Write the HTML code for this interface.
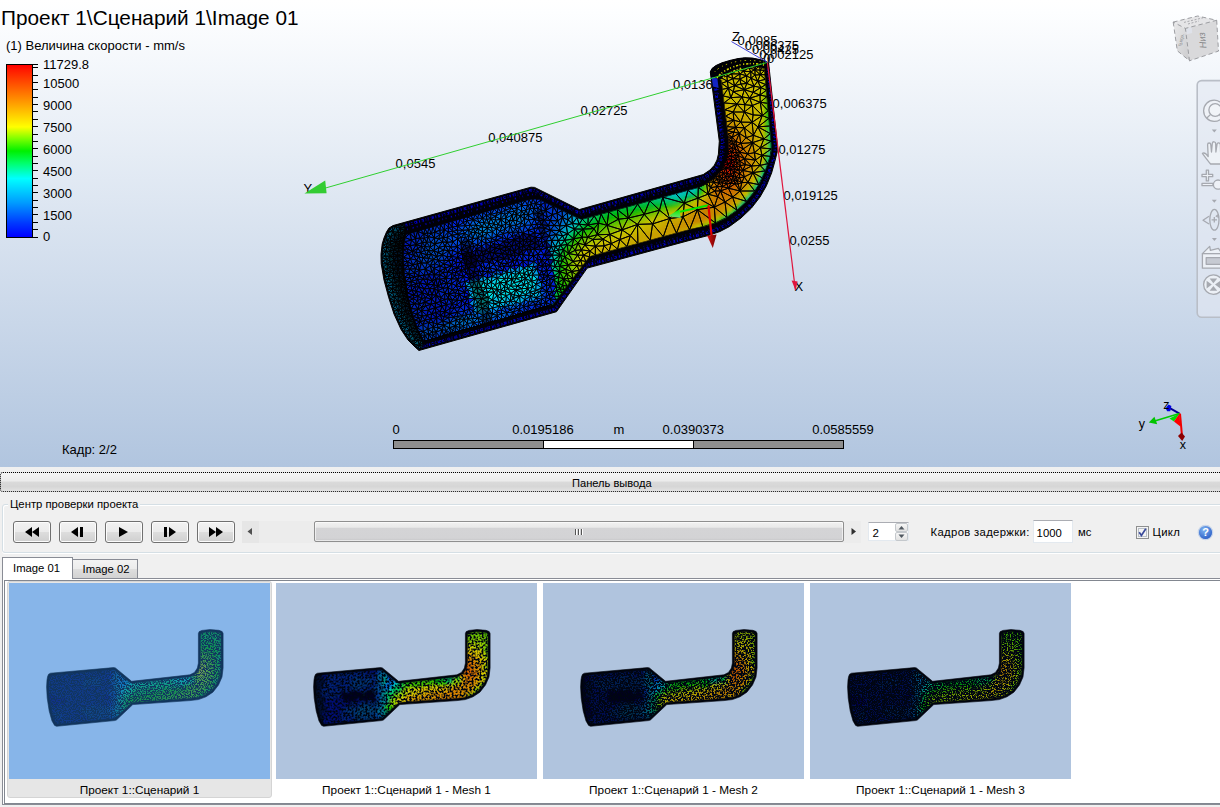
<!DOCTYPE html>
<html><head><meta charset="utf-8">
<style>
*{box-sizing:border-box;margin:0;padding:0}
html,body{width:1220px;height:807px;overflow:hidden;background:#f0f0f0;font-family:"Liberation Sans",sans-serif;}
#vp{position:absolute;left:0;top:0;width:1220px;height:467px;background:linear-gradient(#ffffff 0px,#fdfeff 12px,#b1c5df 467px);overflow:hidden}
.t{position:absolute;white-space:nowrap;color:#000;line-height:1}
#title{left:1px;top:8px;font-size:20.8px;}
#sub{left:6px;top:39px;font-size:13px;}
.lg{font-size:13px;left:43px}
.ax{font-size:13px}
#panel{position:absolute;left:0;top:467px;width:1220px;height:340px;background:#f0f0f0}
.ui{font-size:11px;position:absolute;white-space:nowrap;color:#000;line-height:1}
.btn{position:absolute;top:521px;width:38px;height:22px;border:1px solid #707070;border-radius:3px;background:linear-gradient(#f2f2f2 0%,#ebebeb 48%,#dddddd 52%,#cfcfcf 100%);box-shadow:inset 0 0 0 1px #fcfcfc}
.thumb{position:absolute;top:583px;width:261px;height:196px;background:#b0c4de;overflow:hidden}
.cap{position:absolute;top:784.9px;width:261px;text-align:center;font-size:11.8px;color:#000;line-height:1;white-space:nowrap}
</style></head><body>
<div id="vp">
<div class="t ax" style="left:673.0px;top:77.9px;">0,013625</div>
<div class="t ax" style="left:580.6px;top:104.2px;">0,02725</div>
<div class="t ax" style="left:488.2px;top:130.7px;">0,040875</div>
<div class="t ax" style="left:395.6px;top:156.8px;">0,0545</div>
<div class="t ax" style="left:303.4px;top:182.4px;">Y</div>
<div class="t ax" style="left:772.6px;top:97.2px;">0,006375</div>
<div class="t ax" style="left:778.4px;top:142.8px;">0,01275</div>
<div class="t ax" style="left:783.6px;top:188.5px;">0,019125</div>
<div class="t ax" style="left:789.6px;top:234.4px;">0,0255</div>
<div class="t ax" style="left:794.6px;top:279.8px;">X</div>
<div class="t ax" style="left:732.0px;top:30.2px;">Z</div>
<div class="t ax" style="left:737.6px;top:33.8px;">0,0085</div>
<div class="t ax" style="left:744.8px;top:38.6px;">0,006375</div>
<div class="t ax" style="left:752.0px;top:43.4px;">0,00425</div>
<div class="t ax" style="left:759.2px;top:48.0px;">0,002125</div>
<div class="t ax" style="left:767.0px;top:51.8px;">0</div>
<div class="t ax" style="left:763.2px;top:51.8px;">0</div>
<svg style="position:absolute;left:0;top:0" width="1220" height="467" viewBox="0 0 1220 467">
<defs><clipPath id="cI"><polygon points="406.0,234.5 530.0,199.2 538.0,199.0 581.0,219.6 700.0,187.0 707.0,183.4 715.2,177.4 722.6,169.0 726.8,158.6 728.8,150.0 728.6,141.0 721.3,80.9 722.0,75.0 725.5,70.0 733.0,66.4 744.0,63.8 756.0,64.2 764.2,67.3 771.4,145.0 771.2,152.0 768.8,161.2 765.0,171.6 760.0,182.4 753.8,192.6 746.0,202.0 736.2,211.0 725.6,218.2 716.8,222.4 706.0,226.0 693.6,228.6 589.5,256.6 553.0,304.5 424.0,341.5 418.0,330.0 412.0,312.0 407.5,294.0 404.5,276.0 403.5,258.0 404.0,244.0"/></clipPath><clipPath id="cS"><polygon points="386.5,232.0 389.0,228.0 393.0,225.6 531.0,187.2 534.5,187.4 579.3,209.6 703.2,174.6 710.0,170.0 714.3,165.3 717.0,160.0 718.4,154.2 719.3,141.2 710.4,72.7 710.2,72.0 712.0,68.5 716.0,65.5 722.0,62.8 730.0,60.4 738.0,58.6 744.5,57.8 752.0,58.0 760.0,59.6 765.0,61.0 768.6,62.8 777.3,145.0 777.2,152.0 774.8,161.6 771.6,173.0 766.4,185.8 760.0,197.0 751.5,208.0 741.0,218.0 729.2,226.7 720.0,231.5 708.0,235.6 695.8,238.7 587.2,268.1 556.5,311.7 418.9,350.5 414.0,346.0 408.0,340.0 401.0,329.4 394.0,314.0 388.6,297.2 384.0,280.0 381.2,263.7 381.0,254.3 382.2,244.0 384.0,238.0"/></clipPath><filter id="pb" x="-5%" y="-5%" width="110%" height="110%"><feGaussianBlur stdDeviation="1.6"/></filter></defs>
<polygon points="386.5,232.0 389.0,228.0 393.0,225.6 531.0,187.2 534.5,187.4 579.3,209.6 703.2,174.6 710.0,170.0 714.3,165.3 717.0,160.0 718.4,154.2 719.3,141.2 710.4,72.7 710.2,72.0 712.0,68.5 716.0,65.5 722.0,62.8 730.0,60.4 738.0,58.6 744.5,57.8 752.0,58.0 760.0,59.6 765.0,61.0 768.6,62.8 777.3,145.0 777.2,152.0 774.8,161.6 771.6,173.0 766.4,185.8 760.0,197.0 751.5,208.0 741.0,218.0 729.2,226.7 720.0,231.5 708.0,235.6 695.8,238.7 587.2,268.1 556.5,311.7 418.9,350.5 414.0,346.0 408.0,340.0 401.0,329.4 394.0,314.0 388.6,297.2 384.0,280.0 381.2,263.7 381.0,254.3 382.2,244.0 384.0,238.0" fill="#000008" stroke="#000" stroke-width="1"/>
<g clip-path="url(#cS)"><polygon points="389.2,233.4 386.8,239.0 385.1,244.6 384.0,254.4 384.2,263.4 386.9,279.4 391.5,296.4 396.8,312.9 403.6,327.9 410.3,338.1 416.1,343.8 419.7,347.2 554.7,309.1 584.7,266.4 584.9,266.1 585.1,265.9 585.4,265.7 585.6,265.6 585.9,265.4 586.1,265.3 586.4,265.2 695.0,235.8 695.1,235.8 707.1,232.7 718.8,228.7 727.6,224.1 739.1,215.7 749.3,206.0 757.5,195.3 763.7,184.5 768.8,172.0 771.9,160.8 774.2,151.6 774.3,145.1 765.8,64.7 763.9,63.8 759.3,62.5 751.7,61.0 744.6,60.8 738.5,61.6 730.8,63.3 723.1,65.6 717.5,68.1 714.4,70.5 713.4,72.4 722.3,140.8 722.3,141.1 722.3,141.4 721.4,154.4 721.4,154.7 721.3,154.9 719.9,160.7 719.8,161.0 719.7,161.4 717.0,166.7 716.8,166.9 716.7,167.1 716.5,167.3 712.2,172.0 712.0,172.3 711.7,172.5 704.9,177.1 704.6,177.2 704.3,177.4 704.0,177.5 580.1,212.5 579.8,212.6 579.5,212.6 579.2,212.6 578.9,212.6 578.6,212.5 578.3,212.4 578.0,212.3 533.7,190.4 531.3,190.2 394.2,228.4 391.2,230.2 389.2,233.4" fill="none" stroke="#0000c0" stroke-width="2.7" stroke-dasharray="2.4 1.6 1.1 1.5 3.2 1.8 1.6 1.3 0.8 1.7"/><polygon points="389.2,233.4 386.8,239.0 385.1,244.6 384.0,254.4 384.2,263.4 386.9,279.4 391.5,296.4 396.8,312.9 403.6,327.9 410.3,338.1 416.1,343.8 419.7,347.2 554.7,309.1 584.7,266.4 584.9,266.1 585.1,265.9 585.4,265.7 585.6,265.6 585.9,265.4 586.1,265.3 586.4,265.2 695.0,235.8 695.1,235.8 707.1,232.7 718.8,228.7 727.6,224.1 739.1,215.7 749.3,206.0 757.5,195.3 763.7,184.5 768.8,172.0 771.9,160.8 774.2,151.6 774.3,145.1 765.8,64.7 763.9,63.8 759.3,62.5 751.7,61.0 744.6,60.8 738.5,61.6 730.8,63.3 723.1,65.6 717.5,68.1 714.4,70.5 713.4,72.4 722.3,140.8 722.3,141.1 722.3,141.4 721.4,154.4 721.4,154.7 721.3,154.9 719.9,160.7 719.8,161.0 719.7,161.4 717.0,166.7 716.8,166.9 716.7,167.1 716.5,167.3 712.2,172.0 712.0,172.3 711.7,172.5 704.9,177.1 704.6,177.2 704.3,177.4 704.0,177.5 580.1,212.5 579.8,212.6 579.5,212.6 579.2,212.6 578.9,212.6 578.6,212.5 578.3,212.4 578.0,212.3 533.7,190.4 531.3,190.2 394.2,228.4 391.2,230.2 389.2,233.4" fill="none" stroke="#000008" stroke-width="1.2" stroke-dasharray="1.6 1.5 1 2.2 2.4 1.3"/><polygon points="390.2,233.9 387.9,239.4 386.2,244.8 385.1,254.5 385.3,263.3 388.0,279.1 392.5,296.0 397.8,312.5 404.6,327.4 411.2,337.4 416.8,343.0 420.0,345.9 554.0,308.1 583.8,265.7 584.1,265.4 584.4,265.1 584.7,264.9 585.0,264.6 585.4,264.4 585.7,264.3 586.1,264.1 694.7,234.7 694.8,234.7 706.8,231.7 718.4,227.7 727.0,223.2 738.4,214.9 748.4,205.2 756.6,194.7 762.7,184.0 767.7,171.7 770.8,160.5 773.1,151.5 773.2,145.2 764.8,65.5 763.5,64.8 759.0,63.6 751.5,62.1 744.7,61.9 738.7,62.6 731.0,64.4 723.4,66.6 718.1,69.1 715.2,71.2 714.5,72.6 723.4,140.7 723.4,141.1 723.4,141.5 722.5,154.5 722.5,154.8 722.4,155.2 721.0,161.0 720.8,161.4 720.7,161.9 718.0,167.2 717.8,167.5 717.6,167.8 717.3,168.1 713.0,172.8 712.7,173.1 712.3,173.4 705.5,178.0 705.1,178.2 704.7,178.4 704.3,178.5 580.4,213.5 580.0,213.6 579.6,213.7 579.1,213.7 578.7,213.7 578.3,213.6 577.9,213.4 577.5,213.3 533.4,191.4 531.4,191.3 394.6,229.4 392.0,231.0 390.2,233.9" fill="none" stroke="#000008" stroke-width="0.9" stroke-dasharray="0.9 3.3 1.6 2.2"/></g>
<g clip-path="url(#cS)"><polygon points="401.5,233.6 399.5,243.1 399.4,243.4 399.4,243.8 398.9,257.8 398.9,258.3 399.9,276.3 400.0,276.8 403.0,294.8 403.0,295.1 407.5,313.1 407.6,313.5 413.6,331.5 413.8,331.8 413.9,332.1 419.9,343.6 420.1,344.0 420.4,344.4 420.7,344.7 421.0,345.0 421.4,345.3 421.8,345.5 422.2,345.7 422.6,345.9 423.0,346.0 423.5,346.1 423.9,346.1 424.4,346.1 424.8,346.0 425.3,345.9 554.3,308.9 554.7,308.8 555.1,308.6 555.4,308.4 555.8,308.2 556.1,307.9 556.4,307.6 556.7,307.3 592.2,260.6 694.7,233.1 706.9,230.5 707.5,230.4 718.3,226.8 718.8,226.6 727.6,222.4 727.9,222.2 728.2,222.0 738.8,214.8 739.3,214.4 749.1,205.4 749.5,204.9 757.3,195.5 757.7,195.0 763.9,184.8 764.2,184.3 769.2,173.5 769.3,173.2 773.1,162.8 773.3,162.4 775.7,153.2 775.8,152.7 775.8,152.1 776.0,145.1 776.0,144.6 768.8,66.9 768.7,66.4 768.6,66.0 768.4,65.5 768.2,65.1 768.0,64.7 767.7,64.3 767.4,64.0 767.0,63.7 766.7,63.4 766.3,63.2 765.8,63.0 757.6,59.9 757.1,59.7 756.7,59.6 756.2,59.6 744.2,59.2 743.7,59.2 743.3,59.2 742.9,59.3 731.9,61.9 731.5,62.1 731.0,62.3 723.5,65.9 723.1,66.1 722.7,66.3 722.3,66.7 722.0,67.0 721.7,67.4 718.2,72.4 718.0,72.7 717.8,73.2 717.6,73.6 717.5,74.0 717.4,74.5 716.7,80.4 716.7,80.9 716.7,81.5 724.0,141.3 724.2,149.5 722.4,157.2 718.6,166.5 712.1,174.0 704.6,179.5 698.3,182.7 581.4,214.7 540.0,194.9 539.6,194.7 539.2,194.6 538.7,194.5 538.3,194.4 537.9,194.4 529.9,194.6 529.5,194.6 529.1,194.7 528.7,194.8 404.7,230.1 404.3,230.2 403.9,230.4 403.5,230.6 403.1,230.9 402.8,231.2 402.5,231.5 402.2,231.9 402.0,232.3 401.8,232.7 401.6,233.1 401.5,233.6" fill="none" stroke="#0000b8" stroke-width="1.6" stroke-dasharray="0.9 3.1 1.6 4.4 0.7 2.6"/><polygon points="401.5,233.6 399.5,243.1 399.4,243.4 399.4,243.8 398.9,257.8 398.9,258.3 399.9,276.3 400.0,276.8 403.0,294.8 403.0,295.1 407.5,313.1 407.6,313.5 413.6,331.5 413.8,331.8 413.9,332.1 419.9,343.6 420.1,344.0 420.4,344.4 420.7,344.7 421.0,345.0 421.4,345.3 421.8,345.5 422.2,345.7 422.6,345.9 423.0,346.0 423.5,346.1 423.9,346.1 424.4,346.1 424.8,346.0 425.3,345.9 554.3,308.9 554.7,308.8 555.1,308.6 555.4,308.4 555.8,308.2 556.1,307.9 556.4,307.6 556.7,307.3 592.2,260.6 694.7,233.1 706.9,230.5 707.5,230.4 718.3,226.8 718.8,226.6 727.6,222.4 727.9,222.2 728.2,222.0 738.8,214.8 739.3,214.4 749.1,205.4 749.5,204.9 757.3,195.5 757.7,195.0 763.9,184.8 764.2,184.3 769.2,173.5 769.3,173.2 773.1,162.8 773.3,162.4 775.7,153.2 775.8,152.7 775.8,152.1 776.0,145.1 776.0,144.6 768.8,66.9 768.7,66.4 768.6,66.0 768.4,65.5 768.2,65.1 768.0,64.7 767.7,64.3 767.4,64.0 767.0,63.7 766.7,63.4 766.3,63.2 765.8,63.0 757.6,59.9 757.1,59.7 756.7,59.6 756.2,59.6 744.2,59.2 743.7,59.2 743.3,59.2 742.9,59.3 731.9,61.9 731.5,62.1 731.0,62.3 723.5,65.9 723.1,66.1 722.7,66.3 722.3,66.7 722.0,67.0 721.7,67.4 718.2,72.4 718.0,72.7 717.8,73.2 717.6,73.6 717.5,74.0 717.4,74.5 716.7,80.4 716.7,80.9 716.7,81.5 724.0,141.3 724.2,149.5 722.4,157.2 718.6,166.5 712.1,174.0 704.6,179.5 698.3,182.7 581.4,214.7 540.0,194.9 539.6,194.7 539.2,194.6 538.7,194.5 538.3,194.4 537.9,194.4 529.9,194.6 529.5,194.6 529.1,194.7 528.7,194.8 404.7,230.1 404.3,230.2 403.9,230.4 403.5,230.6 403.1,230.9 402.8,231.2 402.5,231.5 402.2,231.9 402.0,232.3 401.8,232.7 401.6,233.1 401.5,233.6" fill="none" stroke="#000008" stroke-width="1.0" stroke-dasharray="1.2 1.9 0.8 2.6 1.9 1.5"/></g>
<polygon points="403.7,234.0 401.7,243.5 401.6,243.7 401.6,243.9 401.1,257.9 401.1,258.1 402.1,276.1 402.1,276.4 405.1,294.4 405.2,294.6 409.7,312.6 409.7,312.8 415.7,330.8 415.8,330.9 415.9,331.1 421.9,342.6 422.0,342.8 422.1,343.0 422.3,343.2 422.5,343.3 422.6,343.5 422.8,343.6 423.1,343.7 423.3,343.8 423.5,343.8 423.7,343.9 424.0,343.9 424.2,343.9 424.4,343.9 424.7,343.8 553.7,306.8 553.9,306.7 554.1,306.6 554.3,306.5 554.4,306.4 554.6,306.3 554.8,306.1 554.9,306.0 590.9,258.7 694.2,230.9 706.5,228.3 706.8,228.3 717.6,224.7 717.8,224.6 726.6,220.4 726.8,220.3 726.9,220.2 737.5,213.0 737.8,212.8 747.6,203.8 747.8,203.5 755.6,194.1 755.9,193.8 762.1,183.6 762.2,183.4 767.2,172.6 767.3,172.4 771.1,162.0 771.1,161.8 773.5,152.6 773.6,152.3 773.6,152.1 773.8,145.1 773.8,144.8 766.6,67.1 766.6,66.8 766.5,66.6 766.4,66.4 766.3,66.2 766.2,65.9 766.0,65.8 765.9,65.6 765.7,65.4 765.5,65.3 765.3,65.2 765.0,65.1 756.8,62.0 756.6,61.9 756.3,61.8 756.1,61.8 744.1,61.4 743.9,61.4 743.7,61.4 743.4,61.5 732.4,64.1 732.2,64.1 732.0,64.2 724.5,67.8 724.2,68.0 724.0,68.1 723.9,68.3 723.7,68.4 723.5,68.6 720.0,73.6 719.9,73.8 719.8,74.0 719.7,74.3 719.7,74.5 719.6,74.7 718.9,80.6 718.9,80.9 718.9,81.2 726.2,141.2 726.4,149.8 724.5,157.9 720.5,167.7 713.6,175.6 705.7,181.4 699.1,184.8 581.2,217.0 539.0,196.8 538.8,196.7 538.6,196.7 538.4,196.6 538.2,196.6 537.9,196.6 529.9,196.8 529.7,196.8 529.5,196.8 529.3,196.9 405.3,232.2 405.1,232.3 404.9,232.4 404.7,232.5 404.5,232.6 404.3,232.8 404.2,233.0 404.0,233.1 403.9,233.3 403.8,233.6 403.7,233.8 403.7,234.0" fill="#000008"/>
<g stroke="#000" stroke-width="1.0" stroke-linejoin="round"><path fill="#003c54" d="M422.8 343.2L419 345.2L421.6 340.3ZM419 345.2L418.2 340.3L421.6 340.3ZM392.5 288.7L397.2 286.3L395.4 290.1ZM392.8 231.6L398 232.1L394.5 234.4ZM390.3 237.1L392.8 231.6L394.5 234.4ZM387 263.8L389.8 261.8L391.8 264.9ZM389.7 267.3L387 263.8L391.8 264.9ZM398 301.3L394.2 296.9L398.4 296.4ZM394.2 296.9L397.4 293.3L398.4 296.4ZM397.4 293.3L392.5 292.2L395.4 290.1ZM395.3 282.5L392.9 284.8L391.6 281.8ZM392.9 284.8L397.2 286.3L392.5 288.7ZM390 256.2L389.8 261.8L387 259.4ZM401.9 319.5L404 314.7L406.8 317.6ZM394.2 239.4L390.6 241.2L390.3 237.1ZM391.5 247.4L386.6 247.2L390.4 244.4ZM390.2 251.1L390 256.2L386.4 251.1ZM390.2 251.1L386.6 247.2L391.5 247.4ZM398.7 310.5L399.1 304.2L401.9 307.5ZM410.5 324.8L409.3 330.2L406.1 327.1ZM406.2 323.6L410.5 324.8L406.1 327.1ZM406.2 323.6L405 320.8L408.4 320.8ZM405 320.8L401.9 319.5L406.8 317.6ZM401.3 316.3L401.7 312.2L404 314.7ZM401.7 312.2L398.7 310.5L401.9 307.5ZM393.4 273.1L389.1 276.2L390.2 271.8ZM389.1 276.2L393.4 273.1L393.7 277.6ZM409.3 330.2L411.9 328.6L412 331.9Z"/><path fill="#006084" d="M419 345.2L416 346.3L413.7 344ZM416 346.3L419 345.2L418.4 348.4ZM382.3 260.8L382.3 257.6L387 259.4ZM382.6 251.1L386.4 251.1L382.2 254.3ZM382.9 247.9L386.4 251.1L382.6 251.1ZM394.2 296.9L394.3 300.8L390.3 298.6ZM386.9 286.2L386.1 283.1L391.6 281.8ZM392.5 292.2L394.2 296.9L389.4 295.5ZM411.4 341.7L414.5 340.5L413.7 344ZM414.5 340.5L411.4 341.7L409.1 339.5ZM407.3 336.8L409.4 334.4L409.1 339.5ZM386.4 251.1L385 256.1L382.2 254.3ZM387 263.8L382.5 264L382.3 260.8ZM387 243.9L383.3 244.7L384.2 241.6ZM383.3 244.7L386.6 247.2L382.9 247.9ZM387.1 272.8L383.6 270.4L387.1 269ZM395.5 305.3L398.7 310.5L393.3 307.9ZM395.5 305.3L392.3 304.8L394.3 300.8ZM396.7 316.9L401.3 316.3L398 319.9ZM392.8 231.6L388.1 231.8L389.8 229ZM387.6 232.6L388.1 231.8L392.8 231.6ZM386.3 235.5L387.6 232.6L390.3 237.1ZM399.3 322.8L405 320.8L400.7 325.8ZM398.8 314.2L395.3 314L398.7 310.5ZM385.1 238.5L387.4 240.5L384.2 241.6ZM385.1 238.5L386.3 235.5L387.4 240.5ZM384.7 276.8L389.1 276.2L388.3 279.4ZM389.1 276.2L384.7 276.8L387.1 272.8ZM402 328.7L400.7 325.8L406.1 327.1ZM403.8 331.4L402 328.7L406.1 327.1ZM405.5 334.1L403.8 331.4L409.3 330.2ZM405.5 334.1L409.4 334.4L407.3 336.8Z"/><path fill="#003c60" d="M419 345.2L422.8 343.2L422.8 346.4ZM418.2 340.3L414.5 340.5L415.8 337.3ZM401.7 224.6L398.6 225.4L395.5 226.2ZM399.8 228.4L398 232.1L395.5 226.2ZM413.4 335.3L409.4 334.4L412 331.9ZM414.5 340.5L413.4 335.3L415.8 337.3ZM387 243.9L390.6 241.2L390.4 244.4Z"/><path fill="#00486c" d="M421.3 348.5L419 345.2L422.8 346.4ZM394.2 296.9L398 301.3L394.3 300.8ZM390.6 241.2L387 243.9L387.4 240.5ZM387.1 272.8L387.1 269L390.2 271.8ZM395.5 305.3L399.1 304.2L398.7 310.5ZM405 320.8L406.2 323.6L400.7 325.8ZM398.8 314.2L401.7 312.2L401.3 316.3ZM401.7 312.2L398.8 314.2L398.7 310.5ZM389.1 276.2L387.1 272.8L390.2 271.8Z"/><path fill="#005478" d="M419 345.2L421.3 348.5L418.4 348.4ZM392.8 231.6L392.5 227.3L395.5 226.2ZM387.4 240.5L387 243.9L384.2 241.6ZM387 263.8L382.3 260.8L387 259.4ZM392.9 284.8L386.9 286.2L391.6 281.8ZM386.9 286.2L392.9 284.8L392.5 288.7ZM386.6 247.2L386.4 251.1L382.9 247.9ZM386.6 247.2L383.3 244.7L387 243.9ZM401.3 316.3L401.9 319.5L398 319.9ZM386.3 235.5L390.3 237.1L387.4 240.5ZM409.3 330.2L403.8 331.4L406.1 327.1ZM405 320.8L399.3 322.8L401.9 319.5ZM405.5 334.1L409.3 330.2L409.4 334.4Z"/><path fill="#001830" d="M398 260.6L396.3 265.8L394.1 260ZM396.3 265.8L391.8 264.9L394.1 260ZM400.9 287.3L404.8 284.9L405.3 288ZM397.6 255.5L398 260.6L394.1 260ZM411.1 313.2L410.3 310.1L412.2 316.3ZM407.9 300.7L408.7 303.8L405.2 303ZM399.1 277.5L403.7 278.5L400.5 281.4ZM393.6 269.2L396.3 265.8L397.8 269ZM400.9 287.3L401.7 284.2L404.8 284.9ZM401.7 284.2L397.2 286.3L400.5 281.4ZM397.2 286.3L401.7 284.2L400.9 287.3ZM396.7 273.2L393.6 269.2L397.8 269ZM409.5 306.9L413.2 319.3L412.2 316.3ZM413.2 319.3L409.5 306.9L408.7 303.8ZM410.3 310.1L409.5 306.9L412.2 316.3ZM403.7 278.5L403.3 275.3L403.1 272.1ZM403.3 275.3L403.7 278.5L399.1 277.5ZM402.5 262.4L402.4 259.2L402.4 255.9ZM402.4 259.2L402.5 262.4L398 260.6ZM402.4 259.2L397.6 255.5L402.4 255.9ZM397.6 255.5L402.4 259.2L398 260.6ZM402.5 252.7L402.5 262.4L402.4 255.9ZM402.6 249.5L402.5 252.7L397.7 251.5ZM397.6 255.5L402.5 252.7L402.4 255.9ZM402.5 252.7L397.6 255.5L397.7 251.5ZM399.7 264.5L402.5 262.4L402.7 265.6ZM396.3 265.8L399.7 264.5L397.8 269ZM399.7 264.5L396.3 265.8L398 260.6ZM402.5 262.4L399.7 264.5L398 260.6ZM399.7 264.5L402.9 268.8L397.8 269ZM402.9 268.8L399.7 264.5L402.7 265.6ZM401.7 284.2L404.2 281.7L404.8 284.9ZM404.2 281.7L403.7 278.5L403.1 272.1ZM403.7 278.5L404.2 281.7L400.5 281.4ZM404.2 281.7L401.7 284.2L400.5 281.4ZM402.9 268.8L404.2 281.7L403.1 272.1ZM404.2 281.7L402.9 268.8L404.8 284.9ZM400 273.1L396.7 273.2L397.8 269ZM402.9 268.8L400 273.1L397.8 269ZM400 273.1L402.9 268.8L403.1 272.1ZM403.3 275.3L400 273.1L403.1 272.1ZM396.7 273.2L400 273.1L399.1 277.5ZM400 273.1L403.3 275.3L399.1 277.5ZM393.7 277.6L396.7 273.2L399.1 277.5ZM418.8 334.4L415.2 325.5L420.2 337.4ZM418.8 334.4L417.4 331.5L416.2 328.5ZM411.1 313.2L407.1 314.1L410.3 310.1ZM407.1 314.1L411.1 313.2L412.2 316.3ZM406.8 317.6L407.1 314.1L412.2 316.3ZM408.7 303.8L405.2 306.3L405.2 303ZM409.5 306.9L405.2 306.3L408.7 303.8ZM407.9 300.7L407.2 297.5L405.3 288ZM407.2 297.5L405.8 291.2L405.3 288ZM405.8 291.2L401.7 292.4L405.3 288ZM401.7 292.4L400.9 287.3L405.3 288ZM401.7 292.4L399.6 290.1L400.9 287.3ZM397.4 280.2L399.1 277.5L400.5 281.4ZM407.2 297.5L403 299L403.4 295.7ZM403 299L407.9 300.7L405.2 303ZM403 299L407.2 297.5L407.9 300.7ZM393.3 256.8L397.6 255.5L394.1 260ZM408.4 320.8L413.2 319.3L414.2 322.4ZM413.2 319.3L408.4 320.8L412.2 316.3ZM407.1 314.1L405.4 311.4L410.3 310.1ZM405.4 311.4L409.5 306.9L410.3 310.1ZM405.4 311.4L405.2 306.3L409.5 306.9ZM407.2 297.5L406.4 294.4L405.8 291.2ZM406.4 294.4L407.2 297.5L403.4 295.7ZM406.4 294.4L401.7 292.4L405.8 291.2ZM401.7 292.4L406.4 294.4L403.4 295.7ZM393 253.7L393.9 249.6L397.7 251.5ZM397.6 255.5L393 253.7L397.7 251.5ZM393.3 256.8L393 253.7L397.6 255.5ZM415.2 325.5L410.5 324.8L414.2 322.4ZM394.2 239.4L398.1 239L395.6 242.2ZM411.9 328.6L415.2 325.5L416.2 328.5ZM398.7 235.3L401 232.9L401.1 237.8Z"/><path fill="#00243c" d="M391.8 264.9L389.8 261.8L394.1 260ZM404.8 227.1L399.8 228.4L401.7 224.6ZM418.8 334.4L420.2 337.4L415.8 337.3ZM418.8 334.4L413.4 335.3L417.4 331.5ZM397.4 293.3L401.7 292.4L398.4 296.4ZM390.6 241.2L394.2 239.4L395.6 242.2ZM393.7 277.6L397.4 280.2L395.3 282.5ZM393.7 277.6L393.4 273.1L396.7 273.2ZM395.2 245.9L391.5 247.4L390.4 244.4ZM390 256.2L393.3 256.8L394.1 260ZM390.2 251.1L391.5 247.4L393.9 249.6ZM405.4 311.4L407.1 314.1L404 314.7ZM405.2 306.3L405.4 311.4L401.9 307.5ZM401.6 302L405.2 306.3L401.9 307.5ZM393 253.7L393.3 256.8L390 256.2ZM393 253.7L390.2 251.1L393.9 249.6ZM401 232.9L399.8 228.4L404.8 230.3ZM398.1 239L394.2 239.4L394.5 234.4ZM412 331.9L411.9 328.6L416.2 328.5ZM401 232.9L398.7 235.3L398 232.1Z"/><path fill="#001824" d="M399.6 247.7L402.6 249.5L397.7 251.5ZM393.9 249.6L399.6 247.7L397.7 251.5ZM403.5 239.9L402.7 246.3L403 243ZM402.7 246.3L403.5 239.9L402.6 249.5ZM399.6 247.7L402.7 246.3L402.6 249.5ZM403.5 239.9L404.1 236.7L402.6 249.5ZM402.7 246.3L398.3 244.5L403 243ZM398.3 244.5L402.7 246.3L399.6 247.7ZM415.2 325.5L418.8 334.4L416.2 328.5ZM400.4 241.3L403.5 239.9L403 243ZM398.3 244.5L400.4 241.3L403 243ZM400.4 241.3L398.3 244.5L395.6 242.2ZM393.9 249.6L395.2 245.9L399.6 247.7ZM395.2 245.9L398.3 244.5L399.6 247.7ZM398.3 244.5L395.2 245.9L395.6 242.2ZM401.1 237.8L404.1 236.7L403.5 239.9ZM400.4 241.3L401.1 237.8L403.5 239.9ZM404.1 236.7L401 232.9L404.7 233.5ZM401.1 237.8L401 232.9L404.1 236.7ZM401 232.9L404.8 230.3L404.7 233.5ZM398.1 239L401.1 237.8L400.4 241.3ZM398.1 239L400.4 241.3L395.6 242.2ZM398.1 239L398.7 235.3L401.1 237.8Z"/><path fill="#003048" d="M418.2 340.3L420.2 337.4L421.6 340.3ZM420.2 337.4L418.2 340.3L415.8 337.3ZM394.2 239.4L390.3 237.1L394.5 234.4ZM389.7 267.3L393.6 269.2L390.2 271.8ZM393.6 269.2L389.7 267.3L391.8 264.9ZM393.7 277.6L395.3 282.5L391.6 281.8ZM399.6 290.1L397.4 293.3L395.4 290.1ZM392.9 284.8L395.3 282.5L397.2 286.3ZM417.4 331.5L413.4 335.3L412 331.9ZM413.4 335.3L418.8 334.4L415.8 337.3ZM390.6 241.2L395.6 242.2L390.4 244.4ZM403 299L398 301.3L398.4 296.4ZM393.6 269.2L393.4 273.1L390.2 271.8ZM399.1 304.2L401.6 302L401.9 307.5ZM410.5 324.8L406.2 323.6L408.4 320.8ZM408.4 320.8L405 320.8L406.8 317.6ZM401.7 312.2L405.4 311.4L404 314.7ZM405.4 311.4L401.7 312.2L401.9 307.5ZM401 232.9L398 232.1L399.8 228.4ZM410.5 324.8L411.9 328.6L409.3 330.2Z"/><path fill="#00546c" d="M418.2 340.3L419 345.2L413.7 344ZM414.5 340.5L418.2 340.3L413.7 344ZM409.4 334.4L413.4 335.3L409.1 339.5ZM413.4 335.3L414.5 340.5L409.1 339.5ZM390.3 237.1L387.6 232.6L392.8 231.6ZM398 301.3L395.5 305.3L394.3 300.8ZM400.7 325.8L406.2 323.6L406.1 327.1Z"/><path fill="#002430" d="M404.8 227.1L401.7 224.6L404.8 223.8ZM399.8 228.4L404.8 227.1L404.8 230.3ZM396.3 265.8L393.6 269.2L391.8 264.9ZM399.6 290.1L397.2 286.3L400.9 287.3ZM417.4 331.5L412 331.9L416.2 328.5ZM397.2 286.3L395.3 282.5L400.5 281.4ZM401.7 292.4L397.4 293.3L399.6 290.1ZM401.7 292.4L403.4 295.7L398.4 296.4ZM395.3 282.5L397.4 280.2L400.5 281.4ZM397.4 280.2L393.7 277.6L399.1 277.5ZM403.4 295.7L403 299L398.4 296.4ZM396.7 273.2L393.4 273.1L393.6 269.2ZM391.5 247.4L395.2 245.9L393.9 249.6ZM395.6 242.2L395.2 245.9L390.4 244.4ZM408.4 320.8L406.8 317.6L412.2 316.3ZM401.6 302L403 299L405.2 303ZM405.2 306.3L401.6 302L405.2 303ZM410.5 324.8L408.4 320.8L414.2 322.4ZM411.9 328.6L410.5 324.8L415.2 325.5ZM398.7 235.3L398.1 239L394.5 234.4Z"/><path fill="#005484" d="M392.5 227.3L392.8 231.6L389.8 229Z"/><path fill="#00303c" d="M397.2 286.3L399.6 290.1L395.4 290.1ZM389.8 261.8L390 256.2L394.1 260ZM404 314.7L407.1 314.1L406.8 317.6ZM403 299L401.6 302L398 301.3ZM390.2 251.1L393 253.7L390 256.2ZM398 232.1L398.7 235.3L394.5 234.4Z"/><path fill="#006c90" d="M389.4 295.5L394.2 296.9L390.3 298.6ZM385 256.1L382.3 257.6L382.2 254.3ZM385.2 279.9L388.3 279.4L386.1 283.1ZM387.7 289.3L386.9 286.2L392.5 288.7ZM398.7 310.5L394.3 310.9L393.3 307.9ZM387.1 269L383.6 270.4L383 267.2ZM383.6 270.4L387.1 272.8L384.1 273.6ZM394.3 300.8L391.3 301.7L390.3 298.6ZM392.3 304.8L391.3 301.7L394.3 300.8ZM392.3 304.8L395.5 305.3L393.3 307.9ZM388.6 292.4L392.5 292.2L389.4 295.5ZM388.6 292.4L387.7 289.3L392.5 288.7ZM398.7 310.5L395.3 314L394.3 310.9ZM388.1 231.8L387.6 232.6L389.8 229ZM387.1 272.8L384.7 276.8L384.1 273.6ZM384.7 276.8L388.3 279.4L385.2 279.9ZM395.3 314L398.8 314.2L396.7 316.9ZM403.8 331.4L405.5 334.1L407.3 336.8Z"/><path fill="#004860" d="M392.5 292.2L392.5 288.7L395.4 290.1ZM398.6 225.4L399.8 228.4L395.5 226.2ZM398 232.1L392.8 231.6L395.5 226.2ZM389.8 261.8L387 263.8L387 259.4ZM387.1 269L389.7 267.3L390.2 271.8ZM387 263.8L389.7 267.3L387.1 269ZM388.3 279.4L393.7 277.6L391.6 281.8ZM392.5 292.2L397.4 293.3L394.2 296.9ZM385 256.1L390 256.2L387 259.4ZM390 256.2L385 256.1L386.4 251.1ZM390.3 237.1L390.6 241.2L387.4 240.5ZM386.6 247.2L387 243.9L390.4 244.4ZM386.6 247.2L390.2 251.1L386.4 251.1ZM409.4 334.4L409.3 330.2L412 331.9ZM401.9 319.5L401.3 316.3L404 314.7ZM399.1 304.2L395.5 305.3L398 301.3ZM389.1 276.2L393.7 277.6L388.3 279.4Z"/><path fill="#003054" d="M399.8 228.4L398.6 225.4L401.7 224.6Z"/><path fill="#006078" d="M382.3 257.6L385 256.1L387 259.4ZM387 263.8L387.1 269L383 267.2ZM386.1 283.1L388.3 279.4L391.6 281.8ZM392.5 292.2L388.6 292.4L392.5 288.7ZM398.8 314.2L401.3 316.3L396.7 316.9Z"/><path fill="#006090" d="M382.5 264L387 263.8L383 267.2ZM401.9 319.5L399.3 322.8L398 319.9Z"/><path fill="#003c48" d="M401.6 302L399.1 304.2L398 301.3Z"/><path fill="#00789c" d="M383.6 270.4L384.7 276.8L383 267.2ZM384.7 276.8L382.5 264L383 267.2ZM384.7 276.8L383.6 270.4L384.1 273.6Z"/></g>
<g clip-path="url(#cI)"><g filter="url(#pb)"><path fill="#c8b800" d="M740 56h4v4h-4zM744 56h4v4h-4zM748 56h4v4h-4zM752 56h4v4h-4zM756 56h4v4h-4zM724 60h4v4h-4zM728 60h4v4h-4zM732 60h4v4h-4zM736 60h4v4h-4zM740 60h4v4h-4zM744 60h4v4h-4zM748 60h4v4h-4zM752 60h4v4h-4zM756 60h4v4h-4zM720 64h4v4h-4zM724 64h4v4h-4zM728 64h4v4h-4zM732 64h4v4h-4zM736 64h4v4h-4zM740 64h4v4h-4zM744 64h4v4h-4zM748 64h4v4h-4zM752 64h4v4h-4zM756 64h4v4h-4zM716 68h4v4h-4zM720 68h4v4h-4zM724 68h4v4h-4zM728 68h4v4h-4zM732 68h4v4h-4zM736 68h4v4h-4zM740 68h4v4h-4zM744 68h4v4h-4zM748 68h4v4h-4zM752 68h4v4h-4zM756 68h4v4h-4zM716 72h4v4h-4zM720 72h4v4h-4zM724 72h4v4h-4zM728 72h4v4h-4zM732 72h4v4h-4zM736 72h4v4h-4zM740 72h4v4h-4zM744 72h4v4h-4zM748 72h4v4h-4zM752 72h4v4h-4zM756 72h4v4h-4zM716 76h4v4h-4zM720 76h4v4h-4zM724 76h4v4h-4zM728 76h4v4h-4zM732 76h4v4h-4zM736 76h4v4h-4zM740 76h4v4h-4zM744 76h4v4h-4zM748 76h4v4h-4zM752 76h4v4h-4zM756 76h4v4h-4zM716 80h4v4h-4zM720 80h4v4h-4zM724 80h4v4h-4zM728 80h4v4h-4zM732 80h4v4h-4zM736 80h4v4h-4zM740 80h4v4h-4zM744 80h4v4h-4zM748 80h4v4h-4zM752 80h4v4h-4zM756 80h4v4h-4zM716 84h4v4h-4zM720 84h4v4h-4zM724 84h4v4h-4zM728 84h4v4h-4zM732 84h4v4h-4zM736 84h4v4h-4zM740 84h4v4h-4zM744 84h4v4h-4zM748 84h4v4h-4zM752 84h4v4h-4zM716 88h4v4h-4zM720 88h4v4h-4zM724 88h4v4h-4zM728 88h4v4h-4zM732 88h4v4h-4zM736 88h4v4h-4zM740 88h4v4h-4zM744 88h4v4h-4zM748 88h4v4h-4zM752 88h4v4h-4zM716 92h4v4h-4zM720 92h4v4h-4zM724 92h4v4h-4zM728 92h4v4h-4zM732 92h4v4h-4zM736 92h4v4h-4zM740 92h4v4h-4zM744 92h4v4h-4zM748 92h4v4h-4zM752 92h4v4h-4zM716 96h4v4h-4zM720 96h4v4h-4zM724 96h4v4h-4zM728 96h4v4h-4zM732 96h4v4h-4zM736 96h4v4h-4zM740 96h4v4h-4zM744 96h4v4h-4zM748 96h4v4h-4zM752 96h4v4h-4zM716 100h4v4h-4zM720 100h4v4h-4zM724 100h4v4h-4zM728 100h4v4h-4zM732 100h4v4h-4zM736 100h4v4h-4zM740 100h4v4h-4zM744 100h4v4h-4zM748 100h4v4h-4zM752 100h4v4h-4zM744 104h4v4h-4zM748 104h4v4h-4zM752 104h4v4h-4zM756 104h4v4h-4zM752 108h4v4h-4zM756 108h4v4h-4zM752 112h4v4h-4zM756 112h4v4h-4zM756 116h4v4h-4zM756 120h4v4h-4zM756 124h4v4h-4zM760 128h4v4h-4zM760 132h4v4h-4zM760 136h4v4h-4zM760 140h4v4h-4zM760 144h4v4h-4zM760 152h4v4h-4zM760 156h4v4h-4zM760 160h4v4h-4zM704 180h4v4h-4zM688 204h4v4h-4zM684 208h4v4h-4zM676 212h4v4h-4zM664 216h4v4h-4zM656 220h4v4h-4zM644 224h4v4h-4zM648 224h4v4h-4zM636 228h4v4h-4zM640 228h4v4h-4zM628 232h4v4h-4zM692 232h4v4h-4zM616 236h4v4h-4zM620 236h4v4h-4zM608 240h4v4h-4zM612 240h4v4h-4zM596 244h4v4h-4zM600 244h4v4h-4zM588 248h4v4h-4zM584 252h4v4h-4zM588 252h4v4h-4zM592 252h4v4h-4zM596 252h4v4h-4zM600 252h4v4h-4zM584 256h4v4h-4zM588 256h4v4h-4zM592 256h4v4h-4zM596 256h4v4h-4zM600 256h4v4h-4zM592 260h4v4h-4z"/><path fill="#c8c000" d="M760 60h4v4h-4zM764 60h4v4h-4zM760 64h4v4h-4zM764 64h4v4h-4zM768 64h4v4h-4zM760 68h4v4h-4zM764 68h4v4h-4zM768 68h4v4h-4zM760 72h4v4h-4zM760 76h4v4h-4zM756 84h4v4h-4zM756 88h4v4h-4zM756 92h4v4h-4zM756 96h4v4h-4zM756 100h4v4h-4zM760 108h4v4h-4zM760 112h4v4h-4zM760 116h4v4h-4zM760 120h4v4h-4zM760 124h4v4h-4zM752 180h4v4h-4zM744 192h4v4h-4zM680 208h4v4h-4zM672 212h4v4h-4zM660 216h4v4h-4zM652 220h4v4h-4zM640 224h4v4h-4zM696 224h4v4h-4zM628 228h4v4h-4zM632 228h4v4h-4zM692 228h4v4h-4zM620 232h4v4h-4zM624 232h4v4h-4zM696 232h4v4h-4zM612 236h4v4h-4zM600 240h4v4h-4zM604 240h4v4h-4zM592 244h4v4h-4zM584 248h4v4h-4zM580 252h4v4h-4zM580 256h4v4h-4zM584 260h4v4h-4zM588 260h4v4h-4zM584 264h4v4h-4zM588 264h4v4h-4z"/><path fill="#c0c800" d="M764 72h4v4h-4zM768 72h4v4h-4zM760 80h4v4h-4zM760 104h4v4h-4zM704 192h4v4h-4zM668 212h4v4h-4zM636 224h4v4h-4zM616 232h4v4h-4zM608 236h4v4h-4zM588 244h4v4h-4z"/><path fill="#b0c000" d="M764 76h4v4h-4zM768 76h4v4h-4zM664 212h4v4h-4zM652 216h4v4h-4zM716 216h4v4h-4zM708 220h4v4h-4zM632 224h4v4h-4zM620 228h4v4h-4zM696 228h4v4h-4zM612 232h4v4h-4zM592 240h4v4h-4zM580 248h4v4h-4zM576 256h4v4h-4zM576 264h4v4h-4zM580 268h4v4h-4z"/><path fill="#a0c000" d="M764 80h4v4h-4zM748 188h4v4h-4zM660 212h4v4h-4zM648 216h4v4h-4zM700 224h4v4h-4zM616 228h4v4h-4zM588 240h4v4h-4zM576 252h4v4h-4zM580 272h4v4h-4z"/><path fill="#a8c000" d="M768 80h4v4h-4zM676 208h4v4h-4zM640 220h4v4h-4zM628 224h4v4h-4zM608 232h4v4h-4zM600 236h4v4h-4zM576 268h4v4h-4z"/><path fill="#c0c000" d="M760 84h4v4h-4zM756 172h4v4h-4zM700 196h4v4h-4zM692 200h4v4h-4zM656 216h4v4h-4zM580 264h4v4h-4z"/><path fill="#90c000" d="M764 84h4v4h-4zM764 148h4v4h-4zM680 204h4v4h-4zM656 212h4v4h-4zM644 216h4v4h-4zM632 220h4v4h-4zM612 228h4v4h-4zM700 228h4v4h-4zM584 240h4v4h-4zM576 248h4v4h-4z"/><path fill="#98c000" d="M768 84h4v4h-4zM764 144h4v4h-4zM672 208h4v4h-4zM636 220h4v4h-4zM624 224h4v4h-4zM604 232h4v4h-4zM596 236h4v4h-4zM580 244h4v4h-4zM572 260h4v4h-4zM572 264h4v4h-4zM576 272h4v4h-4z"/><path fill="#b8c000" d="M760 88h4v4h-4zM760 92h4v4h-4zM760 96h4v4h-4zM760 100h4v4h-4zM684 204h4v4h-4zM728 208h4v4h-4zM644 220h4v4h-4zM624 228h4v4h-4zM604 236h4v4h-4zM596 240h4v4h-4zM584 244h4v4h-4zM576 260h4v4h-4zM584 268h4v4h-4z"/><path fill="#88c000" d="M764 88h4v4h-4zM768 88h4v4h-4zM764 140h4v4h-4zM760 164h4v4h-4zM668 208h4v4h-4zM620 224h4v4h-4zM592 236h4v4h-4zM572 256h4v4h-4zM572 268h4v4h-4z"/><path fill="#80c000" d="M764 92h4v4h-4zM704 188h4v4h-4zM688 200h4v4h-4zM652 212h4v4h-4zM724 212h4v4h-4zM640 216h4v4h-4zM628 220h4v4h-4zM616 224h4v4h-4zM608 228h4v4h-4zM600 232h4v4h-4zM572 272h4v4h-4zM576 276h4v4h-4z"/><path fill="#78c000" d="M768 92h4v4h-4zM764 136h4v4h-4zM664 208h4v4h-4zM636 216h4v4h-4zM624 220h4v4h-4zM704 228h4v4h-4zM588 236h4v4h-4zM576 244h4v4h-4zM572 252h4v4h-4zM568 264h4v4h-4zM568 268h4v4h-4zM572 276h4v4h-4z"/><path fill="#70c000" d="M764 96h4v4h-4zM772 96h4v4h-4zM764 132h4v4h-4zM648 212h4v4h-4zM612 224h4v4h-4zM604 228h4v4h-4zM596 232h4v4h-4zM580 240h4v4h-4zM576 280h4v4h-4z"/><path fill="#68c000" d="M768 96h4v4h-4zM764 152h4v4h-4zM620 220h4v4h-4zM708 228h4v4h-4zM572 248h4v4h-4zM568 260h4v4h-4zM568 272h4v4h-4z"/><path fill="#60c000" d="M764 100h4v4h-4zM764 128h4v4h-4zM660 208h4v4h-4zM644 212h4v4h-4zM632 216h4v4h-4zM608 224h4v4h-4zM600 228h4v4h-4zM592 232h4v4h-4zM584 236h4v4h-4zM568 256h4v4h-4zM568 276h4v4h-4zM572 280h4v4h-4z"/><path fill="#48c000" d="M768 100h4v4h-4zM764 112h4v4h-4zM764 116h4v4h-4zM756 176h4v4h-4zM656 208h4v4h-4zM640 212h4v4h-4zM612 220h4v4h-4zM712 220h4v4h-4zM596 228h4v4h-4zM564 264h4v4h-4zM564 276h4v4h-4zM572 284h4v4h-4z"/><path fill="#58c000" d="M772 100h4v4h-4zM764 104h4v4h-4zM764 124h4v4h-4zM704 184h4v4h-4zM696 196h4v4h-4zM676 204h4v4h-4zM616 220h4v4h-4zM704 224h4v4h-4z"/><path fill="#c8b000" d="M716 104h4v4h-4zM720 104h4v4h-4zM724 104h4v4h-4zM728 104h4v4h-4zM732 104h4v4h-4zM736 104h4v4h-4zM740 104h4v4h-4zM716 108h4v4h-4zM720 108h4v4h-4zM736 108h4v4h-4zM740 108h4v4h-4zM744 108h4v4h-4zM748 108h4v4h-4zM740 112h4v4h-4zM744 112h4v4h-4zM748 112h4v4h-4zM748 116h4v4h-4zM752 116h4v4h-4zM748 120h4v4h-4zM752 120h4v4h-4zM752 124h4v4h-4zM756 128h4v4h-4zM756 132h4v4h-4zM756 136h4v4h-4zM760 148h4v4h-4zM756 164h4v4h-4zM756 168h4v4h-4zM752 176h4v4h-4zM740 196h4v4h-4zM696 200h4v4h-4zM736 200h4v4h-4zM692 204h4v4h-4zM732 204h4v4h-4zM680 212h4v4h-4zM668 216h4v4h-4zM660 220h4v4h-4zM652 224h4v4h-4zM656 224h4v4h-4zM644 228h4v4h-4zM648 228h4v4h-4zM688 228h4v4h-4zM632 232h4v4h-4zM636 232h4v4h-4zM624 236h4v4h-4zM628 236h4v4h-4zM616 240h4v4h-4zM620 240h4v4h-4zM604 244h4v4h-4zM608 244h4v4h-4zM612 244h4v4h-4zM616 244h4v4h-4zM620 244h4v4h-4zM624 244h4v4h-4zM592 248h4v4h-4zM596 248h4v4h-4zM600 248h4v4h-4zM604 248h4v4h-4zM608 248h4v4h-4zM612 248h4v4h-4zM616 248h4v4h-4zM620 248h4v4h-4zM624 248h4v4h-4zM604 252h4v4h-4zM608 252h4v4h-4zM612 252h4v4h-4zM616 252h4v4h-4zM620 252h4v4h-4zM624 252h4v4h-4zM604 256h4v4h-4zM608 256h4v4h-4z"/><path fill="#30b800" d="M768 104h4v4h-4zM764 156h4v4h-4zM760 168h4v4h-4zM740 200h4v4h-4zM620 216h4v4h-4zM720 216h4v4h-4zM608 220h4v4h-4zM564 256h4v4h-4zM564 284h4v4h-4z"/><path fill="#40c000" d="M772 104h4v4h-4zM700 192h4v4h-4zM684 200h4v4h-4zM624 216h4v4h-4zM708 224h4v4h-4zM580 236h4v4h-4zM568 248h4v4h-4zM568 284h4v4h-4z"/><path fill="#c8a800" d="M724 108h4v4h-4zM728 108h4v4h-4zM732 108h4v4h-4zM720 112h4v4h-4zM724 112h4v4h-4zM728 112h4v4h-4zM732 112h4v4h-4zM736 112h4v4h-4zM736 116h4v4h-4zM740 116h4v4h-4zM744 116h4v4h-4zM740 120h4v4h-4zM744 120h4v4h-4zM748 124h4v4h-4zM752 128h4v4h-4zM752 132h4v4h-4zM756 140h4v4h-4zM756 144h4v4h-4zM756 148h4v4h-4zM756 152h4v4h-4zM756 156h4v4h-4zM756 160h4v4h-4zM752 172h4v4h-4zM748 184h4v4h-4zM704 196h4v4h-4zM688 208h4v4h-4zM672 216h4v4h-4zM676 216h4v4h-4zM664 220h4v4h-4zM668 220h4v4h-4zM704 220h4v4h-4zM660 224h4v4h-4zM692 224h4v4h-4zM652 228h4v4h-4zM640 232h4v4h-4zM644 232h4v4h-4zM688 232h4v4h-4zM632 236h4v4h-4zM636 236h4v4h-4zM640 236h4v4h-4zM644 236h4v4h-4zM624 240h4v4h-4zM628 240h4v4h-4zM632 240h4v4h-4zM636 240h4v4h-4zM640 240h4v4h-4zM644 240h4v4h-4zM648 240h4v4h-4zM652 240h4v4h-4zM628 244h4v4h-4zM632 244h4v4h-4zM636 244h4v4h-4zM640 244h4v4h-4zM644 244h4v4h-4zM648 244h4v4h-4zM652 244h4v4h-4zM628 248h4v4h-4zM632 248h4v4h-4zM636 248h4v4h-4z"/><path fill="#50c000" d="M764 108h4v4h-4zM764 120h4v4h-4zM628 216h4v4h-4zM604 224h4v4h-4zM712 228h4v4h-4zM588 232h4v4h-4zM576 240h4v4h-4zM572 244h4v4h-4zM568 252h4v4h-4zM564 268h4v4h-4zM564 272h4v4h-4zM568 280h4v4h-4z"/><path fill="#18b800" d="M768 108h4v4h-4zM692 196h4v4h-4zM744 196h4v4h-4zM644 208h4v4h-4zM628 212h4v4h-4zM576 236h4v4h-4zM568 244h4v4h-4zM564 248h4v4h-4zM560 268h4v4h-4zM560 284h4v4h-4z"/><path fill="#28b800" d="M772 108h4v4h-4zM736 204h4v4h-4zM648 208h4v4h-4zM632 212h4v4h-4zM564 252h4v4h-4zM560 272h4v4h-4zM560 276h4v4h-4zM568 288h4v4h-4z"/><path fill="#00b808" d="M768 112h4v4h-4zM660 204h4v4h-4zM636 208h4v4h-4zM620 212h4v4h-4zM560 260h4v4h-4zM560 292h4v4h-4z"/><path fill="#08b800" d="M772 112h4v4h-4zM664 204h4v4h-4zM640 208h4v4h-4zM624 212h4v4h-4zM608 216h4v4h-4zM592 224h4v4h-4zM716 224h4v4h-4zM584 228h4v4h-4zM560 264h4v4h-4zM560 288h4v4h-4zM564 292h4v4h-4z"/><path fill="#c8a000" d="M720 116h4v4h-4zM724 116h4v4h-4zM728 116h4v4h-4zM732 116h4v4h-4zM736 120h4v4h-4zM740 124h4v4h-4zM744 124h4v4h-4zM744 128h4v4h-4zM748 128h4v4h-4zM748 132h4v4h-4zM752 136h4v4h-4zM752 140h4v4h-4zM752 168h4v4h-4zM748 180h4v4h-4zM744 188h4v4h-4zM708 192h4v4h-4zM740 192h4v4h-4zM700 200h4v4h-4zM696 204h4v4h-4zM684 212h4v4h-4zM720 212h4v4h-4zM680 216h4v4h-4zM712 216h4v4h-4zM672 220h4v4h-4zM676 220h4v4h-4zM664 224h4v4h-4zM668 224h4v4h-4zM656 228h4v4h-4zM660 228h4v4h-4zM680 228h4v4h-4zM684 228h4v4h-4zM648 232h4v4h-4zM652 232h4v4h-4zM656 232h4v4h-4zM660 232h4v4h-4zM664 232h4v4h-4zM668 232h4v4h-4zM672 232h4v4h-4zM676 232h4v4h-4zM680 232h4v4h-4zM684 232h4v4h-4zM648 236h4v4h-4zM652 236h4v4h-4zM656 236h4v4h-4zM660 236h4v4h-4zM664 236h4v4h-4zM668 236h4v4h-4zM672 236h4v4h-4zM676 236h4v4h-4zM680 236h4v4h-4zM656 240h4v4h-4zM660 240h4v4h-4zM664 240h4v4h-4zM668 240h4v4h-4z"/><path fill="#00b820" d="M768 116h4v4h-4zM772 120h4v4h-4zM688 196h4v4h-4zM648 204h4v4h-4zM652 204h4v4h-4zM628 208h4v4h-4zM608 212h4v4h-4zM600 216h4v4h-4zM716 220h4v4h-4zM568 240h4v4h-4zM564 244h4v4h-4zM560 252h4v4h-4zM556 272h4v4h-4zM556 284h4v4h-4z"/><path fill="#00b810" d="M772 116h4v4h-4zM616 212h4v4h-4zM604 216h4v4h-4zM596 220h4v4h-4zM588 224h4v4h-4zM572 236h4v4h-4zM560 256h4v4h-4zM556 276h4v4h-4zM564 296h4v4h-4z"/><path fill="#c89800" d="M720 120h4v4h-4zM724 120h4v4h-4zM728 120h4v4h-4zM732 120h4v4h-4zM720 124h4v4h-4zM736 124h4v4h-4zM740 128h4v4h-4zM744 132h4v4h-4zM748 136h4v4h-4zM752 144h4v4h-4zM752 148h4v4h-4zM752 152h4v4h-4zM752 156h4v4h-4zM752 160h4v4h-4zM752 164h4v4h-4zM704 176h4v4h-4zM748 176h4v4h-4zM708 180h4v4h-4zM744 184h4v4h-4zM736 196h4v4h-4zM732 200h4v4h-4zM700 204h4v4h-4zM728 204h4v4h-4zM692 208h4v4h-4zM724 208h4v4h-4zM688 212h4v4h-4zM684 216h4v4h-4zM680 220h4v4h-4zM672 224h4v4h-4zM688 224h4v4h-4zM664 228h4v4h-4zM668 228h4v4h-4zM672 228h4v4h-4zM676 228h4v4h-4z"/><path fill="#00b838" d="M768 120h4v4h-4zM556 296h4v4h-4z"/><path fill="#c89000" d="M724 124h4v4h-4zM728 124h4v4h-4zM732 124h4v4h-4zM736 128h4v4h-4zM740 132h4v4h-4zM744 136h4v4h-4zM748 140h4v4h-4zM748 144h4v4h-4zM748 168h4v4h-4zM748 172h4v4h-4zM708 176h4v4h-4zM744 180h4v4h-4zM708 184h4v4h-4zM708 188h4v4h-4zM740 188h4v4h-4zM704 200h4v4h-4zM724 204h4v4h-4zM696 208h4v4h-4zM720 208h4v4h-4zM692 212h4v4h-4zM716 212h4v4h-4zM688 216h4v4h-4zM684 220h4v4h-4zM700 220h4v4h-4zM676 224h4v4h-4zM680 224h4v4h-4zM684 224h4v4h-4z"/><path fill="#00c048" d="M768 124h4v4h-4zM632 196h4v4h-4zM628 200h4v4h-4zM672 200h4v4h-4zM624 204h4v4h-4zM632 204h4v4h-4zM596 208h4v4h-4zM744 208h4v4h-4zM600 212h4v4h-4zM724 216h4v4h-4zM728 216h4v4h-4zM560 300h4v4h-4z"/><path fill="#00b830" d="M772 124h4v4h-4zM676 200h4v4h-4zM608 204h4v4h-4zM612 204h4v4h-4zM640 204h4v4h-4zM604 208h4v4h-4zM608 208h4v4h-4zM620 208h4v4h-4zM604 212h4v4h-4zM736 216h4v4h-4zM556 264h4v4h-4zM556 292h4v4h-4z"/><path fill="#c88800" d="M720 128h4v4h-4zM724 128h4v4h-4zM728 128h4v4h-4zM732 128h4v4h-4zM736 132h4v4h-4zM740 136h4v4h-4zM744 140h4v4h-4zM744 144h4v4h-4zM748 148h4v4h-4zM748 152h4v4h-4zM748 156h4v4h-4zM748 160h4v4h-4zM748 164h4v4h-4zM744 176h4v4h-4zM740 184h4v4h-4zM736 192h4v4h-4zM708 196h4v4h-4zM732 196h4v4h-4zM708 200h4v4h-4zM728 200h4v4h-4zM704 204h4v4h-4zM708 204h4v4h-4zM720 204h4v4h-4zM700 208h4v4h-4zM712 208h4v4h-4zM716 208h4v4h-4zM696 212h4v4h-4zM708 212h4v4h-4zM712 212h4v4h-4zM692 216h4v4h-4zM696 216h4v4h-4zM708 216h4v4h-4zM688 220h4v4h-4zM692 220h4v4h-4zM696 220h4v4h-4z"/><path fill="#00c058" d="M768 128h4v4h-4zM768 132h4v4h-4zM776 140h4v4h-4zM696 180h4v4h-4zM644 196h4v4h-4zM684 196h4v4h-4zM756 196h4v4h-4zM640 200h4v4h-4zM648 200h4v4h-4zM652 200h4v4h-4zM656 200h4v4h-4zM668 200h4v4h-4zM752 200h4v4h-4zM748 204h4v4h-4zM736 212h4v4h-4zM584 220h4v4h-4zM576 228h4v4h-4zM564 240h4v4h-4zM556 300h4v4h-4z"/><path fill="#00c040" d="M772 128h4v4h-4zM760 172h4v4h-4zM624 200h4v4h-4zM620 204h4v4h-4zM600 208h4v4h-4zM740 212h4v4h-4zM732 216h4v4h-4zM588 220h4v4h-4zM580 224h4v4h-4zM572 232h4v4h-4zM556 260h4v4h-4z"/><path fill="#c87800" d="M720 132h4v4h-4zM724 132h4v4h-4zM728 132h4v4h-4zM732 132h4v4h-4zM736 136h4v4h-4zM740 144h4v4h-4zM744 156h4v4h-4zM744 160h4v4h-4zM744 164h4v4h-4zM744 168h4v4h-4zM740 180h4v4h-4zM712 184h4v4h-4zM712 188h4v4h-4zM712 192h4v4h-4zM732 192h4v4h-4zM716 196h4v4h-4zM720 196h4v4h-4zM724 196h4v4h-4z"/><path fill="#00c050" d="M772 132h4v4h-4zM768 136h4v4h-4zM768 140h4v4h-4zM768 144h4v4h-4zM768 148h4v4h-4zM752 188h4v4h-4zM636 196h4v4h-4zM640 196h4v4h-4zM632 200h4v4h-4zM636 200h4v4h-4zM628 204h4v4h-4zM592 208h4v4h-4zM596 212h4v4h-4zM592 216h4v4h-4zM568 236h4v4h-4zM556 256h4v4h-4z"/><path fill="#c87000" d="M720 136h4v4h-4zM732 136h4v4h-4zM736 140h4v4h-4zM740 148h4v4h-4zM740 172h4v4h-4zM740 176h4v4h-4zM716 184h4v4h-4zM736 184h4v4h-4zM716 188h4v4h-4zM732 188h4v4h-4zM716 192h4v4h-4zM720 192h4v4h-4zM724 192h4v4h-4zM728 192h4v4h-4z"/><path fill="#c86800" d="M724 136h4v4h-4zM728 136h4v4h-4zM740 152h4v4h-4zM740 156h4v4h-4zM740 160h4v4h-4zM740 164h4v4h-4zM740 168h4v4h-4zM716 180h4v4h-4zM736 180h4v4h-4zM720 188h4v4h-4zM724 188h4v4h-4zM728 188h4v4h-4z"/><path fill="#00c060" d="M772 136h4v4h-4zM776 144h4v4h-4zM776 148h4v4h-4zM764 184h4v4h-4zM644 200h4v4h-4zM660 200h4v4h-4zM664 200h4v4h-4zM588 208h4v4h-4zM740 208h4v4h-4zM592 212h4v4h-4zM732 212h4v4h-4zM556 252h4v4h-4z"/><path fill="#c85800" d="M720 140h4v4h-4zM724 140h4v4h-4zM728 140h4v4h-4zM712 172h4v4h-4zM716 176h4v4h-4zM720 180h4v4h-4zM724 184h4v4h-4zM728 184h4v4h-4z"/><path fill="#c86000" d="M732 140h4v4h-4zM736 144h4v4h-4zM736 176h4v4h-4zM720 184h4v4h-4zM732 184h4v4h-4z"/><path fill="#c88000" d="M740 140h4v4h-4zM744 148h4v4h-4zM744 152h4v4h-4zM708 172h4v4h-4zM744 172h4v4h-4zM712 176h4v4h-4zM712 180h4v4h-4zM736 188h4v4h-4zM712 196h4v4h-4zM728 196h4v4h-4zM712 200h4v4h-4zM716 200h4v4h-4zM720 200h4v4h-4zM724 200h4v4h-4zM712 204h4v4h-4zM716 204h4v4h-4zM704 208h4v4h-4zM708 208h4v4h-4zM700 212h4v4h-4zM704 212h4v4h-4zM700 216h4v4h-4zM704 216h4v4h-4z"/><path fill="#00c070" d="M772 140h4v4h-4zM772 160h4v4h-4zM768 172h4v4h-4zM748 200h4v4h-4zM584 212h4v4h-4zM580 220h4v4h-4zM560 244h4v4h-4zM552 288h4v4h-4zM552 292h4v4h-4zM552 296h4v4h-4zM552 300h4v4h-4z"/><path fill="#c84800" d="M720 144h4v4h-4zM724 144h4v4h-4zM728 144h4v4h-4zM736 156h4v4h-4zM736 160h4v4h-4zM736 164h4v4h-4zM712 168h4v4h-4zM736 168h4v4h-4zM716 172h4v4h-4zM720 176h4v4h-4zM732 176h4v4h-4zM724 180h4v4h-4zM728 180h4v4h-4z"/><path fill="#c85000" d="M732 144h4v4h-4zM736 148h4v4h-4zM736 152h4v4h-4zM736 172h4v4h-4zM732 180h4v4h-4z"/><path fill="#00c080" d="M772 144h4v4h-4zM772 148h4v4h-4zM772 152h4v4h-4zM768 168h4v4h-4zM760 184h4v4h-4zM740 204h4v4h-4zM580 212h4v4h-4zM584 216h4v4h-4zM568 232h4v4h-4zM552 308h4v4h-4z"/><path fill="#c82000" d="M720 148h4v4h-4zM728 152h4v4h-4zM732 156h4v4h-4z"/><path fill="#c82800" d="M724 148h4v4h-4zM728 148h4v4h-4zM732 168h4v4h-4zM724 172h4v4h-4zM728 172h4v4h-4z"/><path fill="#c83800" d="M732 148h4v4h-4zM716 168h4v4h-4zM720 172h4v4h-4zM732 172h4v4h-4zM724 176h4v4h-4zM728 176h4v4h-4z"/><path fill="#c81800" d="M720 152h4v4h-4zM724 152h4v4h-4zM732 160h4v4h-4zM732 164h4v4h-4z"/><path fill="#c83000" d="M732 152h4v4h-4zM720 168h4v4h-4z"/><path fill="#00c078" d="M768 152h4v4h-4zM772 156h4v4h-4zM764 180h4v4h-4zM696 184h4v4h-4zM652 192h4v4h-4zM692 192h4v4h-4zM756 192h4v4h-4zM652 196h4v4h-4zM752 196h4v4h-4zM736 208h4v4h-4zM572 228h4v4h-4zM552 276h4v4h-4zM552 304h4v4h-4zM556 304h4v4h-4z"/><path fill="#c80000" d="M720 156h4v4h-4zM716 160h4v4h-4zM720 160h4v4h-4zM724 160h4v4h-4zM728 160h4v4h-4zM724 164h4v4h-4zM728 164h4v4h-4z"/><path fill="#c81000" d="M724 156h4v4h-4zM728 156h4v4h-4zM716 164h4v4h-4zM724 168h4v4h-4zM728 168h4v4h-4z"/><path fill="#00c098" d="M768 156h4v4h-4zM764 172h4v4h-4zM760 180h4v4h-4zM660 192h4v4h-4zM664 196h4v4h-4zM668 196h4v4h-4zM672 196h4v4h-4zM552 268h4v4h-4zM548 292h4v4h-4z"/><path fill="#00b818" d="M764 160h4v4h-4zM748 192h4v4h-4zM656 204h4v4h-4zM632 208h4v4h-4zM612 212h4v4h-4zM724 220h4v4h-4zM728 220h4v4h-4zM576 232h4v4h-4zM556 280h4v4h-4z"/><path fill="#00c090" d="M768 160h4v4h-4zM688 192h4v4h-4zM752 192h4v4h-4zM660 196h4v4h-4zM748 196h4v4h-4zM576 224h4v4h-4zM564 236h4v4h-4zM556 248h4v4h-4zM548 296h4v4h-4z"/><path fill="#c80800" d="M720 164h4v4h-4z"/><path fill="#00c068" d="M764 164h4v4h-4zM772 164h4v4h-4zM696 188h4v4h-4zM760 188h4v4h-4zM648 192h4v4h-4zM648 196h4v4h-4zM744 204h4v4h-4zM588 212h4v4h-4zM588 216h4v4h-4zM552 280h4v4h-4zM552 284h4v4h-4z"/><path fill="#00c088" d="M768 164h4v4h-4zM764 176h4v4h-4zM756 188h4v4h-4zM656 192h4v4h-4zM656 196h4v4h-4zM680 196h4v4h-4zM744 200h4v4h-4zM580 216h4v4h-4zM552 272h4v4h-4zM548 300h4v4h-4zM548 304h4v4h-4zM548 308h4v4h-4z"/><path fill="#00c0a0" d="M764 168h4v4h-4zM756 184h4v4h-4zM684 192h4v4h-4zM676 196h4v4h-4z"/><path fill="#00c0a8" d="M760 176h4v4h-4zM692 180h4v4h-4zM664 188h4v4h-4zM664 192h4v4h-4zM560 240h4v4h-4zM552 264h4v4h-4zM548 288h4v4h-4zM544 292h4v4h-4z"/><path fill="#10b800" d="M700 180h4v4h-4zM732 208h4v4h-4zM612 216h4v4h-4zM580 232h4v4h-4z"/><path fill="#00b828" d="M756 180h4v4h-4zM700 184h4v4h-4zM604 204h4v4h-4zM644 204h4v4h-4zM624 208h4v4h-4zM728 212h4v4h-4zM592 220h4v4h-4zM720 220h4v4h-4zM584 224h4v4h-4zM580 228h4v4h-4zM556 268h4v4h-4zM556 288h4v4h-4zM560 296h4v4h-4z"/><path fill="#00c8c8" d="M676 184h4v4h-4zM680 184h4v4h-4z"/><path fill="#00c0c8" d="M684 184h4v4h-4zM688 184h4v4h-4zM692 184h4v4h-4zM672 188h4v4h-4zM676 188h4v4h-4zM680 188h4v4h-4zM684 188h4v4h-4zM688 188h4v4h-4zM672 192h4v4h-4zM676 192h4v4h-4zM564 232h4v4h-4zM552 252h4v4h-4zM548 280h4v4h-4zM544 284h4v4h-4z"/><path fill="#38c000" d="M752 184h4v4h-4zM672 204h4v4h-4zM652 208h4v4h-4zM636 212h4v4h-4zM592 228h4v4h-4zM584 232h4v4h-4zM564 260h4v4h-4zM564 280h4v4h-4z"/><path fill="#00c0b8" d="M668 188h4v4h-4zM692 188h4v4h-4zM668 192h4v4h-4zM680 192h4v4h-4zM572 224h4v4h-4zM568 228h4v4h-4zM552 260h4v4h-4z"/><path fill="#00b800" d="M700 188h4v4h-4zM680 200h4v4h-4zM600 220h4v4h-4zM720 224h4v4h-4z"/><path fill="#0028c8" d="M532 192h4v4h-4zM532 196h4v4h-4zM540 196h4v4h-4zM544 196h4v4h-4zM548 196h4v4h-4zM532 200h4v4h-4zM540 200h4v4h-4zM544 200h4v4h-4zM536 204h4v4h-4zM540 204h4v4h-4zM544 204h4v4h-4zM536 208h4v4h-4zM540 208h4v4h-4zM536 212h4v4h-4zM540 212h4v4h-4zM536 216h4v4h-4zM540 216h4v4h-4zM536 220h4v4h-4zM540 220h4v4h-4z"/><path fill="#0020c8" d="M536 192h4v4h-4zM540 192h4v4h-4zM536 196h4v4h-4zM536 200h4v4h-4z"/><path fill="#00c038" d="M696 192h4v4h-4zM620 200h4v4h-4zM616 204h4v4h-4zM636 204h4v4h-4zM612 208h4v4h-4zM616 208h4v4h-4zM596 216h4v4h-4zM560 248h4v4h-4z"/><path fill="#0030c8" d="M548 200h4v4h-4zM552 200h4v4h-4zM548 204h4v4h-4zM552 204h4v4h-4zM544 208h4v4h-4zM548 208h4v4h-4zM544 212h4v4h-4zM548 212h4v4h-4zM544 216h4v4h-4zM544 220h4v4h-4zM536 224h4v4h-4zM540 224h4v4h-4zM544 224h4v4h-4zM536 228h4v4h-4zM540 228h4v4h-4zM536 232h4v4h-4zM540 232h4v4h-4z"/><path fill="#0038c8" d="M556 200h4v4h-4zM556 204h4v4h-4zM560 204h4v4h-4zM552 208h4v4h-4zM556 208h4v4h-4zM552 212h4v4h-4zM548 216h4v4h-4zM548 220h4v4h-4zM544 228h4v4h-4zM544 232h4v4h-4zM540 236h4v4h-4z"/><path fill="#0048c8" d="M564 204h4v4h-4zM560 212h4v4h-4zM556 216h4v4h-4zM552 220h4v4h-4zM552 224h4v4h-4zM548 232h4v4h-4zM544 240h4v4h-4zM540 244h4v4h-4z"/><path fill="#20b800" d="M668 204h4v4h-4zM616 216h4v4h-4zM604 220h4v4h-4zM596 224h4v4h-4zM712 224h4v4h-4zM588 228h4v4h-4zM572 240h4v4h-4zM560 280h4v4h-4zM564 288h4v4h-4z"/><path fill="#0040c8" d="M560 208h4v4h-4zM556 212h4v4h-4zM552 216h4v4h-4zM548 224h4v4h-4zM548 228h4v4h-4zM544 236h4v4h-4zM540 240h4v4h-4z"/><path fill="#0058c8" d="M564 208h4v4h-4zM556 220h4v4h-4zM552 232h4v4h-4zM548 236h4v4h-4zM544 252h4v4h-4zM540 256h4v4h-4zM544 256h4v4h-4z"/><path fill="#0070c8" d="M568 208h4v4h-4zM564 216h4v4h-4zM552 236h4v4h-4zM548 244h4v4h-4z"/><path fill="#0080c8" d="M572 208h4v4h-4zM548 248h4v4h-4zM548 252h4v4h-4z"/><path fill="#0060c8" d="M564 212h4v4h-4zM560 220h4v4h-4zM556 224h4v4h-4zM540 260h4v4h-4z"/><path fill="#0078c8" d="M568 212h4v4h-4zM564 220h4v4h-4zM560 224h4v4h-4zM556 232h4v4h-4zM544 264h4v4h-4z"/><path fill="#0090c8" d="M572 212h4v4h-4zM564 224h4v4h-4zM548 260h4v4h-4z"/><path fill="#00a8c8" d="M576 212h4v4h-4zM564 228h4v4h-4zM548 272h4v4h-4zM544 276h4v4h-4z"/><path fill="#0050c8" d="M560 216h4v4h-4zM552 228h4v4h-4zM544 244h4v4h-4zM540 248h4v4h-4zM544 248h4v4h-4zM540 252h4v4h-4z"/><path fill="#0088c8" d="M568 216h4v4h-4zM560 228h4v4h-4zM552 240h4v4h-4zM548 256h4v4h-4zM544 268h4v4h-4z"/><path fill="#00a0c8" d="M572 216h4v4h-4zM560 232h4v4h-4zM552 244h4v4h-4zM548 268h4v4h-4z"/><path fill="#00b0c8" d="M576 216h4v4h-4zM572 220h4v4h-4zM568 224h4v4h-4zM556 240h4v4h-4zM552 248h4v4h-4zM548 276h4v4h-4zM544 280h4v4h-4z"/><path fill="#0098c8" d="M568 220h4v4h-4zM556 236h4v4h-4zM548 264h4v4h-4zM544 272h4v4h-4z"/><path fill="#00c8c0" d="M576 220h4v4h-4zM556 244h4v4h-4zM552 256h4v4h-4z"/><path fill="#c8c800" d="M648 220h4v4h-4zM580 260h4v4h-4z"/><path fill="#38b800" d="M600 224h4v4h-4z"/><path fill="#0068c8" d="M556 228h4v4h-4zM548 240h4v4h-4zM544 260h4v4h-4z"/><path fill="#00b8c8" d="M560 236h4v4h-4z"/><path fill="#00c0b0" d="M548 284h4v4h-4zM544 288h4v4h-4z"/></g>
<g stroke="#000" stroke-width="0.95" stroke-linejoin="round"><path fill="none" d="M760.9 87.5L766.3 90.3L760 95.1ZM755 69.8L752.5 64.1L756.2 64.3ZM750.9 78.2L755 75.1L757.6 81.2ZM766.3 90.3L766.9 96.5L760 95.1ZM755 75.1L760.2 74.7L757.6 81.2ZM760.2 74.7L765.3 79.4L757.6 81.2ZM755 69.8L760.2 74.7L755 75.1ZM760.1 70.1L760.2 74.7L755 69.8ZM764.5 70.4L760.1 70.1L763.3 67ZM764.5 70.4L760.2 74.7L760.1 70.1ZM760.9 87.5L754 86.2L757.6 81.2ZM754 86.2L750.9 78.2L757.6 81.2ZM760.9 87.5L765.8 84.6L766.3 90.3ZM765.3 79.4L765.8 84.6L757.6 81.2ZM765.8 84.6L760.9 87.5L757.6 81.2ZM755 69.8L748.8 67.8L752.5 64.1ZM726.9 76L723.3 73.2L726.2 69.7ZM723.3 73.2L726.9 76L721.7 77.8ZM733.8 120.2L726.3 121.8L725.6 116.1ZM759.7 65.6L755 69.8L756.2 64.3ZM759.7 65.6L760.1 70.1L755 69.8ZM760.1 70.1L759.7 65.6L763.3 67ZM760.2 74.7L764.9 74.7L765.3 79.4ZM764.5 70.4L764.9 74.7L760.2 74.7ZM746.8 83.5L754 86.2L744.4 89.7ZM754 86.2L746.8 83.5L750.9 78.2ZM740.9 84L746.8 83.5L744.4 89.7ZM753.1 92.4L760.9 87.5L760 95.1ZM753.1 92.4L754 86.2L760.9 87.5ZM749.7 98.2L753.1 92.4L760 95.1ZM754 86.2L753.1 92.4L744.4 89.7ZM753.1 92.4L749.7 98.2L744.4 89.7ZM748.8 64L748.8 67.8L745 63.8ZM748.8 67.8L748.8 64L752.5 64.1ZM750.8 71.7L755 69.8L755 75.1ZM750.8 71.7L748.8 67.8L755 69.8ZM750.9 78.2L750.8 71.7L755 75.1ZM749.7 98.2L742.1 96.9L744.4 89.7ZM742.1 96.9L749.7 98.2L744.8 104.7ZM742.1 96.9L733.3 91.7L744.4 89.7ZM749.7 98.2L752.4 105.5L744.8 104.7ZM731.7 73.9L726.9 76L726.2 69.7ZM652.6 223.9L663.3 236.7L650.2 240.3ZM659.5 210.2L649.7 200.8L662.8 197.2ZM724.8 109.8L733.2 112L725.6 116.1ZM733.2 112L733.8 120.2L725.6 116.1ZM734.6 85.7L740.9 84L744.4 89.7ZM733.3 91.7L734.6 85.7L744.4 89.7ZM733.2 112L740.8 122.1L733.8 120.2ZM708 194.2L698.3 187.5L706.6 183.6ZM726.9 126.6L726.3 121.8L733.8 120.2ZM770.1 156.4L762 155.4L771.3 148.9ZM739.9 79L746.8 83.5L740.9 84ZM734.6 85.7L739.9 79L740.9 84ZM741.3 64.4L737.6 65.3L733.8 66.2ZM746.6 75.8L750.8 71.7L750.9 78.2ZM746.6 75.8L739.9 79L740 73.9ZM746.8 83.5L746.6 75.8L750.9 78.2ZM739.9 79L746.6 75.8L746.8 83.5ZM742.1 96.9L730.8 97.7L733.3 91.7ZM723.1 95.9L730.8 97.7L724 102.9ZM760.2 102.3L767.5 103.3L768.2 110.8ZM760.2 102.3L766.9 96.5L767.5 103.3ZM766.9 96.5L760.2 102.3L760 95.1ZM760.2 102.3L749.7 98.2L760 95.1ZM760.2 102.3L752.4 105.5L749.7 98.2ZM730 67.8L731.7 73.9L726.2 69.7ZM731.7 73.9L730 67.8L733.8 66.2ZM659.5 210.2L669.7 218.5L652.6 223.9ZM663.3 236.7L669.7 218.5L676.5 233.2ZM669.7 218.5L663.3 236.7L652.6 223.9ZM669.7 218.5L659.5 210.2L662.8 197.2ZM557.2 213.2L557.7 208.4L562.2 210.6ZM557.7 208.4L557.2 213.2L553.3 206.3ZM731.7 73.9L732.9 78.6L726.9 76ZM732.9 78.6L739.9 79L734.6 85.7ZM732.9 78.6L731.7 73.9L740 73.9ZM739.9 79L732.9 78.6L740 73.9ZM728.3 88.1L734.6 85.7L733.3 91.7ZM722.3 89.3L728.3 88.1L723.1 95.9ZM728.3 88.1L722.3 89.3L721.6 83.3ZM728.3 88.1L730.8 97.7L723.1 95.9ZM730.8 97.7L728.3 88.1L733.3 91.7ZM770.3 133.6L771.1 141.2L763.8 139ZM758 126.9L768.9 118.4L769.6 126ZM758 126.9L753.4 135.3L752.1 122.3ZM753.4 135.3L758 126.9L763.8 139ZM770.3 133.6L758 126.9L769.6 126ZM758 126.9L770.3 133.6L763.8 139ZM740.8 122.1L735.5 127.3L733.8 120.2ZM735.5 127.3L726.9 126.6L733.8 120.2ZM735.5 127.3L733.9 132.1L727.3 130.7ZM726.9 126.6L735.5 127.3L727.3 130.7ZM698.3 187.5L709 182L706.6 183.6ZM714.3 207.2L708 194.2L717.7 196.7ZM725 202L714.3 207.2L717.7 196.7ZM714.3 207.2L726.8 217.4L715.4 222.9ZM714.3 207.2L725 202L726.8 217.4ZM698.3 187.5L698 198.1L687.9 190.3ZM708 194.2L698 198.1L698.3 187.5ZM714.3 207.2L698 198.1L708 194.2ZM708 194.2L715 191L717.7 196.7ZM725 202L737.1 210.2L726.8 217.4ZM737.6 65.3L737.4 69.9L733.8 66.2ZM737.4 69.9L731.7 73.9L733.8 66.2ZM731.7 73.9L737.4 69.9L740 73.9ZM741.3 64.4L737.4 69.9L737.6 65.3ZM750.8 71.7L743.5 71.2L748.8 67.8ZM746.6 75.8L743.5 71.2L750.8 71.7ZM743.5 71.2L746.6 75.8L740 73.9ZM748.8 67.8L743.5 71.2L745 63.8ZM743.5 71.2L741.3 64.4L745 63.8ZM737.4 69.9L743.5 71.2L740 73.9ZM743.5 71.2L737.4 69.9L741.3 64.4ZM737 104.1L742.1 96.9L744.8 104.7ZM737 104.1L730.8 97.7L742.1 96.9ZM730.8 97.7L737 104.1L724 102.9ZM737 104.1L724.8 109.8L724 102.9ZM737 104.1L733.2 112L724.8 109.8ZM768.9 118.4L762.3 115.5L768.2 110.8ZM762.3 115.5L760.2 102.3L768.2 110.8ZM758 126.9L762.3 115.5L768.9 118.4ZM760.2 102.3L762.3 115.5L752.4 105.5ZM762.3 115.5L753.1 114.9L752.4 105.5ZM753.1 114.9L762.3 115.5L752.1 122.3ZM762.3 115.5L758 126.9L752.1 122.3ZM752.4 105.5L744.4 112L744.8 104.7ZM753.1 114.9L744.4 112L752.4 105.5ZM744.4 112L740.8 122.1L733.2 112ZM740.8 122.1L744.4 112L752.1 122.3ZM744.4 112L753.1 114.9L752.1 122.3ZM744.4 112L737 104.1L744.8 104.7ZM737 104.1L744.4 112L733.2 112ZM617.3 209.6L618.5 219.2L608.8 212ZM644.2 214.3L637.7 204.1L649.7 200.8ZM659.5 210.2L644.2 214.3L649.7 200.8ZM644.2 214.3L659.5 210.2L652.6 223.9ZM581.4 249.8L584.9 245L590 251.1ZM582 237.2L573.8 238.9L578.1 233ZM583.2 229.1L582 237.2L578.1 233ZM587.9 225.1L594.1 228.6L583.2 229.1ZM587.9 225.1L598.5 223.1L594.1 228.6ZM584.9 245L595.4 246.2L590 251.1ZM579.2 224.2L587.9 225.1L583.2 229.1ZM581.4 249.8L577.6 255.2L575.2 250.4ZM617.5 249.1L619.9 239.6L627 246.5ZM637.5 224.4L644.2 214.3L652.6 223.9ZM637.5 224.4L652.6 223.9L650.2 240.3ZM637.9 243.6L637.5 224.4L650.2 240.3ZM545.6 210.5L549 204.3L553.3 206.3ZM545.6 210.5L540.8 204.8L544.9 202.3ZM549 204.3L545.6 210.5L544.9 202.3ZM557.2 213.2L552.2 214.6L553.3 206.3ZM552.2 214.6L545.6 210.5L553.3 206.3ZM562.4 217.5L557.2 213.2L562.2 210.6ZM727.3 81.3L732.9 78.6L734.6 85.7ZM728.3 88.1L727.3 81.3L734.6 85.7ZM732.9 78.6L727.3 81.3L726.9 76ZM727.3 81.3L728.3 88.1L721.6 83.3ZM727.3 81.3L721.6 83.3L721.7 77.8ZM726.9 76L727.3 81.3L721.7 77.8ZM744.4 127.9L735.5 127.3L740.8 122.1ZM744.4 127.9L740.8 122.1L752.1 122.3ZM744.4 127.9L753.4 135.3L746.1 137.7ZM753.4 135.3L744.4 127.9L752.1 122.3ZM669.7 218.5L683 216.8L676.5 233.2ZM683 216.8L689.6 229.7L676.5 233.2ZM733.9 132.1L727.8 134.1L727.3 130.7ZM732.4 137.3L727.8 134.1L733.9 132.1ZM727.8 134.1L732.4 137.3L728.1 137ZM732.4 137.3L728.5 139.8L728.1 137ZM710.4 187.7L708 194.2L706.6 183.6ZM710.4 187.7L715 191L708 194.2ZM709 182L710.4 187.7L706.6 183.6ZM715 191L710.4 187.7L717.2 186.6ZM720.4 190.9L715 191L717.2 186.6ZM722.5 186.6L720.4 190.9L717.2 186.6ZM715 191L720.4 190.9L717.7 196.7ZM720.4 190.9L725 202L717.7 196.7ZM744.5 158.8L745.4 164.6L739.7 161.2ZM745.4 164.6L744.5 158.8L751.6 166ZM742.8 170.4L745.4 164.6L751.6 166ZM752.9 172.6L742.8 170.4L751.6 166ZM760 165.4L752.9 172.6L751.6 166ZM581.4 249.8L578 243L584.9 245ZM578 243L582 237.2L584.9 245ZM582 237.2L578 243L573.8 238.9ZM578 243L581.4 249.8L575.2 250.4ZM563.5 249.4L560.5 245.4L567.1 244.5ZM567.6 233.8L559.5 230.7L566.2 225.4ZM567.1 244.5L564.8 240.3L573.8 238.9ZM564.8 240.3L567.6 233.8L573.8 238.9ZM564.8 240.3L560.5 245.4L558.4 240.4ZM560.5 245.4L564.8 240.3L567.1 244.5ZM573.8 238.9L574.5 229L578.1 233ZM567.6 233.8L574.5 229L573.8 238.9ZM579.2 224.2L574.5 229L572.4 223.5ZM572.4 223.5L574.5 229L566.2 225.4ZM574.5 229L567.6 233.8L566.2 225.4ZM574.5 229L583.2 229.1L578.1 233ZM574.5 229L579.2 224.2L583.2 229.1ZM598.5 223.1L594.3 216L601.1 214.1ZM594.3 216L587.9 225.1L588.2 217.6ZM594.3 216L598.5 223.1L587.9 225.1ZM618.5 219.2L607 225.3L608.8 212ZM607 225.3L601.1 214.1L608.8 212ZM607 225.3L598.5 223.1L601.1 214.1ZM593 239.5L595.4 246.2L584.9 245ZM601.8 253.3L604.1 245.8L609.1 251.3ZM595.4 246.2L604.1 245.8L601.8 253.3ZM587.9 225.1L582.3 219.2L588.2 217.6ZM579.2 224.2L582.3 219.2L587.9 225.1ZM577 217.7L579.2 224.2L572.4 223.5ZM571.9 215.2L577 217.7L572.4 223.5ZM577 217.7L582.3 219.2L579.2 224.2ZM577.6 255.2L568.4 253.5L575.2 250.4ZM568.4 253.5L563.5 249.4L567.1 244.5ZM583.4 255.2L577.6 255.2L581.4 249.8ZM589.4 256.8L583.4 255.2L590 251.1ZM583.4 255.2L581.4 249.8L590 251.1ZM595.3 255L589.4 256.8L590 251.1ZM595.4 246.2L595.3 255L590 251.1ZM595.3 255L595.4 246.2L601.8 253.3ZM585.8 261.5L583.4 255.2L589.4 256.8ZM582.4 266L579 270.3L577.1 265.7ZM556.7 290.5L561.7 293.1L559.2 296.4ZM556.7 299.6L553.6 296.1L559.2 296.4ZM553.6 296.1L556.7 290.5L559.2 296.4ZM561.7 293.1L560.1 288.7L564.3 289.7ZM560.1 288.7L561.7 293.1L556.7 290.5ZM568.2 265L571.7 271.6L565.8 269.2ZM571.7 271.6L568.2 265L577.1 265.7ZM571.7 271.6L579 270.3L575.9 274.5ZM579 270.3L571.7 271.6L577.1 265.7ZM569.9 282.4L563.6 278.9L567.9 278.5ZM563.6 278.9L566.7 273.7L567.9 278.5ZM571.7 271.6L566.7 273.7L565.8 269.2ZM558.1 282.9L556.2 286.4L553.6 279.8ZM560.1 288.7L556.2 286.4L558.1 282.9ZM556.2 286.4L560.1 288.7L556.7 290.5ZM566.7 273.7L559.6 271.7L565.8 269.2ZM559.6 271.7L566.7 273.7L563.6 278.9ZM559.6 271.7L552.3 270.2L555 266.6ZM552.3 270.2L559.6 271.7L554.5 276ZM552.3 270.2L550.3 265.5L555 266.6ZM622.1 229.9L619.9 239.6L609.7 234.4ZM607 225.3L622.1 229.9L609.7 234.4ZM622.1 229.9L607 225.3L618.5 219.2ZM559.8 225.9L562.4 217.5L566.2 225.4ZM559.5 230.7L559.8 225.9L566.2 225.4ZM559.8 225.9L559.5 230.7L554.1 225.3ZM567 212.9L562.4 217.5L562.2 210.6ZM568.2 220L571.9 215.2L572.4 223.5ZM568.2 220L572.4 223.5L566.2 225.4ZM562.4 217.5L568.2 220L566.2 225.4ZM568.2 220L567 212.9L571.9 215.2ZM567 212.9L568.2 220L562.4 217.5ZM557.7 220.9L552.2 214.6L557.2 213.2ZM557.7 220.9L550.4 220.5L552.2 214.6ZM562.4 217.5L557.7 220.9L557.2 213.2ZM550.4 220.5L557.7 220.9L554.1 225.3ZM557.7 220.9L559.8 225.9L554.1 225.3ZM559.8 225.9L557.7 220.9L562.4 217.5ZM547.4 217.4L544 219.9L542.7 214.4ZM545.6 210.5L547.4 217.4L542.7 214.4ZM552.2 214.6L547.4 217.4L545.6 210.5ZM550.4 220.5L547.4 217.4L552.2 214.6ZM544 219.9L547.4 217.4L550.4 220.5ZM735.5 127.3L739.3 133.3L733.9 132.1ZM744.4 127.9L739.3 133.3L735.5 127.3ZM739.3 133.3L744.4 127.9L746.1 137.7ZM740.8 143.5L739.3 133.3L746.1 137.7ZM739.3 133.3L740.8 143.5L736 141.4ZM739.3 133.3L732.4 137.3L733.9 132.1ZM732.4 137.3L739.3 133.3L736 141.4ZM698 198.1L684.3 203.1L687.9 190.3ZM684.3 203.1L675.8 193.6L687.9 190.3ZM684.3 203.1L683 216.8L669.7 218.5ZM675.8 193.6L684.3 203.1L662.8 197.2ZM684.3 203.1L669.7 218.5L662.8 197.2ZM727.8 154.2L728.8 148.5L728.5 151.3ZM713.6 178.5L711.3 180.2L717.7 174.5ZM710.4 187.7L713.8 182.2L717.2 186.6ZM713.8 182.2L713.6 178.5L717.2 179.3ZM713.6 178.5L713.8 182.2L711.3 180.2ZM711.3 180.2L713.8 182.2L709 182ZM713.8 182.2L710.4 187.7L709 182ZM731.5 140.8L736 141.4L733.6 143.5ZM731.5 140.8L732.4 137.3L736 141.4ZM732.4 137.3L731.5 140.8L728.5 139.8ZM728.6 142.7L731.5 140.8L733.6 143.5ZM728.5 139.8L731.5 140.8L728.6 142.7ZM719.9 176.5L719.9 180.3L717.2 179.3ZM719.7 172.3L719.9 176.5L717.7 174.5ZM719.9 176.5L719.7 172.3L723.5 173.2ZM754.4 152.7L760.4 147.8L762 155.4ZM762 155.4L760.4 147.8L771.3 148.9ZM760.4 147.8L771.1 141.2L771.3 148.9ZM771.1 141.2L760.4 147.8L763.8 139ZM744.5 158.8L755.4 160.1L751.6 166ZM755.4 160.1L760 165.4L751.6 166ZM755.4 160.1L754.4 152.7L762 155.4ZM760 165.4L755.4 160.1L762 155.4ZM747.5 154L755.4 160.1L744.5 158.8ZM755.4 160.1L747.5 154L754.4 152.7ZM753.4 135.3L752.5 142.6L746.1 137.7ZM752.5 142.6L740.8 143.5L746.1 137.7ZM752.5 142.6L743.3 148.9L740.8 143.5ZM747.5 154L752.5 142.6L754.4 152.7ZM752.5 142.6L747.5 154L743.3 148.9ZM752.5 142.6L760.4 147.8L754.4 152.7ZM752.5 142.6L753.4 135.3L763.8 139ZM760.4 147.8L752.5 142.6L763.8 139ZM730.5 169.4L734.6 169.1L733.8 172ZM723.5 173.2L725.9 168.2L727.1 173ZM725.9 168.2L730.5 169.4L727.1 173ZM730.5 169.4L725.9 168.2L729.7 166.8ZM740.3 165.7L745.4 164.6L742.8 170.4ZM737.2 163.1L740.3 165.7L736.6 167.1ZM745.4 164.6L740.3 165.7L739.7 161.2ZM740.3 165.7L737.2 163.1L739.7 161.2ZM752.9 172.6L765.3 170.9L762.1 177.8ZM760 165.4L765.3 170.9L752.9 172.6ZM770.1 156.4L767.9 163.7L762 155.4ZM767.9 163.7L760 165.4L762 155.4ZM767.9 163.7L765.3 170.9L760 165.4ZM758.7 184.6L754.8 191L748 182.4ZM752.9 172.6L758.7 184.6L748 182.4ZM758.7 184.6L752.9 172.6L762.1 177.8ZM725.7 176.3L723.5 173.2L727.1 173ZM728.7 177L725.7 176.3L727.1 173ZM726.8 184L722.2 182.7L724.2 180.5ZM722.2 182.7L726.8 184L722.5 186.6ZM731 183.2L731.7 179.7L734.4 180.4ZM731.7 179.7L733.4 175.9L734.4 180.4ZM733.4 175.9L731.7 179.7L728.7 177ZM754.8 191L740 191L748 182.4ZM746.5 201.4L740 191L754.8 191ZM744.3 176.9L752.9 172.6L748 182.4ZM752.9 172.6L744.3 176.9L742.8 170.4ZM744.3 176.9L739.7 173.6L742.8 170.4ZM739.7 173.6L744.3 176.9L739.5 177.8ZM571.9 246.4L567.1 244.5L573.8 238.9ZM578 243L571.9 246.4L573.8 238.9ZM571.9 246.4L578 243L575.2 250.4ZM568.4 253.5L571.9 246.4L575.2 250.4ZM571.9 246.4L568.4 253.5L567.1 244.5ZM551.6 240.3L556 234.5L558.4 240.4ZM562.6 235.9L559.5 230.7L567.6 233.8ZM564.8 240.3L562.6 235.9L567.6 233.8ZM562.6 235.9L564.8 240.3L558.4 240.4ZM556 234.5L562.6 235.9L558.4 240.4ZM562.6 235.9L556 234.5L559.5 230.7ZM594.1 228.6L587.6 237.2L583.2 229.1ZM587.6 237.2L582 237.2L583.2 229.1ZM582 237.2L587.6 237.2L584.9 245ZM587.6 237.2L593 239.5L584.9 245ZM593 239.5L602.9 239L595.4 246.2ZM602.9 239L604.1 245.8L595.4 246.2ZM617.5 249.1L611.2 243.6L619.9 239.6ZM619.9 239.6L611.2 243.6L609.7 234.4ZM611.2 243.6L617.5 249.1L609.1 251.3ZM604.1 245.8L611.2 243.6L609.1 251.3ZM611.2 243.6L602.9 239L609.7 234.4ZM602.9 239L611.2 243.6L604.1 245.8ZM563.5 249.4L564.9 256.9L560.5 255.1ZM568.4 253.5L564.9 256.9L563.5 249.4ZM573 261.6L568.4 253.5L577.6 255.2ZM568.2 265L573 261.6L577.1 265.7ZM564.9 256.9L573 261.6L568.2 265ZM573 261.6L564.9 256.9L568.4 253.5ZM583.4 255.2L580.7 260.4L577.6 255.2ZM585.8 261.5L580.7 260.4L583.4 255.2ZM573 261.6L580.7 260.4L577.1 265.7ZM580.7 260.4L573 261.6L577.6 255.2ZM580.7 260.4L582.4 266L577.1 265.7ZM580.7 260.4L585.8 261.5L582.4 266ZM572.8 278.5L569.9 282.4L567.9 278.5ZM572.8 278.5L571.7 271.6L575.9 274.5ZM566.7 273.7L572.8 278.5L567.9 278.5ZM572.8 278.5L566.7 273.7L571.7 271.6ZM560.1 288.7L562.6 285.4L564.3 289.7ZM563.6 278.9L562.6 285.4L558.1 282.9ZM562.6 285.4L560.1 288.7L558.1 282.9ZM558.1 250.1L563.5 249.4L560.5 255.1ZM553.9 251.3L558.1 250.1L560.5 255.1ZM563.5 249.4L558.1 250.1L560.5 245.4ZM552.4 292.2L556.2 286.4L556.7 290.5ZM557.8 261.1L559.8 266.3L555 266.6ZM559.8 266.3L559.6 271.7L555 266.6ZM559.6 271.7L559.8 266.3L565.8 269.2ZM559.8 266.3L568.2 265L565.8 269.2ZM558.8 277.2L559.6 271.7L563.6 278.9ZM559.6 271.7L558.8 277.2L554.5 276ZM558.8 277.2L563.6 278.9L558.1 282.9ZM558.8 277.2L558.1 282.9L553.6 279.8ZM554.5 276L558.8 277.2L553.6 279.8ZM628.2 218.1L622.1 229.9L618.5 219.2ZM622.1 229.9L628.2 218.1L637.5 224.4ZM628.2 218.1L617.3 209.6L626.9 207ZM617.3 209.6L628.2 218.1L618.5 219.2ZM637.5 224.4L628.2 218.1L644.2 214.3ZM637.7 204.1L628.2 218.1L626.9 207ZM644.2 214.3L628.2 218.1L637.7 204.1ZM630.4 235.6L637.5 224.4L637.9 243.6ZM630.4 235.6L622.1 229.9L637.5 224.4ZM630.4 235.6L637.9 243.6L627 246.5ZM619.9 239.6L630.4 235.6L627 246.5ZM622.1 229.9L630.4 235.6L619.9 239.6ZM545.8 241.1L549.3 235.8L551.6 240.3ZM549.3 235.8L556 234.5L551.6 240.3ZM697.4 209.6L684.3 203.1L698 198.1ZM684.3 203.1L697.4 209.6L683 216.8ZM697.4 209.6L698 198.1L714.3 207.2ZM689.6 229.7L697.4 209.6L702.8 226.7ZM683 216.8L697.4 209.6L689.6 229.7ZM702.8 226.7L697.4 209.6L715.4 222.9ZM697.4 209.6L714.3 207.2L715.4 222.9ZM725.3 162.4L727.2 157L726.3 159.7ZM727.2 157L725.3 162.4L727.8 154.2ZM727.2 157L731.6 160L726.3 159.7ZM728.7 145.6L728.6 142.7L733.6 143.5ZM729.7 166.8L728.3 163.7L731.3 162.9ZM728.3 163.7L725.3 162.4L726.3 159.7ZM725.9 168.2L728.3 163.7L729.7 166.8ZM731.6 160L728.3 163.7L726.3 159.7ZM728.3 163.7L731.6 160L731.3 162.9ZM715.8 176.7L713.6 178.5L717.7 174.5ZM713.6 178.5L715.8 176.7L717.2 179.3ZM719.9 176.5L715.8 176.7L717.7 174.5ZM715.8 176.7L719.9 176.5L717.2 179.3ZM722.2 182.7L718.9 183.2L719.9 180.3ZM719.9 180.3L718.9 183.2L717.2 179.3ZM718.9 183.2L722.5 186.6L717.2 186.6ZM718.9 183.2L722.2 182.7L722.5 186.6ZM713.8 182.2L718.9 183.2L717.2 186.6ZM718.9 183.2L713.8 182.2L717.2 179.3ZM719.7 172.3L721.6 170.2L723.5 173.2ZM725.9 168.2L721.6 170.2L723.1 167.8ZM721.6 170.2L725.9 168.2L723.5 173.2ZM724.2 165.1L725.9 168.2L723.1 167.8ZM721.6 170.2L724.2 165.1L723.1 167.8ZM728.3 163.7L724.2 165.1L725.3 162.4ZM724.2 165.1L728.3 163.7L725.9 168.2ZM733.3 166.3L737.2 163.1L736.6 167.1ZM734.6 169.1L733.3 166.3L736.6 167.1ZM733.3 166.3L729.7 166.8L731.3 162.9ZM733.3 166.3L730.5 169.4L729.7 166.8ZM733.3 166.3L734.6 169.1L730.5 169.4ZM731.6 160L734.7 161.5L731.3 162.9ZM734.7 161.5L733.3 166.3L731.3 162.9ZM733.3 166.3L734.7 161.5L737.2 163.1ZM732.1 152.2L727.8 154.2L728.5 151.3ZM728.8 148.5L732.1 152.2L728.5 151.3ZM739.6 152L747.5 154L744.5 158.8ZM747.5 154L739.6 152L743.3 148.9ZM738.9 169.8L740.3 165.7L742.8 170.4ZM740.3 165.7L738.9 169.8L736.6 167.1ZM739.7 173.6L738.9 169.8L742.8 170.4ZM738.9 169.8L734.6 169.1L736.6 167.1ZM734.6 169.1L738.9 169.8L733.8 172ZM738.9 169.8L739.7 173.6L733.8 172ZM721.9 178.3L725.7 176.3L724.2 180.5ZM719.9 176.5L721.9 178.3L719.9 180.3ZM721.9 178.3L719.9 176.5L723.5 173.2ZM725.7 176.3L721.9 178.3L723.5 173.2ZM722.2 182.7L721.9 178.3L724.2 180.5ZM721.9 178.3L722.2 182.7L719.9 180.3ZM733.4 175.9L736.2 176.7L734.4 180.4ZM736.2 176.7L739.7 173.6L739.5 177.8ZM736.2 176.7L733.4 175.9L733.8 172ZM739.7 173.6L736.2 176.7L733.8 172ZM730.6 174.7L728.7 177L727.1 173ZM730.6 174.7L733.4 175.9L728.7 177ZM733.4 175.9L730.6 174.7L733.8 172ZM730.6 174.7L730.5 169.4L733.8 172ZM730.5 169.4L730.6 174.7L727.1 173ZM727.2 180.6L726.8 184L724.2 180.5ZM725.7 176.3L727.2 180.6L724.2 180.5ZM727.2 180.6L725.7 176.3L728.7 177ZM731.7 179.7L727.2 180.6L728.7 177ZM726.8 184L727.2 180.6L731 183.2ZM727.2 180.6L731.7 179.7L731 183.2ZM728.4 188.2L720.4 190.9L722.5 186.6ZM726.8 184L728.4 188.2L722.5 186.6ZM728.4 188.2L726.8 184L731 183.2ZM734.9 183.8L731 183.2L734.4 180.4ZM734.9 183.8L728.4 188.2L731 183.2ZM728.4 188.2L734.9 183.8L740 191ZM597.4 234.7L602.9 239L593 239.5ZM597.4 234.7L587.6 237.2L594.1 228.6ZM587.6 237.2L597.4 234.7L593 239.5ZM598.5 223.1L597.4 234.7L594.1 228.6ZM607 225.3L597.4 234.7L598.5 223.1ZM597.4 234.7L607 225.3L609.7 234.4ZM602.9 239L597.4 234.7L609.7 234.4ZM569.9 282.4L567 286.1L563.6 278.9ZM567 286.1L562.6 285.4L563.6 278.9ZM562.6 285.4L567 286.1L564.3 289.7ZM558.1 250.1L555.4 246.7L560.5 245.4ZM555.4 246.7L551.6 240.3L558.4 240.4ZM560.5 245.4L555.4 246.7L558.4 240.4ZM555.4 246.7L558.1 250.1L553.9 251.3ZM562.4 261L564.9 256.9L568.2 265ZM559.8 266.3L562.4 261L568.2 265ZM562.4 261L559.8 266.3L557.8 261.1ZM562.4 261L557.8 261.1L560.5 255.1ZM564.9 256.9L562.4 261L560.5 255.1ZM553.9 251.3L552.3 255.2L548.9 251.4ZM552.3 255.2L553.9 251.3L560.5 255.1ZM549.3 235.8L550.5 230.1L556 234.5ZM559.5 230.7L550.5 230.1L554.1 225.3ZM556 234.5L550.5 230.1L559.5 230.7ZM544.9 232.6L550.5 230.1L549.3 235.8ZM736.4 158.7L734.7 161.5L731.6 160ZM737.2 163.1L736.4 158.7L739.7 161.2ZM734.7 161.5L736.4 158.7L737.2 163.1ZM732.1 152.2L731.2 156.3L727.8 154.2ZM727.2 157L731.2 156.3L731.6 160ZM731.2 156.3L727.2 157L727.8 154.2ZM731.2 156.3L736.4 158.7L731.6 160ZM732.4 148L732.1 152.2L728.8 148.5ZM732.4 148L728.7 145.6L733.6 143.5ZM728.7 145.6L732.4 148L728.8 148.5ZM732.6 197.1L728.4 188.2L740 191ZM732.6 197.1L737.1 210.2L725 202ZM720.4 190.9L732.6 197.1L725 202ZM728.4 188.2L732.6 197.1L720.4 190.9ZM732.6 197.1L746.5 201.4L737.1 210.2ZM732.6 197.1L740 191L746.5 201.4ZM737.2 180.3L734.9 183.8L734.4 180.4ZM736.2 176.7L737.2 180.3L734.4 180.4ZM737.2 180.3L736.2 176.7L739.5 177.8ZM551.2 246.8L555.4 246.7L553.9 251.3ZM551.2 246.8L553.9 251.3L548.9 251.4ZM547.1 247.7L551.2 246.8L548.9 251.4ZM555.4 246.7L551.2 246.8L551.6 240.3ZM551.2 246.8L545.8 241.1L551.6 240.3ZM552.3 255.2L553.7 260L547.6 259.4ZM557.8 261.1L553.7 260L560.5 255.1ZM553.7 260L552.3 255.2L560.5 255.1ZM553.7 260L557.8 261.1L555 266.6ZM550.3 265.5L553.7 260L555 266.6ZM544.6 228.2L550.5 230.1L544.9 232.6ZM739.6 152L738.4 155.6L736.4 152.6ZM738.4 155.6L739.6 152L744.5 158.8ZM738.4 155.6L744.5 158.8L739.7 161.2ZM736.4 158.7L738.4 155.6L739.7 161.2ZM731.2 156.3L735.6 155.6L736.4 158.7ZM738.4 155.6L735.6 155.6L736.4 152.6ZM735.6 155.6L738.4 155.6L736.4 158.7ZM735.6 155.6L732.1 152.2L736.4 152.6ZM735.6 155.6L731.2 156.3L732.1 152.2ZM732.1 152.2L735.1 148.3L736.4 152.6ZM732.4 148L735.1 148.3L732.1 152.2ZM735.1 148.3L739.6 152L736.4 152.6ZM735.1 148.3L732.4 148L733.6 143.5ZM740 191L741.8 182.6L748 182.4ZM741.8 182.6L737.2 180.3L739.5 177.8ZM741.8 182.6L744.3 176.9L748 182.4ZM744.3 176.9L741.8 182.6L739.5 177.8ZM544.6 228.2L548.4 225.6L550.5 230.1ZM548.4 225.6L550.4 220.5L554.1 225.3ZM550.5 230.1L548.4 225.6L554.1 225.3ZM548.4 225.6L544 219.9L550.4 220.5ZM739.6 152L736.6 145.7L743.3 148.9ZM735.1 148.3L736.6 145.7L739.6 152ZM743.3 148.9L736.6 145.7L740.8 143.5ZM740.8 143.5L736.6 145.7L736 141.4ZM736 141.4L736.6 145.7L733.6 143.5ZM736.6 145.7L735.1 148.3L733.6 143.5ZM737.2 180.3L738.1 184L734.9 183.8ZM741.8 182.6L738.1 184L737.2 180.3ZM734.9 183.8L738.1 184L740 191ZM738.1 184L741.8 182.6L740 191Z"/><path fill="#0048c0" d="M459.7 327.4L462.9 330.3L459.1 331.4ZM435 244L430.8 242.3L434.3 238ZM430.8 242.3L435 244L430.3 247.3ZM436.6 256.7L433.4 259.2L431 254ZM443.7 249.9L438.2 252.6L438.7 247.5ZM456.4 320.2L449.9 322.8L453.8 317.1ZM456.4 320.2L453.8 317.1L457.7 316.1ZM455.3 332.5L455 325.9L459.1 331.4ZM433.9 250.8L436.6 256.7L431 254ZM433.9 250.8L438.2 252.6L436.6 256.7ZM438.2 252.6L433.9 250.8L438.7 247.5ZM433.9 250.8L435 244L438.7 247.5ZM435 244L433.9 250.8L430.3 247.3ZM435 244L442.4 241.9L438.7 247.5ZM438.2 252.6L442.4 254.7L436.6 256.7ZM443.7 249.9L442.4 254.7L438.2 252.6ZM462.5 315.7L460 319.1L457.7 316.1ZM440.4 234.6L438.7 238.6L434.3 238ZM438.7 238.6L435 244L434.3 238ZM438.7 238.6L442.4 241.9L435 244ZM442.4 254.7L438.3 260.3L436.6 256.7ZM438.3 260.3L433.4 259.2L436.6 256.7ZM447.6 334.7L497.5 320.4L443.7 335.8ZM497.5 320.4L439.9 336.9L443.7 335.8Z"/><path fill="#0018b4" d="M403.9 245.5L404.5 241.5L410.4 245.6ZM414.1 295L408.3 297L407.4 293.1ZM433.9 284.5L432.4 281.1L435.8 278.8ZM432.4 281.1L434.3 274.9L435.8 278.8ZM434.3 274.9L432.4 281.1L428.5 274.6ZM440.2 311.5L435.1 307.6L442 306.3ZM430.8 318.9L424.9 320.2L426.8 315.5ZM407.6 248.8L403.9 245.5L410.4 245.6ZM412.8 298.7L409.2 300.9L408.3 297ZM414.1 295L412.8 298.7L408.3 297ZM414.6 287.1L410.9 285.3L416 283.6ZM441 297.6L440.5 301.4L436.2 295.2ZM438.2 290.7L441 297.6L436.2 295.2ZM437.6 286.3L433.9 284.5L435.8 278.8ZM431 304.3L435.5 303L435.1 307.6ZM435.1 307.6L435.5 303L442 306.3ZM435.5 303L440.5 301.4L442 306.3ZM435.5 303L431 304.3L431.8 299.1ZM436.2 295.2L435.5 303L431.8 299.1ZM440.5 301.4L435.5 303L436.2 295.2ZM431.7 313.7L430.8 318.9L426.8 315.5ZM431.7 313.7L436.6 317.6L430.8 318.9ZM440.5 301.4L446.3 304.6L442 306.3ZM407.6 248.8L403.8 249.5L403.9 245.5ZM403.8 249.5L408.3 253.4L403.7 253.4ZM403.8 249.5L407.6 248.8L408.3 253.4ZM404.5 241.5L411.6 240.2L410.4 245.6ZM417.4 279.5L419.9 282.8L416 283.6ZM431 304.3L424.6 302.1L431.8 299.1ZM424.6 302.1L425.4 297.5L431.8 299.1ZM414.6 287.1L412 290.5L410.9 285.3ZM412 290.5L414.6 287.1L416.4 291.2ZM412 290.5L414.1 295L407.4 293.1ZM414.1 295L412 290.5L416.4 291.2ZM434.3 288.7L429.6 288.5L433.9 284.5ZM437.6 286.3L434.3 288.7L433.9 284.5ZM434.3 288.7L437.6 286.3L438.2 290.7ZM434.3 288.7L438.2 290.7L436.2 295.2ZM425.4 297.5L428.2 294.8L431.8 299.1ZM422.3 292.7L428.2 294.8L425.4 297.5ZM429.6 288.5L428.2 294.8L424.2 288.8ZM428.2 294.8L422.3 292.7L424.2 288.8ZM441 297.6L444.7 299.5L440.5 301.4ZM444.7 299.5L446.3 304.6L440.5 301.4ZM436.6 317.6L433.2 322.7L430.8 318.9ZM445.2 311.7L440.2 311.5L442 306.3ZM446.3 304.6L445.2 311.7L442 306.3ZM445.2 311.7L446.3 304.6L450 308.3ZM421.7 310.9L428.5 310L426.8 315.5ZM428.5 310L431.7 313.7L426.8 315.5ZM428.5 310L431 304.3L435.1 307.6ZM431.7 313.7L428.5 310L435.1 307.6ZM440.3 315.3L444.3 316.7L442.6 321.1ZM436.6 317.6L440.3 315.3L442.6 321.1ZM445.2 311.7L440.3 315.3L440.2 311.5ZM440.3 315.3L445.2 311.7L444.3 316.7ZM435.9 312.5L436.6 317.6L431.7 313.7ZM440.2 311.5L435.9 312.5L435.1 307.6ZM435.9 312.5L431.7 313.7L435.1 307.6ZM435.9 312.5L440.3 315.3L436.6 317.6ZM450 313.9L445.2 311.7L450 308.3ZM445.2 311.7L450 313.9L444.3 316.7ZM439.8 279.2L437.6 286.3L435.8 278.8ZM440 274.9L439.8 279.2L435.8 278.8ZM419.9 282.8L427.1 284.7L424.2 288.8ZM427.1 284.7L429.6 288.5L424.2 288.8ZM427.1 284.7L432.4 281.1L433.9 284.5ZM429.6 288.5L427.1 284.7L433.9 284.5ZM414.6 287.1L418.8 286.8L416.4 291.2ZM418.8 286.8L419.9 282.8L424.2 288.8ZM418.8 286.8L414.6 287.1L416 283.6ZM419.9 282.8L418.8 286.8L416 283.6ZM418.8 286.8L422.3 292.7L416.4 291.2ZM422.3 292.7L418.8 286.8L424.2 288.8ZM423.2 278.9L419.9 282.8L417.4 279.5ZM423.2 278.9L427.1 284.7L419.9 282.8ZM412.8 298.7L414.5 303.6L409.2 300.9ZM418.2 296L412.8 298.7L414.1 295ZM418.2 296L414.1 295L416.4 291.2ZM422.3 292.7L418.2 296L416.4 291.2ZM410.9 285.3L406.7 289.2L406 285.2ZM412 290.5L406.7 289.2L410.9 285.3ZM406.7 289.2L412 290.5L407.4 293.1ZM432 294.7L436.2 295.2L431.8 299.1ZM428.2 294.8L432 294.7L431.8 299.1ZM432 294.7L434.3 288.7L436.2 295.2ZM434.3 288.7L432 294.7L429.6 288.5ZM432 294.7L428.2 294.8L429.6 288.5ZM425.6 305.9L424.6 302.1L431 304.3ZM428.5 310L425.6 305.9L431 304.3ZM427.1 284.7L427.6 279.4L432.4 281.1ZM423.2 278.9L427.6 279.4L427.1 284.7ZM432.4 281.1L427.6 279.4L428.5 274.6ZM424.2 275.2L427.6 279.4L423.2 278.9ZM418.2 296L417.4 300.8L412.8 298.7ZM437.6 286.3L442.9 288.4L438.2 290.7ZM424.6 302.1L421.5 298.7L425.4 297.5ZM421.5 298.7L417.4 300.8L418.2 296ZM421.5 298.7L422.3 292.7L425.4 297.5ZM421.5 298.7L418.2 296L422.3 292.7ZM439.8 279.2L440.9 284.2L437.6 286.3ZM440.9 284.2L442.9 288.4L437.6 286.3Z"/><path fill="#0060cc" d="M463.4 326.4L467.1 323.4L466.8 329.2ZM473.5 322.5L470.6 328.1L467.1 323.4ZM460 319.1L462.5 315.7L464 319.5ZM466.3 314.7L468.2 318.9L464 319.5ZM466.3 314.7L470.8 314L468.2 318.9Z"/><path fill="#0054cc" d="M462.9 330.3L463.4 326.4L466.8 329.2ZM467.1 323.4L470.6 328.1L466.8 329.2ZM470.6 328.1L473.5 322.5L474.5 327ZM462.5 315.7L466.3 314.7L464 319.5Z"/><path fill="#0054c0" d="M463.4 326.4L462.9 330.3L459.7 327.4ZM455 325.9L459.7 327.4L459.1 331.4ZM455.3 332.5L452.7 329.7L455 325.9ZM460 319.1L456.4 320.2L457.7 316.1Z"/><path fill="#003cb4" d="M422.4 338.4L425 335.2L424.5 341.3ZM420.6 334.9L422.4 338.4L418.7 331.4ZM420.6 334.9L425 335.2L422.4 338.4ZM425 335.2L428.4 340.2L424.5 341.3ZM428.4 340.2L425 335.2L428.8 334.3ZM443.7 335.8L439.9 336.9L442 329.6ZM439.9 336.9L436.1 332.2L442 329.6ZM417.2 327.7L423.2 331.4L418.7 331.4ZM423.2 331.4L420.6 334.9L418.7 331.4ZM446.2 330.2L443.7 335.8L442 329.6ZM424.4 250.2L421.3 246.3L425.1 246.4ZM421.3 246.3L424.4 250.2L420.7 252.7ZM430.3 265.7L433.4 259.2L435.1 263.8ZM432.2 339.1L428.4 340.2L428.8 334.3ZM438.3 327.9L433.4 327.1L436.9 324.1ZM453.8 317.1L449.9 322.8L448.6 317.5ZM449.9 322.8L442.6 321.1L448.6 317.5ZM446.2 330.2L447.6 334.7L443.7 335.8ZM447.6 334.7L446.2 330.2L451.4 333.6ZM452.7 329.7L455.3 332.5L451.4 333.6ZM428.4 250.7L424.4 250.2L425.1 246.4ZM420.7 252.7L423.1 257.7L418.7 257ZM423.1 257.7L421.4 262.9L418.7 257ZM423.1 257.7L427.3 263.1L421.4 262.9ZM427.3 263.1L423.1 257.7L428.7 258.4ZM427.3 263.1L425.3 269.1L421.4 262.9ZM433.4 259.2L427.3 263.1L428.7 258.4ZM427.3 263.1L433.4 259.2L430.3 265.7ZM433.4 335.3L432.2 339.1L428.8 334.3ZM433.4 335.3L436.1 332.2L436.1 338ZM442.6 321.1L443.8 325L436.9 324.1ZM443.8 325L438.3 327.9L436.9 324.1ZM449.9 322.8L443.8 325L442.6 321.1ZM424.4 250.2L426.9 255L420.7 252.7ZM426.9 255L423.1 257.7L420.7 252.7ZM423.1 257.7L426.9 255L428.7 258.4ZM422.8 324.6L427.8 329.1L423.2 331.4ZM422.3 242.6L426.7 242.2L425.1 246.4ZM426.7 242.2L430.3 247.3L425.1 246.4ZM426.7 242.2L428.3 236.6L430.8 242.3ZM424.4 238.3L426.7 242.2L422.3 242.6ZM424.4 238.3L428.3 236.6L426.7 242.2ZM432.2 339.1L497.5 320.4L428.4 340.2Z"/><path fill="#0024b4" d="M407.8 261.6L403.7 261.4L403.5 257.4ZM413.6 255.4L408.3 253.4L412.1 251.4ZM403.7 253.4L408.3 253.4L403.5 257.4ZM415.8 252.3L413.6 255.4L412.1 251.4ZM418.1 248.3L415.8 252.3L412.1 251.4ZM416.2 244.7L412.1 251.4L410.4 245.6ZM416.2 244.7L418.1 248.3L412.1 251.4ZM404.4 273.4L408.7 274L404.7 277.4ZM404.1 269.4L408.7 274L404.4 273.4ZM410.9 285.3L411.4 281.5L416 283.6ZM411.4 281.5L410.9 285.3L406 285.2ZM417.9 309.2L412.2 312.5L411.2 308.6ZM424.9 320.2L430.8 318.9L428.7 322.5ZM404.1 269.4L408 265.8L409.7 269.2ZM412.9 265L408 265.8L407.8 261.6ZM412.1 251.4L407.6 248.8L410.4 245.6ZM408.3 253.4L407.6 248.8L412.1 251.4ZM410.5 258.9L408.3 253.4L413.6 255.4ZM410.5 258.9L412.9 265L407.8 261.6ZM410.5 258.9L407.8 261.6L403.5 257.4ZM408.3 253.4L410.5 258.9L403.5 257.4ZM416.5 260.1L410.5 258.9L413.6 255.4ZM409.8 233.4L405.3 237.6L406 234.5ZM405.4 281.3L411.4 281.5L406 285.2ZM410.1 277.6L408.7 274L414.4 276.9ZM411.4 281.5L410.1 277.6L414.4 276.9ZM408.7 274L410.1 277.6L404.7 277.4ZM410.1 277.6L405.4 281.3L404.7 277.4ZM405.4 281.3L410.1 277.6L411.4 281.5ZM408.7 274L414.4 272.7L414.4 276.9ZM414.4 272.7L418.7 275.6L414.4 276.9ZM418.7 275.6L414.4 272.7L419.3 270.2ZM418.7 275.6L417.4 279.5L414.4 276.9ZM411.4 281.5L417.4 279.5L416 283.6ZM417.4 279.5L411.4 281.5L414.4 276.9ZM414.7 320.1L413.4 316.3L418.9 318.3ZM413.4 316.3L416.8 314.4L418.9 318.3ZM416.8 314.4L413.4 316.3L412.2 312.5ZM417.9 309.2L416.8 314.4L412.2 312.5ZM421.7 310.9L417.9 309.2L422 307ZM421.7 310.9L416.8 314.4L417.9 309.2ZM442.6 321.1L444.3 316.7L448.6 317.5ZM424.9 320.2L422.2 316L426.8 315.5ZM422.2 316L421.7 310.9L426.8 315.5ZM416.8 314.4L422.2 316L418.9 318.3ZM421.7 310.9L422.2 316L416.8 314.4ZM436.6 317.6L442.6 321.1L436.9 324.1ZM403.9 265.4L408 265.8L404.1 269.4ZM407.8 261.6L403.9 265.4L403.7 261.4ZM408 265.8L403.9 265.4L407.8 261.6ZM411.6 240.2L416.2 244.7L410.4 245.6ZM409.8 233.4L411.6 240.2L405.3 237.6ZM405.3 237.6L411.6 240.2L404.5 241.5ZM431.9 271.9L434.3 274.9L428.5 274.6ZM431.9 271.9L434 268.4L434.3 274.9ZM425.3 269.1L431.9 271.9L428.5 274.6ZM434.3 274.9L440 274.9L435.8 278.8ZM417.9 309.2L419.3 304.3L422 307ZM419.3 304.3L424.6 302.1L422 307ZM420.3 321.8L416 323.9L414.7 320.1ZM420.3 321.8L414.7 320.1L418.9 318.3ZM422.2 316L420.3 321.8L418.9 318.3ZM420.3 321.8L422.2 316L424.9 320.2ZM416 323.9L420.3 321.8L417.2 327.7ZM430.8 318.9L433.2 322.7L428.7 322.5ZM433.2 322.7L436.6 317.6L436.9 324.1ZM444.3 316.7L450 313.9L448.6 317.5ZM434 268.4L439.7 271L434.3 274.9ZM439.7 271L440 274.9L434.3 274.9ZM423.2 278.9L417.4 279.5L418.7 275.6ZM414.5 303.6L417.9 309.2L411.2 308.6ZM414.5 303.6L419.3 304.3L417.9 309.2ZM420.3 321.8L422.8 324.6L417.2 327.7ZM422.8 324.6L424.9 320.2L428.7 322.5ZM422.8 324.6L420.3 321.8L424.9 320.2ZM424.6 302.1L425.6 305.9L422 307ZM425.6 305.9L421.7 310.9L422 307ZM425.6 305.9L428.5 310L421.7 310.9ZM411.6 240.2L415.6 238.6L416.2 244.7ZM415.6 238.6L420.1 238L416.2 244.7ZM415.6 238.6L411.6 240.2L409.8 233.4ZM424.2 275.2L423.2 278.9L418.7 275.6ZM424.2 275.2L418.7 275.6L419.3 270.2ZM424.2 275.2L425.3 269.1L428.5 274.6ZM427.6 279.4L424.2 275.2L428.5 274.6ZM410.2 304.8L414.5 303.6L411.2 308.6ZM414.5 303.6L410.2 304.8L409.2 300.9ZM414.5 303.6L417.4 300.8L419.3 304.3ZM417.4 300.8L414.5 303.6L412.8 298.7ZM420.1 238L417.5 231.2L423.7 233.9ZM415.6 238.6L417.5 231.2L420.1 238ZM421.5 298.7L424.6 302.1L419.3 304.3ZM417.4 300.8L421.5 298.7L419.3 304.3ZM444.9 293.1L441 297.6L438.2 290.7ZM442.9 288.4L444.9 293.1L438.2 290.7ZM444.9 293.1L444.7 299.5L441 297.6ZM413.7 232.3L415.6 238.6L409.8 233.4ZM413.7 232.3L417.5 231.2L415.6 238.6ZM417.5 231.2L421.4 230.1L423.7 233.9ZM405.4 281.3L406.7 289.2L404.7 277.4ZM406.7 289.2L407.4 293.1L404.7 277.4ZM406.7 289.2L405.4 281.3L406 285.2Z"/><path fill="#0030b4" d="M421.4 262.9L425.3 269.1L419.3 270.2ZM420.7 252.7L415.8 252.3L418.1 248.3ZM413.6 255.4L415.8 252.3L418.7 257ZM415.8 252.3L420.7 252.7L418.7 257ZM408.7 274L404.1 269.4L409.7 269.2ZM412.9 265L415.7 268.7L409.7 269.2ZM436.1 332.2L439.9 336.9L436.1 338ZM408 265.8L412.9 265L409.7 269.2ZM421.4 262.9L416.5 260.1L418.7 257ZM410.5 258.9L416.5 260.1L412.9 265ZM416.5 260.1L413.6 255.4L418.7 257ZM421.3 246.3L420.7 252.7L418.1 248.3ZM416.2 244.7L421.3 246.3L418.1 248.3ZM434 268.4L430.3 265.7L435.1 263.8ZM414.4 272.7L408.7 274L409.7 269.2ZM415.7 268.7L414.4 272.7L409.7 269.2ZM414.4 272.7L415.7 268.7L419.3 270.2ZM417.7 263.7L416.5 260.1L421.4 262.9ZM416.5 260.1L417.7 263.7L412.9 265ZM417.7 263.7L415.7 268.7L412.9 265ZM417.7 263.7L421.4 262.9L419.3 270.2ZM415.7 268.7L417.7 263.7L419.3 270.2ZM427.3 263.1L430.3 265.7L425.3 269.1ZM431.9 271.9L430.3 265.7L434 268.4ZM430.3 265.7L431.9 271.9L425.3 269.1ZM432.2 339.1L433.4 335.3L436.1 338ZM433.4 327.1L433.2 322.7L436.9 324.1ZM433.2 322.7L433.4 327.1L428.7 322.5ZM425.2 229L427.4 232.9L423.7 233.9ZM422.8 324.6L423.2 331.4L417.2 327.7ZM433.4 327.1L427.8 329.1L428.7 322.5ZM427.8 329.1L422.8 324.6L428.7 322.5ZM422.3 242.6L421.3 246.3L416.2 244.7ZM420.1 238L422.3 242.6L416.2 244.7ZM421.3 246.3L422.3 242.6L425.1 246.4ZM425.3 269.1L424.2 275.2L419.3 270.2ZM427.4 232.9L428.3 236.6L423.7 233.9ZM424.4 238.3L422.3 242.6L420.1 238ZM424.4 238.3L420.1 238L423.7 233.9ZM428.3 236.6L424.4 238.3L423.7 233.9ZM421.4 230.1L425.2 229L423.7 233.9ZM428.4 340.2L497.5 320.4L424.5 341.3Z"/><path fill="#0030d8" d="M535.5 203.7L532.9 199.1L537 199ZM540.9 200.4L535.5 203.7L537 199ZM540.8 204.8L540.9 200.4L544.9 202.3ZM545.6 302.2L550.2 299.1L551.3 305ZM550.2 299.1L545.6 302.2L545.7 297.4ZM534.9 233L529.2 234.9L528 230.1ZM448.5 227.3L453 231.4L448.2 231.9ZM547.4 306.1L545.6 302.2L551.3 305ZM550.2 299.1L553.6 296.1L556.7 299.6ZM534.9 233L533.9 228.6L538.3 227.7ZM533.9 228.6L534.9 233L528 230.1ZM463.2 222.7L457.7 226.3L459.8 219.2ZM452.2 226.9L453 231.4L448.5 227.3ZM452.2 226.9L457.7 226.3L457.4 230.3ZM543.6 307.2L539.7 308.3L540.6 304.3ZM545.6 302.2L543.6 307.2L540.6 304.3ZM547.4 306.1L543.6 307.2L545.6 302.2ZM444.2 230L448.5 227.3L448.2 231.9ZM541.3 282L543.6 278.7L546.5 281.2ZM546.4 285L541.3 282L546.5 281.2ZM467.2 220.8L463.6 218.1L467.5 217ZM463.6 218.1L467.2 220.8L463.2 222.7ZM529.2 234.9L522.7 233L528 230.1ZM524.4 312.7L523.5 306.4L528.2 311.6ZM516.7 314.9L519.3 309.5L520.5 313.8ZM519.3 309.5L524.4 312.7L520.5 313.8ZM549.1 294.4L553.6 296.1L550.2 299.1ZM549.1 294.4L552.4 292.2L553.6 296.1ZM549.1 294.4L550.2 299.1L545.7 297.4ZM547.1 291.2L549.1 294.4L545.7 297.4ZM552.4 292.2L549.1 294.4L547.1 291.2ZM550.1 285.8L552.4 292.2L547.1 291.2ZM546.4 285L550.1 285.8L547.1 291.2ZM550.1 285.8L546.4 285L546.5 281.2ZM546.4 285L542 288L541.3 282ZM542 288L547.1 291.2L539.8 291.4ZM542 288L546.4 285L547.1 291.2ZM536.7 224.2L541.7 224.7L538.3 227.7ZM533.9 228.6L536.7 224.2L538.3 227.7ZM490.6 242.2L495.6 240.4L494.1 243.9ZM490.3 246.5L490.6 242.2L494.1 243.9ZM490.6 242.2L490.3 246.5L485.9 243ZM522.7 233L519.8 237.5L518.2 231.9ZM519.8 237.5L516.1 235.5L518.2 231.9ZM539.7 308.3L535.7 304.3L540.6 304.3ZM523.5 306.4L528.1 306.1L528.2 311.6ZM528.1 306.1L535.7 304.3L532.1 310.5ZM537.8 279.5L543.6 278.7L541.3 282ZM457.2 246.7L461.1 243.5L461.4 250.2ZM458.2 252.9L457.2 246.7L461.4 250.2ZM457.2 246.7L458.2 252.9L453 250.5ZM530.8 250L534.5 248.8L533.3 255.8ZM506.8 239.4L502 237.5L503.2 233.5ZM508.5 232.3L512.3 236.3L506.8 239.4ZM497.3 269.8L494 264.5L499.7 266.7ZM497.3 269.8L489.5 267.7L494 264.5ZM489.5 267.7L497.3 269.8L492.4 272.5ZM473.9 246.2L477.9 245L476.3 249.4ZM481.5 246.1L485.9 243L486.3 250.5ZM477.9 245L481.5 246.1L476.3 249.4ZM502 237.5L503.4 241.5L495.6 240.4ZM512.3 236.3L512.7 232.2L516.1 235.5ZM497.3 269.8L496.4 273.8L492.4 272.5ZM489.5 267.7L488.1 271.5L485.1 268.4ZM488.1 271.5L489.5 267.7L492.4 272.5ZM492.2 276.5L488.1 271.5L492.4 272.5ZM489.5 267.7L489.4 262.2L494 264.5ZM489.4 262.2L489.5 267.7L485.1 268.4ZM458.2 252.9L451.2 256.5L453 250.5ZM532.1 310.5L497.5 320.4L528.2 311.6ZM524.4 312.7L497.5 320.4L520.5 313.8ZM497.5 320.4L524.4 312.7L528.2 311.6Z"/><path fill="#0048b4" d="M420.6 334.9L423.2 331.4L425 335.2ZM425 335.2L423.2 331.4L428.8 334.3ZM451.4 333.6L446.2 330.2L449.2 327.8ZM452.7 329.7L451.4 333.6L449.2 327.8ZM433.4 259.2L428.7 258.4L431 254ZM436.1 332.2L438.3 327.9L442 329.6ZM433.4 327.1L438.3 327.9L436.1 332.2ZM430.3 247.3L428.4 250.7L425.1 246.4ZM428.4 250.7L433.9 250.8L431 254ZM433.9 250.8L428.4 250.7L430.3 247.3ZM438.3 327.9L443.8 325L442 329.6ZM443.8 325L446.2 330.2L442 329.6ZM432.1 331.8L433.4 327.1L436.1 332.2ZM432.1 331.8L433.4 335.3L428.8 334.3ZM433.4 335.3L432.1 331.8L436.1 332.2ZM428.4 250.7L426.9 255L424.4 250.2ZM428.7 258.4L426.9 255L431 254ZM426.9 255L428.4 250.7L431 254ZM432.1 331.8L427.8 329.1L433.4 327.1ZM423.2 331.4L427.8 329.1L428.8 334.3ZM427.8 329.1L432.1 331.8L428.8 334.3ZM426.7 242.2L430.8 242.3L430.3 247.3Z"/><path fill="#0060c0" d="M459.7 323.4L463.4 326.4L459.7 327.4ZM455 325.9L459.7 323.4L459.7 327.4ZM456.4 320.2L459.7 323.4L455 325.9ZM449.9 322.8L456.4 320.2L455 325.9ZM456.4 320.2L460 319.1L459.7 323.4Z"/><path fill="#0054b4" d="M455 325.9L452.7 329.7L449.2 327.8ZM449.9 322.8L455 325.9L449.2 327.8ZM446.2 330.2L443.8 325L449.2 327.8ZM443.8 325L449.9 322.8L449.2 327.8Z"/><path fill="#0024d8" d="M533.3 255.8L528 260.6L529.2 255.4ZM528 260.6L523 254.7L529.2 255.4ZM448.5 227.3L444.4 223.6L448.3 222.5ZM530.8 250L533.3 255.8L529.2 255.4ZM533.3 255.8L534.2 261.6L528 260.6ZM457.7 226.3L456 220.3L459.8 219.2ZM457.7 226.3L452.1 221.4L456 220.3ZM550.2 299.1L554.3 302.8L551.3 305ZM554.3 302.8L550.2 299.1L556.7 299.6ZM549.8 278.6L554.5 276L553.6 279.8ZM540.7 233.6L534.9 233L538.3 227.7ZM540.7 233.6L535 237.4L534.9 233ZM519.1 254.3L517 259.6L515 256.3ZM523 254.7L526.8 249.2L529.2 255.4ZM457.7 226.3L452.2 226.9L452.1 221.4ZM452.2 226.9L448.5 227.3L448.3 222.5ZM452.1 221.4L452.2 226.9L448.3 222.5ZM553.6 296.1L552.4 292.2L556.7 290.5ZM552.3 270.2L547.6 275.5L546.8 270.7ZM546.8 270.7L547.6 275.5L543.8 274.8ZM549.8 278.6L547.6 275.5L554.5 276ZM547.6 275.5L552.3 270.2L554.5 276ZM547.6 275.5L543.6 278.7L543.8 274.8ZM547.6 275.5L549.8 278.6L546.5 281.2ZM543.6 278.7L547.6 275.5L546.5 281.2ZM535 237.4L541.6 237.9L538.5 240.3ZM541.6 237.9L535 237.4L540.7 233.6ZM463.6 218.1L463.2 222.7L459.8 219.2ZM495.6 240.4L499.9 244.9L494.1 243.9ZM494 264.5L497.3 260.6L499.7 266.7ZM459.4 282.7L463.4 276.4L465.2 281.4ZM537.9 254.3L540.8 250.2L544.3 255.1ZM552.4 292.2L550.1 285.8L556.2 286.4ZM556.2 286.4L550.1 285.8L553.6 279.8ZM550.1 285.8L549.8 278.6L553.6 279.8ZM549.8 278.6L550.1 285.8L546.5 281.2ZM500.8 263.1L497.3 260.6L504.3 258.7ZM497.3 260.6L500.8 263.1L499.7 266.7ZM500.8 263.1L504 265.8L499.7 266.7ZM528.1 306.1L532.1 310.5L528.2 311.6ZM537.7 259.1L534.2 261.6L533.3 255.8ZM537.9 254.3L537.7 259.1L533.3 255.8ZM522.8 260.9L523 254.7L528 260.6ZM522.8 260.9L519.1 254.3L523 254.7ZM519.1 254.3L522.8 260.9L517 259.6ZM494 264.5L492 259.2L497.3 260.6ZM470 278.7L469.5 283.3L465.2 281.4ZM458.2 252.9L461.9 254L457.4 257.4ZM461.9 254L458.2 252.9L461.4 250.2ZM541.8 242.5L539 246.1L538.5 240.3ZM541.6 237.9L541.8 242.5L538.5 240.3ZM541.8 242.5L541.6 237.9L545.8 241.1ZM539 246.1L543 246.3L540.8 250.2ZM541.8 242.5L543 246.3L539 246.1ZM543 246.3L541.8 242.5L545.8 241.1ZM537.9 254.3L534.5 248.8L540.8 250.2ZM534.5 248.8L537.9 254.3L533.3 255.8ZM535.9 309.4L535.7 304.3L539.7 308.3ZM535.7 304.3L535.9 309.4L532.1 310.5ZM543.6 278.7L539.1 274.9L543.8 274.8ZM537.8 279.5L539.1 274.9L543.6 278.7ZM534.2 261.6L528.3 266L528 260.6ZM512.3 236.3L516.1 235.5L514.1 239.8ZM506.8 239.4L512.3 236.3L514.1 239.8ZM465.8 286.2L461.3 287L465.2 281.4ZM479.1 270.9L482.7 275.8L478 275.1ZM471.7 252.8L473.9 246.2L476.3 249.4ZM464.7 292.5L465.8 286.2L467.5 289.7ZM465.8 286.2L464.7 292.5L461.3 287ZM507.1 272L503.3 270.8L504 265.8ZM504 265.8L503.3 270.8L499.7 266.7ZM503.3 270.8L497.3 269.8L499.7 266.7ZM497.3 269.8L503.3 270.8L501.7 274.7ZM503.4 241.5L502 237.5L506.8 239.4ZM503.4 241.5L499.9 244.9L495.6 240.4ZM541.7 271.4L536.7 268.9L542.4 266ZM541.7 271.4L539.1 274.9L536.7 268.9ZM539.1 274.9L541.7 271.4L543.8 274.8ZM546.8 270.7L541.7 271.4L542.4 266ZM541.7 271.4L546.8 270.7L543.8 274.8ZM482.7 275.8L488.1 271.5L487.3 277.9ZM488.1 271.5L492.2 276.5L487.3 277.9ZM479.1 270.9L483 271.6L482.7 275.8ZM488.1 271.5L483 271.6L485.1 268.4ZM483 271.6L488.1 271.5L482.7 275.8ZM483 271.6L480.5 265L485.1 268.4ZM483 271.6L479.1 270.9L480.5 265ZM508.7 259L507.6 263.6L504.3 258.7ZM507.6 263.6L500.8 263.1L504.3 258.7ZM500.8 263.1L507.6 263.6L504 265.8ZM451.2 256.5L458.2 252.9L457.4 257.4ZM468.9 308.7L473.3 306L473.2 311ZM480.5 265L482.7 261.9L485.1 268.4ZM482.7 261.9L489.4 262.2L485.1 268.4ZM497.5 320.4L547.4 306.1L551.3 305ZM497.5 320.4L535.9 309.4L539.7 308.3ZM543.6 307.2L497.5 320.4L539.7 308.3ZM497.5 320.4L543.6 307.2L547.4 306.1ZM535.9 309.4L497.5 320.4L532.1 310.5Z"/><path fill="#003cd8" d="M540.8 204.8L535.5 203.7L540.9 200.4ZM527.6 205.5L525.1 200.6L529 199.5ZM540.8 204.8L537.8 208.3L535.5 203.7ZM505.9 206.1L504.9 210.1L502.1 207.2ZM541.9 299L545.6 302.2L540.6 304.3ZM545.6 302.2L541.9 299L545.7 297.4ZM531.2 224.9L533.9 228.6L528 230.1ZM532.9 199.1L531.2 204L529 199.5ZM535.5 203.7L531.2 204L532.9 199.1ZM545.6 210.5L541.2 210.3L540.8 204.8ZM541.2 210.3L537.8 208.3L540.8 204.8ZM477.5 218.3L475.2 214.8L479 213.7ZM491 214.6L490.5 210.4L494.4 209.3ZM490.5 210.4L491 214.6L486.7 211.5ZM453 231.4L452.2 226.9L457.4 230.3ZM457.7 226.3L462.5 230.3L457.4 230.3ZM541.5 295.1L547.1 291.2L545.7 297.4ZM473.1 219.8L471.3 215.9L475.2 214.8ZM471.3 215.9L473.1 219.8L467.5 217ZM473.1 219.8L467.2 220.8L467.5 217ZM519.4 227.4L522.7 233L518.2 231.9ZM522.7 233L524.6 225.2L528 230.1ZM463.2 222.7L465.3 225.8L457.7 226.3ZM467.2 220.8L465.3 225.8L463.2 222.7ZM524.4 312.7L519.3 309.5L523.5 306.4ZM513.2 312L516.7 314.9L512.9 316ZM509 317.1L513.2 312L512.9 316ZM513.2 312L519.3 309.5L516.7 314.9ZM539.5 220.8L536.7 224.2L534.5 219.4ZM534.5 219.4L536.7 224.2L531.2 224.9ZM536.7 224.2L533.9 228.6L531.2 224.9ZM486.3 215.4L482.8 212.6L486.7 211.5ZM528.8 301.6L528.1 306.1L523.5 306.4ZM508.5 232.3L506.8 239.4L503.2 233.5ZM453 231.4L451.8 235.2L448.2 231.9ZM451.8 235.2L447.3 237.3L448.2 231.9ZM457.2 246.7L450.5 247L453 241.8ZM450.5 247L457.2 246.7L453 250.5ZM495.6 240.4L491.7 238.4L496.7 235.8ZM490.6 242.2L491.7 238.4L495.6 240.4ZM502 237.5L495.6 240.4L496.7 235.8ZM502 237.5L496.7 235.8L503.2 233.5ZM538.5 301.1L541.9 299L540.6 304.3ZM535.7 304.3L538.5 301.1L540.6 304.3ZM528.1 306.1L532.7 302L535.7 304.3ZM532.7 302L538.5 301.1L535.7 304.3ZM498.2 208.2L497.4 212.6L494.4 209.3ZM473.9 246.2L470.1 246.4L472 242.6ZM477.9 245L473.9 246.2L472 242.6ZM512.7 232.2L512.3 236.3L508.5 232.3ZM516.1 235.5L512.7 232.2L518.2 231.9ZM501.2 213.1L498.2 208.2L502.1 207.2ZM481.3 241L481.5 246.1L477.9 245ZM481.5 246.1L481.3 241L485.9 243ZM470.8 314L468.9 308.7L473.2 311ZM470.6 328.1L497.5 320.4L466.8 329.2ZM497.5 320.4L489.8 322.6L493.7 321.5ZM497.5 320.4L516.7 314.9L520.5 313.8ZM509 317.1L497.5 320.4L505.2 318.2ZM497.5 320.4L470.6 328.1L474.5 327ZM497.5 320.4L509 317.1L512.9 316ZM516.7 314.9L497.5 320.4L512.9 316ZM497.5 320.4L501.3 319.3L505.2 318.2Z"/><path fill="#006ccc" d="M463.4 326.4L464 319.5L467.1 323.4ZM464 319.5L468.2 318.9L467.1 323.4ZM468.2 318.9L473.5 322.5L467.1 323.4ZM470.8 314L472.3 318.8L468.2 318.9Z"/><path fill="#006cc0" d="M459.7 323.4L464 319.5L463.4 326.4ZM460 319.1L464 319.5L459.7 323.4Z"/><path fill="#0024c0" d="M452 303.8L446.3 304.6L448.5 298.6ZM446.3 304.6L444.7 299.5L448.5 298.6ZM450 313.9L453.8 317.1L448.6 317.5ZM440 274.9L439.7 271L443.2 272.7ZM450 313.9L457.1 312.1L453.8 317.1ZM457.1 312.1L450 313.9L454.2 308ZM442.9 288.4L446.8 283.1L448 287.6ZM457.4 300.2L456.9 304.8L452 303.8ZM439.7 271L445.8 268.1L443.2 272.7ZM440.1 266L445.8 268.1L439.7 271ZM444.7 299.5L444.9 293.1L448.5 298.6ZM444.9 293.1L442.9 288.4L448 287.6ZM440.9 284.2L446.8 283.1L442.9 288.4ZM451.7 283.5L446.8 283.1L451.6 278.8ZM446.8 283.1L451.7 283.5L448 287.6ZM451.7 283.5L452.2 290L448 287.6ZM446.8 283.1L446.3 278.2L451.6 278.8ZM446.3 278.2L440 274.9L443.2 272.7ZM446.3 278.2L439.8 279.2L440 274.9ZM460.6 307.4L457.1 312.1L454.2 308ZM445.8 268.1L447.7 272L443.2 272.7ZM447.7 272L446.3 278.2L443.2 272.7ZM446.3 278.2L447.7 272L451.8 273.1ZM452.2 290L448.7 294L448 287.6ZM448.7 294L444.9 293.1L448 287.6ZM444.9 293.1L448.7 294L448.5 298.6ZM446.3 278.2L443.5 281L439.8 279.2ZM443.5 281L446.3 278.2L446.8 283.1ZM440.9 284.2L443.5 281L446.8 283.1ZM452.1 299.8L452 303.8L448.5 298.6ZM448.7 294L452.1 299.8L448.5 298.6ZM452.1 299.8L448.7 294L455.5 296.7ZM452.1 299.8L457.4 300.2L452 303.8ZM452.1 299.8L455.5 296.7L457.4 300.2ZM455.2 292.6L448.7 294L452.2 290ZM448.7 294L455.2 292.6L455.5 296.7Z"/><path fill="#0018c0" d="M446.3 304.6L452 303.8L450 308.3ZM452 303.8L454.2 308L450 308.3ZM454.2 308L450 313.9L450 308.3ZM456.9 304.8L454.2 308L452 303.8ZM456.9 304.8L460.6 307.4L454.2 308ZM443.5 281L440.9 284.2L439.8 279.2Z"/><path fill="#003cc0" d="M434.9 232L440.4 234.6L434.3 238ZM457.1 312.1L462.5 315.7L457.7 316.1ZM431.3 233.6L434.9 232L434.3 238ZM431.3 233.6L432.9 226.8L434.9 232ZM444.3 260.4L438.3 260.3L442.4 254.7ZM433.4 259.2L438.3 260.3L435.1 263.8ZM429.1 227.9L431.3 233.6L427.4 232.9ZM438.3 260.3L440.1 266L435.1 263.8ZM431.3 233.6L428.3 236.6L427.4 232.9ZM430.8 242.3L428.3 236.6L434.3 238ZM428.3 236.6L431.3 233.6L434.3 238ZM497.5 320.4L432.2 339.1L436.1 338ZM439.9 336.9L497.5 320.4L436.1 338Z"/><path fill="#0048d8" d="M521.5 205.5L517.4 202.8L521.3 201.7ZM525.1 200.6L521.5 205.5L521.3 201.7ZM527.6 205.5L521.5 205.5L525.1 200.6ZM453 231.4L457.4 230.3L458.2 234.3ZM534.5 219.4L531.2 224.9L528.7 219.7ZM531.2 204L527.6 205.5L529 199.5ZM482.5 218.4L477.5 218.3L479 213.7ZM517.4 202.8L517.1 208.3L513.6 203.9ZM457.4 230.3L462.5 230.3L458.2 234.3ZM509 317.1L505.2 318.2L506.7 312.6ZM461.4 237.3L457.7 238.7L458.2 234.3ZM533.8 208.5L537.8 208.3L538.1 213.3ZM537.8 208.3L533.8 208.5L535.5 203.7ZM533.8 208.5L531.2 204L535.5 203.7ZM491 214.6L486.3 215.4L486.7 211.5ZM473.1 219.8L475.2 214.8L477.5 218.3ZM467.2 220.8L473.1 219.8L470.1 225.3ZM524.6 225.2L522.7 233L519.4 227.4ZM524.6 225.2L531.2 224.9L528 230.1ZM511.3 208.5L509.7 205L513.6 203.9ZM511.3 208.5L505.9 206.1L509.7 205ZM511.3 208.5L504.9 210.1L505.9 206.1ZM465.3 225.8L462.5 230.3L457.7 226.3ZM465.3 225.8L467.2 220.8L470.1 225.3ZM519.3 309.5L515.8 307.8L520.4 303.9ZM523.5 306.4L519.3 309.5L520.4 303.9ZM519.3 309.5L513.2 312L515.8 307.8ZM461.1 243.5L457.7 238.7L461.4 237.3ZM482.8 212.6L482.5 218.4L479 213.7ZM482.8 212.6L486.3 215.4L482.5 218.4ZM485.8 238L490.6 242.2L485.9 243ZM505.1 229.2L508.5 232.3L503.2 233.5ZM531.2 204L529.9 208.6L527.6 205.5ZM533.8 208.5L529.9 208.6L531.2 204ZM533.3 212.9L537.8 217.2L534.5 219.4ZM465.5 237.5L461.1 243.5L461.4 237.3ZM447.3 237.3L451.8 235.2L453 241.8ZM451.8 235.2L457.7 238.7L453 241.8ZM451.8 235.2L453 231.4L458.2 234.3ZM457.7 238.7L451.8 235.2L458.2 234.3ZM457.7 238.7L457.2 246.7L453 241.8ZM461.1 243.5L457.2 246.7L457.7 238.7ZM491.7 238.4L490.6 242.2L485.8 238ZM515.2 229.4L519.4 227.4L518.2 231.9ZM497.4 212.6L491 214.6L494.4 209.3ZM497.5 315.4L497.5 320.4L493.7 321.5ZM497.5 320.4L497.5 315.4L501.3 319.3ZM478.3 325.9L479.1 321.8L482.1 324.8ZM477.7 237.7L477.9 245L472 242.6ZM512.7 232.2L515.2 229.4L518.2 231.9ZM501.2 213.1L497.4 212.6L498.2 208.2ZM504.9 210.1L501.2 213.1L502.1 207.2ZM477.7 237.7L481.3 241L477.9 245ZM481.3 241L485.8 238L485.9 243ZM497.5 320.4L462.9 330.3L466.8 329.2Z"/><path fill="#0054d8" d="M526 209.9L521.5 205.5L527.6 205.5ZM521.5 205.5L517.1 208.3L517.4 202.8ZM462.5 230.3L464.7 233.4L458.2 234.3ZM464.7 233.4L461.4 237.3L458.2 234.3ZM473.5 322.5L478.3 325.9L474.5 327ZM479 222L473.1 219.8L477.5 218.3ZM528.1 215.3L534.5 219.4L528.7 219.7ZM531.2 224.9L524.6 225.2L528.7 219.7ZM517.1 208.3L511.3 208.5L513.6 203.9ZM511.3 208.5L508.8 212L504.9 210.1ZM501.3 319.3L501.5 313.9L505.2 318.2ZM513.2 312L509.9 310.1L515.8 307.8ZM513.2 312L509 317.1L506.7 312.6ZM521.5 222.7L524.6 225.2L519.4 227.4ZM529.9 208.6L526 209.9L527.6 205.5ZM528.1 215.3L533.3 212.9L534.5 219.4ZM533.3 212.9L529.9 208.6L533.8 208.5ZM490.7 318.5L497.5 315.4L493.7 321.5ZM462.5 230.3L468.5 229.9L464.7 233.4ZM465.3 225.8L468.5 229.9L462.5 230.3ZM468.5 229.9L465.3 225.8L470.1 225.3ZM472 242.6L467.8 240.6L472.7 238.6ZM467.8 240.6L469.1 235.9L472.7 238.6ZM465.5 237.5L461.4 237.3L464.7 233.4ZM467.8 240.6L465.5 237.5L469.1 235.9ZM499.8 231.2L505.1 229.2L503.2 233.5ZM496.7 235.8L499.8 231.2L503.2 233.5ZM490.8 218.4L486.3 215.4L491 214.6ZM515.2 229.4L515.9 225.4L519.4 227.4ZM479.1 321.8L482.9 320.5L482.1 324.8ZM479.1 321.8L478.3 325.9L473.5 322.5ZM477.7 237.7L472 242.6L472.7 238.6ZM491.7 238.4L492.4 231.7L496.7 235.8ZM512.7 232.2L508.5 232.3L509.8 225.3ZM515.2 229.4L512.7 232.2L509.8 225.3ZM497.4 212.6L495.4 216.3L491 214.6ZM501.2 213.1L495.4 216.3L497.4 212.6ZM474.7 315.8L470.8 314L473.2 311ZM504.9 214.3L501.2 213.1L504.9 210.1Z"/><path fill="#001878" d="M464.5 245L466.6 248.4L461.4 250.2ZM466.6 248.4L467.9 252.4L461.4 250.2ZM461.1 243.5L464.5 245L461.4 250.2ZM541.7 224.7L539.5 220.8L544 219.9ZM541.7 224.7L536.7 224.2L539.5 220.8ZM544 219.9L537.8 217.2L542.7 214.4ZM539.5 220.8L537.8 217.2L544 219.9ZM544.9 232.6L541.6 237.9L540.7 233.6ZM544.9 232.6L549.3 235.8L541.6 237.9ZM470.1 246.4L467.9 252.4L466.6 248.4ZM470.1 246.4L466.6 248.4L464.5 245ZM544.6 228.2L540.7 233.6L538.3 227.7ZM544.6 228.2L544.9 232.6L540.7 233.6ZM541.7 224.7L544.6 228.2L538.3 227.7ZM482.7 275.8L478.4 280.9L478 275.1ZM473.9 246.2L471.7 252.8L470.1 246.4ZM548.4 225.6L541.7 224.7L544 219.9ZM548.4 225.6L544.6 228.2L541.7 224.7Z"/><path fill="#000cb4" d="M440.3 315.3L435.9 312.5L440.2 311.5Z"/><path fill="#0048cc" d="M438.7 238.6L440.4 234.6L443.2 237.6ZM442.4 241.9L438.7 238.6L443.2 237.6ZM447 242.3L442.4 241.9L443.2 237.6ZM447.3 237.3L443.2 237.6L448.2 231.9ZM447.3 237.3L447 242.3L443.2 237.6ZM447 242.3L447.3 237.3L453 241.8ZM447 242.3L445.1 245.9L442.4 241.9ZM445.1 245.9L443.7 249.9L438.7 247.5ZM442.4 241.9L445.1 245.9L438.7 247.5ZM450.5 247L447 242.3L453 241.8ZM450.5 247L445.1 245.9L447 242.3ZM445.1 245.9L448.7 250.8L443.7 249.9ZM450.5 247L448.7 250.8L445.1 245.9ZM448.7 250.8L442.4 254.7L443.7 249.9ZM497.5 320.4L455.3 332.5L459.1 331.4ZM462.9 330.3L497.5 320.4L459.1 331.4ZM497.5 320.4L447.6 334.7L451.4 333.6ZM455.3 332.5L497.5 320.4L451.4 333.6Z"/><path fill="#0018d8" d="M550.3 265.5L552.3 270.2L546.8 270.7ZM546.1 266.2L546.8 270.7L542.4 266ZM546.1 266.2L550.3 265.5L546.8 270.7ZM547.6 259.4L541.5 260.1L544.3 255.1ZM538.5 265.4L541.5 260.1L542.4 266ZM463.4 276.4L470 278.7L465.2 281.4ZM470 278.7L463.4 276.4L466.4 273.5ZM463.4 276.4L461 270.1L466.4 273.5ZM541.5 260.1L537.9 254.3L544.3 255.1ZM540.8 250.2L547.1 247.7L544.3 255.1ZM547.6 259.4L544.6 262.7L541.5 260.1ZM541.5 260.1L544.6 262.7L542.4 266ZM544.6 262.7L546.1 266.2L542.4 266ZM546.1 266.2L544.6 262.7L550.3 265.5ZM544.6 262.7L547.6 259.4L550.3 265.5ZM537.7 259.1L538.5 265.4L534.2 261.6ZM538.5 265.4L537.7 259.1L541.5 260.1ZM537.7 259.1L537.9 254.3L541.5 260.1ZM536.7 268.9L538.5 265.4L542.4 266ZM536.7 268.9L533.2 266.8L538.5 265.4ZM460.9 262L457.4 257.4L463.1 258.9ZM463.4 276.4L459.3 274.7L461 270.1ZM459.3 274.7L463.4 276.4L457.8 279.1ZM457.4 257.4L461.9 254L463.1 258.9ZM543 246.3L547.1 247.7L540.8 250.2ZM528.3 266L522.8 260.9L528 260.6ZM522.8 260.9L528.3 266L523.5 267.9ZM480.5 265L479.1 270.9L475.4 266.7ZM519.4 265.2L522.8 260.9L523.5 267.9ZM522.8 260.9L519.4 265.2L517 259.6ZM519.4 265.2L514.3 265.5L517 259.6ZM514.3 265.5L512.9 260.8L517 259.6ZM517 259.6L512.9 260.8L515 256.3ZM512.9 260.8L511.4 255L515 256.3ZM511.4 255L512.9 260.8L508.7 259ZM509.8 266.6L507.1 272L504 265.8ZM509.8 266.6L512.9 260.8L514.3 265.5ZM461 270.1L464.8 269.6L466.4 273.5ZM464.8 269.6L468.4 268L466.4 273.5ZM462.2 265.9L464.8 269.6L461 270.1ZM519.4 265.2L515.3 270.3L514.3 265.5ZM515.3 270.3L509.8 266.6L514.3 265.5ZM512.9 260.8L507.6 263.6L508.7 259ZM509.8 266.6L507.6 263.6L512.9 260.8ZM507.6 263.6L509.8 266.6L504 265.8ZM462.2 265.9L457.3 267.7L460.9 262ZM457.3 267.7L462.2 265.9L461 270.1ZM460.9 262L455.7 262.9L457.4 257.4ZM455.7 262.9L453.4 259.9L457.4 257.4ZM457.3 267.7L455.7 262.9L460.9 262ZM468.7 303.8L467.7 298.3L474.6 298.7ZM473.3 306L468.9 308.7L468.7 303.8ZM470.2 295.2L464.7 292.5L467.5 289.7ZM464.7 292.5L470.2 295.2L464.1 297ZM470.2 295.2L467.7 298.3L464.1 297Z"/><path fill="#000c78" d="M531.4 241L535.2 242.9L529.1 245.4ZM535.2 242.9L535 237.4L538.5 240.3ZM535 237.4L535.2 242.9L531.4 241ZM535 237.4L531.4 241L529.2 234.9ZM534.9 233L535 237.4L529.2 234.9ZM530.8 250L526.8 249.2L529.1 245.4ZM526.8 249.2L530.8 250L529.2 255.4ZM541.6 237.9L549.3 235.8L545.8 241.1ZM485.9 243L490.3 246.5L486.3 250.5ZM497.3 260.6L498.2 256.5L504.3 258.7ZM507.5 254.5L508.7 259L504.3 258.7ZM519.1 254.3L521.7 250.8L523 254.7ZM521.7 250.8L519.1 254.3L519 247.6ZM521.7 250.8L526.8 249.2L523 254.7ZM526.4 242.4L531.4 241L529.1 245.4ZM479.1 256.1L475.1 255.4L476.3 249.4ZM481.9 251.5L479.1 256.1L476.3 249.4ZM544.3 255.1L547.1 247.7L548.9 251.4ZM539 246.1L535.2 242.9L538.5 240.3ZM552.3 255.2L544.3 255.1L548.9 251.4ZM552.3 255.2L547.6 259.4L544.3 255.1ZM490.3 246.5L489.8 252.3L486.3 250.5ZM498.2 256.5L501.8 253.6L504.3 258.7ZM501.8 253.6L507.5 254.5L504.3 258.7ZM501.8 253.6L498.2 256.5L494 253ZM507.5 254.5L511.4 255L508.7 259ZM509 242.9L506.8 239.4L514.1 239.8ZM516.1 235.5L519.8 237.5L514.1 239.8ZM519.8 237.5L522.7 233L523.4 240.1ZM516.4 244.7L519.9 242.3L519 247.6ZM519.9 242.3L519.8 237.5L523.4 240.1ZM519.9 242.3L516.4 244.7L514.1 239.8ZM519.8 237.5L519.9 242.3L514.1 239.8ZM523.2 246.2L521.7 250.8L519 247.6ZM521.7 250.8L523.2 246.2L526.8 249.2ZM519.9 242.3L523.2 246.2L519 247.6ZM526.8 249.2L523.2 246.2L529.1 245.4ZM523.2 246.2L526.4 242.4L529.1 245.4ZM526.4 242.4L523.2 246.2L523.4 240.1ZM523.2 246.2L519.9 242.3L523.4 240.1ZM527.2 238.5L522.7 233L529.2 234.9ZM522.7 233L527.2 238.5L523.4 240.1ZM527.2 238.5L526.4 242.4L523.4 240.1ZM531.4 241L527.2 238.5L529.2 234.9ZM526.4 242.4L527.2 238.5L531.4 241ZM492 259.2L498.2 256.5L497.3 260.6ZM498.2 256.5L492 259.2L494 253ZM492 259.2L489.8 252.3L494 253ZM470.2 274.4L470 278.7L466.4 273.5ZM475.1 255.4L471.7 252.8L476.3 249.4ZM470.1 246.4L471.7 252.8L467.9 252.4ZM467.9 252.4L461.9 254L461.4 250.2ZM547.1 247.7L543 246.3L545.8 241.1ZM534.5 248.8L539 246.1L540.8 250.2ZM539 246.1L534.5 248.8L535.2 242.9ZM534.5 248.8L530.8 250L529.1 245.4ZM535.2 242.9L534.5 248.8L529.1 245.4ZM551.2 246.8L547.1 247.7L545.8 241.1ZM547.6 259.4L553.7 260L550.3 265.5ZM501.8 253.6L505 251L507.5 254.5ZM499.9 244.9L495.3 248.2L494.1 243.9ZM495.3 248.2L490.3 246.5L494.1 243.9ZM489.8 252.3L495.3 248.2L494 253ZM495.3 248.2L489.8 252.3L490.3 246.5ZM511.4 255L514.4 251.9L515 256.3ZM514.4 251.9L519.1 254.3L515 256.3ZM519.1 254.3L514.4 251.9L519 247.6ZM514.4 251.9L516.4 244.7L519 247.6ZM470.2 274.4L473.7 276.8L470 278.7ZM470 278.7L473.7 276.8L474.3 282.2ZM478.4 280.9L473.7 276.8L478 275.1ZM468.4 268L470.2 274.4L466.4 273.5ZM481.9 251.5L481.5 246.1L486.3 250.5ZM481.5 246.1L481.9 251.5L476.3 249.4ZM499.8 248.8L505 251L501.8 253.6ZM499.8 248.8L495.3 248.2L499.9 244.9ZM499.8 248.8L499.9 244.9L506.2 247ZM505 251L499.8 248.8L506.2 247ZM499.8 248.8L501.8 253.6L494 253ZM495.3 248.2L499.8 248.8L494 253ZM509 242.9L511.8 245.9L506.2 247ZM514.4 251.9L511.8 245.9L516.4 244.7ZM516.4 244.7L511.8 245.9L514.1 239.8ZM511.8 245.9L509 242.9L514.1 239.8ZM509.6 249.2L511.4 255L507.5 254.5ZM509.6 249.2L514.4 251.9L511.4 255ZM509.6 249.2L511.8 245.9L514.4 251.9ZM511.8 245.9L509.6 249.2L506.2 247ZM509.6 249.2L505 251L506.2 247ZM505 251L509.6 249.2L507.5 254.5ZM499.9 244.9L503.4 241.5L506.2 247ZM503.4 241.5L509 242.9L506.2 247ZM509 242.9L503.4 241.5L506.8 239.4ZM492 259.2L486.6 258.3L489.8 252.3ZM489.4 262.2L492 259.2L494 264.5ZM489.4 262.2L486.6 258.3L492 259.2ZM479.1 270.9L473.8 272.2L475.4 266.7ZM473.8 272.2L468.4 268L475.4 266.7ZM468.4 268L473.8 272.2L470.2 274.4ZM473.8 272.2L479.1 270.9L478 275.1ZM473.7 276.8L473.8 272.2L478 275.1ZM473.8 272.2L473.7 276.8L470.2 274.4ZM479.1 256.1L476.9 260.3L475.1 255.4ZM476.9 260.3L480.5 265L475.4 266.7ZM483.3 255.1L479.1 256.1L481.9 251.5ZM483.3 255.1L481.9 251.5L486.3 250.5ZM489.8 252.3L483.3 255.1L486.3 250.5ZM486.6 258.3L483.3 255.1L489.8 252.3ZM476.9 260.3L482.7 261.9L480.5 265ZM489.4 262.2L482.7 261.9L486.6 258.3ZM482.7 261.9L476.9 260.3L479.1 256.1ZM483.3 255.1L482.7 261.9L479.1 256.1ZM482.7 261.9L483.3 255.1L486.6 258.3ZM466 264.3L464.8 269.6L462.2 265.9ZM466 264.3L460.9 262L463.1 258.9Z"/><path fill="#002478" d="M541.2 210.3L545.6 210.5L542.7 214.4ZM541.2 210.3L542.7 214.4L538.1 213.3ZM537.8 208.3L541.2 210.3L538.1 213.3ZM537.8 217.2L539.5 220.8L534.5 219.4ZM542.7 214.4L537.8 217.2L538.1 213.3ZM537.8 217.2L533.3 212.9L538.1 213.3ZM489.8 322.6L490.7 318.5L493.7 321.5ZM489.8 322.6L486 323.7L486.4 318.6ZM482.9 320.5L486 323.7L482.1 324.8ZM486.4 318.6L483.4 315.2L487.1 312.5ZM461.1 243.5L467.8 240.6L464.5 245ZM467.8 240.6L470.1 246.4L464.5 245ZM470.1 246.4L467.8 240.6L472 242.6ZM465.5 237.5L467.8 240.6L461.1 243.5ZM497.5 320.4L551.3 305L424.5 341.3ZM486 323.7L497.5 320.4L482.1 324.8ZM497.5 320.4L478.3 325.9L482.1 324.8ZM478.3 325.9L497.5 320.4L474.5 327ZM497.5 320.4L486 323.7L489.8 322.6Z"/><path fill="#006cd8" d="M484.1 222.9L482.5 218.4L486.8 219.4ZM512.2 215L508.8 212L514.6 211.2ZM479 222L482.5 218.4L484.1 222.9ZM505.8 223.4L505.1 229.2L502.3 225.8ZM505.1 229.2L505.8 223.4L509.8 225.3ZM515.9 225.4L509.8 225.3L513 220ZM485.8 238L482.2 236.2L486.9 232.9ZM521.5 222.7L520.2 215.9L524.3 218.6ZM516.6 214.5L512.2 215L514.6 211.2ZM517.1 208.3L516.6 214.5L514.6 211.2ZM521.6 211.1L516.6 214.5L517.1 208.3ZM497.5 315.4L490.7 318.5L492.5 314.2ZM476.1 225L473.2 228.6L470.1 225.3ZM499.8 231.2L496.4 228.6L502.3 225.8ZM505.1 229.2L499.8 231.2L502.3 225.8ZM505.5 218.4L508.8 212L512.2 215ZM516.9 220.7L521.5 222.7L515.9 225.4ZM521.6 211.1L524.2 214L520.2 215.9ZM524.2 214L528.1 215.3L524.3 218.6ZM520.2 215.9L524.2 214L524.3 218.6ZM528.1 215.3L524.2 214L526 209.9ZM524.2 214L521.6 211.1L526 209.9ZM501.5 313.9L501.6 309.8L506.7 312.6ZM496.6 311.4L497.5 315.4L492.5 314.2ZM497.5 315.4L496.6 311.4L501.5 313.9ZM482.9 320.5L479.1 321.8L477.9 318.1ZM477.9 318.1L479.1 321.8L473.5 322.5ZM468.5 229.9L471.2 232.7L469.1 235.9ZM471.2 232.7L475.2 232.1L472.7 238.6ZM473.2 228.6L471.2 232.7L468.5 229.9ZM475.2 232.1L477.7 237.7L472.7 238.6ZM477.7 237.7L479.3 233.8L482.2 236.2ZM472.3 318.8L477.9 318.1L473.5 322.5ZM492.4 231.7L496.4 228.6L496.7 235.8ZM492.4 231.7L491.7 238.4L486.9 232.9ZM495.4 216.3L500.6 219.3L495.5 220.3ZM495.4 216.3L501.2 213.1L500.6 219.3ZM490.8 218.4L495.4 216.3L495.5 220.3ZM472.3 318.8L474.7 315.8L477.9 318.1ZM501.2 213.1L504.9 214.3L500.6 219.3ZM505.5 218.4L504.9 214.3L508.8 212Z"/><path fill="#00b4e4" d="M510.8 293.7L513.3 298.6L510.4 301ZM499.6 302.4L503.7 306.7L499.5 306.4ZM513.3 298.6L516 302.1L510.4 301ZM499.6 302.4L505.6 302.5L503.7 306.7ZM519.6 296L525.7 295L524.8 299.8ZM516 302.1L519.6 296L520.4 303.9ZM528.3 266L527.7 270.2L523.5 267.9ZM528.3 266L533.2 266.8L532.1 270.6ZM505.6 302.5L506.3 295.8L510.4 301ZM490.9 282.2L492.2 276.5L497.3 278ZM492.2 276.5L490.9 282.2L487.3 277.9ZM535.8 290.4L533.8 294.2L529.8 292.1ZM494.3 303.8L492.5 308L487.7 302.1ZM536 298L530.5 296.4L533.8 294.2ZM533.8 294.2L530.5 296.4L529.8 292.1Z"/><path fill="#00d8e4" d="M523.9 284.7L527.9 288.4L521.9 288.6ZM523.9 284.7L528.1 282.7L527.9 288.4ZM523.5 267.9L524.1 273.4L519.3 273ZM510.7 285.9L517.2 286L515.5 289.8ZM525.7 295L522.6 292.6L527.9 288.4ZM532.6 274.9L531.7 281.3L528.6 275.7ZM537.8 279.5L531.7 281.3L532.6 274.9ZM515.8 274.3L516.1 278.6L511.9 279ZM516.1 278.6L515.8 274.3L519.3 273ZM525.5 278.4L531.7 281.3L528.1 282.7ZM528.1 282.7L532.5 287.2L527.9 288.4ZM490.9 282.2L495.4 284.8L491.9 288.6ZM508.1 288.7L515.5 289.8L510.8 293.7ZM506.3 295.8L500.7 294L504.9 291ZM488.4 297.4L492.6 300.1L487.7 302.1ZM487.4 292.4L488.4 297.4L484 295.3ZM507.1 272L508.2 277.9L504.6 278.9ZM513.9 282.6L521.4 281.1L517.2 286ZM516.1 278.6L513.9 282.6L511.9 279ZM513.9 282.6L510.7 285.9L511.9 279ZM516.1 278.6L522 277L521.4 281.1ZM488.4 297.4L494.1 291.8L492.6 300.1ZM483.5 281.7L485.9 288L480.8 287.1ZM485.9 288L483.5 281.7L487.2 284.5ZM499.9 282.3L495.4 284.8L497.3 278ZM508.1 288.7L506.1 282.9L510.7 285.9ZM506.1 282.9L499.9 282.3L504.6 278.9ZM497.3 289.4L499.9 282.3L501.2 290Z"/><path fill="#0078d8" d="M509.8 225.3L509.3 221.1L513 220ZM509.3 221.1L512.2 215L513 220ZM476.1 225L479 222L482.2 226.7ZM479 222L484.1 222.9L482.2 226.7ZM509.8 225.3L505.8 223.4L509.3 221.1ZM498.2 224.7L496.4 228.6L494 224.3ZM496.4 228.6L498.2 224.7L502.3 225.8ZM488.9 223.3L484.1 222.9L486.8 219.4ZM482.2 236.2L482.7 231.7L486.9 232.9ZM498.2 224.7L500.6 219.3L502.3 225.8ZM500.6 219.3L505.8 223.4L502.3 225.8ZM495.5 220.3L500.6 219.3L498.2 224.7ZM516.6 214.5L521.6 211.1L520.2 215.9ZM512.2 215L516.6 214.5L513 220ZM477.7 228.9L476.1 225L482.2 226.7ZM477.7 228.9L473.2 228.6L476.1 225ZM473.2 228.6L477.7 228.9L475.2 232.1ZM488.9 223.3L490.8 218.4L494 224.3ZM490.8 218.4L495.5 220.3L494 224.3ZM490.8 218.4L488.9 223.3L486.8 219.4ZM505.8 223.4L505.5 218.4L509.3 221.1ZM500.6 219.3L505.5 218.4L505.8 223.4ZM505.5 218.4L512.2 215L509.3 221.1ZM516.9 220.7L515.9 225.4L513 220ZM521.5 222.7L516.9 220.7L520.2 215.9ZM516.6 214.5L516.9 220.7L513 220ZM516.9 220.7L516.6 214.5L520.2 215.9ZM471.2 232.7L473.2 228.6L475.2 232.1ZM477.7 228.9L479.3 233.8L475.2 232.1ZM482.2 236.2L479.3 233.8L482.7 231.7ZM479.3 233.8L477.7 237.7L475.2 232.1ZM492.4 231.7L491.2 227L496.4 228.6ZM487.3 228.2L492.4 231.7L486.9 232.9ZM504.9 214.3L505.5 218.4L500.6 219.3Z"/><path fill="#0060d8" d="M505.2 318.2L501.5 313.9L506.7 312.6ZM482.5 218.4L486.3 215.4L486.8 219.4ZM482.5 218.4L479 222L477.5 218.3ZM473.1 219.8L479 222L476.1 225ZM473.1 219.8L476.1 225L470.1 225.3ZM524.3 218.6L528.1 215.3L528.7 219.7ZM524.6 225.2L524.3 218.6L528.7 219.7ZM508.8 212L511.3 208.5L514.6 211.2ZM511.3 208.5L517.1 208.3L514.6 211.2ZM509.9 310.1L513.2 312L506.7 312.6ZM508.5 232.3L505.1 229.2L509.8 225.3ZM515.9 225.4L521.5 222.7L519.4 227.4ZM524.6 225.2L521.5 222.7L524.3 218.6ZM529.9 208.6L528.1 215.3L526 209.9ZM529.9 208.6L533.3 212.9L528.1 215.3ZM521.6 211.1L521.5 205.5L526 209.9ZM521.6 211.1L517.1 208.3L521.5 205.5ZM501.3 319.3L497.5 315.4L501.5 313.9ZM468.5 229.9L469.1 235.9L464.7 233.4ZM469.1 235.9L465.5 237.5L464.7 233.4ZM473.2 228.6L468.5 229.9L470.1 225.3ZM496.4 228.6L499.8 231.2L496.7 235.8ZM491.7 238.4L485.8 238L486.9 232.9ZM486.3 215.4L490.8 218.4L486.8 219.4ZM515.9 225.4L515.2 229.4L509.8 225.3ZM469.1 235.9L471.2 232.7L472.7 238.6ZM495.4 216.3L490.8 218.4L491 214.6ZM481.3 241L477.7 237.7L482.2 236.2ZM481.3 241L482.2 236.2L485.8 238ZM474.7 315.8L472.3 318.8L470.8 314ZM508.8 212L504.9 214.3L504.9 210.1Z"/><path fill="#0054e4" d="M523.5 306.4L520.4 303.9L524.8 299.8ZM541.9 299L541.5 295.1L545.7 297.4ZM528.8 301.6L523.5 306.4L524.8 299.8ZM509.9 310.1L513.4 304.8L515.8 307.8ZM532.7 302L536 298L538.5 301.1ZM538.5 301.1L536 298L541.9 299Z"/><path fill="#0060e4" d="M547.1 291.2L541.5 295.1L539.8 291.4ZM508.4 305.7L509.9 310.1L503.7 306.7ZM477.4 312.5L483.4 315.2L477.9 318.1Z"/><path fill="#003ce4" d="M503.7 306.7L509.9 310.1L506.7 312.6Z"/><path fill="#0030c0" d="M453.8 317.1L457.1 312.1L457.7 316.1ZM434.9 232L432.9 226.8L436.7 225.7ZM443.9 264.2L438.3 260.3L444.3 260.4ZM429.1 227.9L427.4 232.9L425.2 229ZM431.3 233.6L429.1 227.9L432.9 226.8ZM440.1 266L434 268.4L435.1 263.8ZM440.1 266L439.7 271L434 268.4ZM443.9 264.2L440.1 266L438.3 260.3ZM445.8 268.1L440.1 266L443.9 264.2Z"/><path fill="#0030cc" d="M444.2 230L444.4 223.6L448.5 227.3ZM444.2 230L440.6 224.7L444.4 223.6ZM440.6 224.7L439.8 230.3L436.7 225.7ZM444.2 230L439.8 230.3L440.6 224.7ZM457.1 312.1L464.3 311.1L462.5 315.7ZM451.2 256.5L448.7 250.8L453 250.5ZM448.7 250.8L451.2 256.5L446.9 256.8ZM446.9 256.8L448.9 260.8L444.3 260.4ZM451.2 256.5L448.9 260.8L446.9 256.8ZM448.9 260.8L443.9 264.2L444.3 260.4ZM464.3 311.1L468.9 308.7L466.3 314.7Z"/><path fill="#003ccc" d="M443.2 237.6L444.2 230L448.2 231.9ZM440.4 234.6L444.2 230L443.2 237.6ZM439.8 230.3L444.2 230L440.4 234.6ZM439.8 230.3L434.9 232L436.7 225.7ZM439.8 230.3L440.4 234.6L434.9 232ZM446.9 256.8L444.3 260.4L442.4 254.7ZM448.7 250.8L450.5 247L453 250.5ZM448.7 250.8L446.9 256.8L442.4 254.7ZM464.3 311.1L466.3 314.7L462.5 315.7ZM468.9 308.7L470.8 314L466.3 314.7Z"/><path fill="#0084d8" d="M484.1 222.9L487.3 228.2L482.2 226.7ZM487.3 228.2L482.7 231.7L482.2 226.7ZM482.7 231.7L487.3 228.2L486.9 232.9ZM488.9 223.3L487.3 228.2L484.1 222.9ZM495.5 220.3L498.2 224.7L494 224.3ZM482.7 231.7L477.7 228.9L482.2 226.7ZM496.4 228.6L491.2 227L494 224.3ZM491.2 227L488.9 223.3L494 224.3ZM488.9 223.3L491.2 227L487.3 228.2ZM479.3 233.8L477.7 228.9L482.7 231.7ZM491.2 227L492.4 231.7L487.3 228.2Z"/><path fill="#006ce4" d="M515.8 307.8L516 302.1L520.4 303.9ZM538.5 265.4L533.2 266.8L534.2 261.6ZM508.4 305.7L513.4 304.8L509.9 310.1ZM501.6 309.8L496.6 311.4L499.5 306.4ZM496.4 273.8L497.3 269.8L501.7 274.7ZM477.4 312.5L474.7 315.8L473.2 311ZM474.7 315.8L477.4 312.5L477.9 318.1ZM536 298L541.5 295.1L541.9 299Z"/><path fill="#00cce4" d="M522.6 292.6L515.5 289.8L521.9 288.6ZM515.5 289.8L514.4 295L510.8 293.7ZM532.1 270.6L532.6 274.9L528.6 275.7ZM515.5 289.8L517.2 286L521.9 288.6ZM517.2 286L523.9 284.7L521.9 288.6ZM522.6 292.6L519.6 296L515.5 289.8ZM519.6 296L514.4 295L515.5 289.8ZM525.7 295L519.6 296L522.6 292.6ZM517.2 286L521.4 281.1L523.9 284.7ZM527.7 270.2L532.1 270.6L528.6 275.7ZM524.1 273.4L527.7 270.2L528.6 275.7ZM523.5 267.9L527.7 270.2L524.1 273.4ZM501.7 274.7L504.6 278.9L497.3 278ZM511.3 272.9L515.8 274.3L511.9 279ZM525.5 278.4L528.1 282.7L523.9 284.7ZM521.4 281.1L525.5 278.4L523.9 284.7ZM531.7 281.3L525.5 278.4L528.6 275.7ZM525.5 278.4L524.1 273.4L528.6 275.7ZM532.5 287.2L531.7 281.3L536.2 284ZM535.8 290.4L532.5 287.2L536.2 284ZM527.9 288.4L532.5 287.2L529.8 292.1ZM495.4 284.8L490.9 282.2L497.3 278ZM487.2 284.5L490.9 282.2L491.9 288.6ZM490.9 282.2L487.2 284.5L487.3 277.9ZM508.2 277.9L511.3 272.9L511.9 279ZM525.5 278.4L522 277L524.1 273.4ZM522 277L525.5 278.4L521.4 281.1ZM504.4 286.3L508.1 288.7L504.9 291ZM487.4 292.4L485.9 288L491.9 288.6ZM485.9 288L487.2 284.5L491.9 288.6ZM482.6 291.2L485.9 288L487.4 292.4ZM501.9 298.6L505.6 302.5L499.6 302.4ZM501.9 298.6L506.3 295.8L505.6 302.5ZM487.2 284.5L483.5 281.7L487.3 277.9ZM500.7 294L501.2 290L504.9 291ZM501.2 290L504.4 286.3L504.9 291ZM501.2 290L499.9 282.3L504.4 286.3ZM504.4 286.3L506.1 282.9L508.1 288.7ZM508.2 277.9L506.1 282.9L504.6 278.9ZM499.9 282.3L506.1 282.9L504.4 286.3ZM510.7 285.9L506.1 282.9L511.9 279ZM506.1 282.9L508.2 277.9L511.9 279ZM494.1 291.8L496.8 296L492.6 300.1ZM501.9 298.6L496.8 296L500.7 294ZM496.8 296L501.9 298.6L499.6 302.4ZM497.3 289.4L501.2 290L500.7 294ZM496.8 296L497.3 289.4L500.7 294ZM497.3 289.4L496.8 296L494.1 291.8Z"/><path fill="#00e4e4" d="M527.9 288.4L522.6 292.6L521.9 288.6ZM531.7 281.3L532.5 287.2L528.1 282.7ZM506.3 295.8L504.9 291L510.8 293.7ZM504.9 291L508.1 288.7L510.8 293.7ZM508.1 288.7L510.7 285.9L515.5 289.8ZM513.9 282.6L516.1 278.6L521.4 281.1ZM510.7 285.9L513.9 282.6L517.2 286ZM524.1 273.4L522 277L519.3 273ZM522 277L516.1 278.6L519.3 273ZM494.1 291.8L487.4 292.4L491.9 288.6ZM494.1 291.8L488.4 297.4L487.4 292.4ZM501.9 298.6L500.7 294L506.3 295.8ZM504.6 278.9L499.9 282.3L497.3 278ZM495.4 284.8L497.3 289.4L491.9 288.6ZM497.3 289.4L494.1 291.8L491.9 288.6ZM499.9 282.3L497.3 289.4L495.4 284.8Z"/><path fill="#00c0e4" d="M514.4 295L513.3 298.6L510.8 293.7ZM525.7 295L527.9 288.4L529.8 292.1ZM519.6 296L516 302.1L513.3 298.6ZM514.4 295L519.6 296L513.3 298.6ZM531.7 281.3L537.8 279.5L536.2 284ZM507.1 272L504.6 278.9L501.7 274.7ZM532.5 287.2L535.8 290.4L529.8 292.1ZM527.7 270.2L528.3 266L532.1 270.6ZM506.3 295.8L510.8 293.7L510.4 301ZM494.3 303.8L499.6 302.4L499.5 306.4ZM494.3 303.8L492.6 300.1L499.6 302.4ZM492.6 300.1L494.3 303.8L487.7 302.1ZM508.2 277.9L507.1 272L511.3 272.9ZM533.8 294.2L535.8 290.4L539.8 291.4ZM492.5 308L494.3 303.8L499.5 306.4ZM515.8 274.3L515.3 270.3L519.3 273ZM536 298L533.8 294.2L539.8 291.4ZM492.6 300.1L496.8 296L499.6 302.4ZM470.2 295.2L473.4 292.1L474.6 298.7Z"/><path fill="#00a8e4" d="M516 302.1L513.4 304.8L510.4 301ZM542 288L535.8 290.4L536.2 284ZM535.8 290.4L542 288L539.8 291.4ZM520.4 303.9L519.6 296L524.8 299.8ZM536.7 268.9L532.6 274.9L532.1 270.6ZM508.4 305.7L505.6 302.5L510.4 301ZM539.1 274.9L537.8 279.5L532.6 274.9ZM472.2 287.3L465.8 286.2L469.5 283.3ZM492.5 308L488.8 309L487.7 302.1ZM515.3 270.3L515.8 274.3L511.3 272.9ZM525.7 295L530.5 296.4L524.8 299.8ZM530.5 296.4L525.7 295L529.8 292.1ZM477.5 302L473.3 306L474.6 298.7ZM477.1 306.6L473.3 306L477.5 302Z"/><path fill="#0078e4" d="M513.4 304.8L516 302.1L515.8 307.8ZM503.7 306.7L501.6 309.8L499.5 306.4ZM496.4 273.8L492.2 276.5L492.4 272.5ZM492.5 308L496.6 311.4L492.5 314.2ZM530.5 296.4L532.7 302L528.8 301.6Z"/><path fill="#0018cc" d="M454.4 276.2L451.8 273.1L456.4 272.2ZM461 270.1L459.3 274.7L456.4 272.2ZM459.3 274.7L454.4 276.2L456.4 272.2ZM460.6 307.4L461.9 300.6L464.9 303.4ZM461.9 300.6L460.6 307.4L456.9 304.8ZM451.8 273.1L453.2 269.3L456.4 272.2ZM457.3 267.7L453.2 269.3L451.4 265.7ZM457.3 267.7L461 270.1L456.4 272.2ZM453.2 269.3L457.3 267.7L456.4 272.2ZM455.7 262.9L457.3 267.7L451.4 265.7ZM468.7 303.8L468.9 308.7L464.9 303.4ZM467.7 298.3L468.7 303.8L464.9 303.4ZM467.7 298.3L461.9 300.6L464.1 297ZM461.9 300.6L467.7 298.3L464.9 303.4Z"/><path fill="#0024cc" d="M451.8 273.1L454.4 276.2L451.6 278.8ZM454.4 276.2L457.8 279.1L451.6 278.8ZM463.4 276.4L459.4 282.7L457.8 279.1ZM454.4 276.2L459.3 274.7L457.8 279.1ZM461.3 287L459.4 282.7L465.2 281.4ZM457.8 279.1L451.7 283.5L451.6 278.8ZM446.3 278.2L451.8 273.1L451.6 278.8ZM461.9 300.6L456.9 304.8L457.4 300.2ZM461.9 300.6L459.3 294.2L464.1 297ZM459.3 294.2L461.9 300.6L457.4 300.2ZM455.5 296.7L459.3 294.2L457.4 300.2ZM451.4 265.7L447.7 272L445.8 268.1ZM451.4 265.7L445.8 268.1L443.9 264.2ZM459.3 294.2L464.7 292.5L464.1 297ZM464.7 292.5L459.3 294.2L458.1 289.8ZM461.3 287L464.7 292.5L458.1 289.8ZM452.2 290L456.1 285.7L458.1 289.8ZM451.7 283.5L456.1 285.7L452.2 290ZM456.1 285.7L461.3 287L458.1 289.8ZM461.3 287L456.1 285.7L459.4 282.7ZM459.4 282.7L456.1 285.7L457.8 279.1ZM456.1 285.7L451.7 283.5L457.8 279.1ZM464.3 311.1L460.6 307.4L464.9 303.4ZM460.6 307.4L464.3 311.1L457.1 312.1ZM447.7 272L453.2 269.3L451.8 273.1ZM451.4 265.7L453.2 269.3L447.7 272ZM455.2 292.6L452.2 290L458.1 289.8ZM459.3 294.2L455.2 292.6L458.1 289.8ZM455.5 296.7L455.2 292.6L459.3 294.2ZM453.4 259.9L451.2 256.5L457.4 257.4ZM453.4 259.9L455.7 262.9L451.4 265.7ZM448.9 260.8L453.4 259.9L451.4 265.7ZM448.9 260.8L451.2 256.5L453.4 259.9ZM448.9 260.8L451.4 265.7L443.9 264.2ZM468.9 308.7L464.3 311.1L464.9 303.4Z"/><path fill="#0090e4" d="M541.3 282L542 288L536.2 284ZM533.2 266.8L536.7 268.9L532.1 270.6ZM505.6 302.5L508.4 305.7L503.7 306.7ZM533.2 266.8L528.3 266L534.2 261.6ZM465.8 286.2L472.2 287.3L467.5 289.7ZM507.1 272L509.8 266.6L511.3 272.9ZM492.2 276.5L496.4 273.8L497.3 278ZM496.6 311.4L492.5 308L499.5 306.4ZM477.1 306.6L477.4 312.5L473.2 311ZM515.3 270.3L519.4 265.2L519.3 273ZM509.8 266.6L515.3 270.3L511.3 272.9ZM530.5 296.4L536 298L532.7 302ZM473.4 292.1L470.2 295.2L467.5 289.7Z"/><path fill="#0084e4" d="M537.8 279.5L541.3 282L536.2 284ZM488.8 309L492.5 308L492.5 314.2ZM530.5 296.4L528.8 301.6L524.8 299.8ZM473.3 306L468.7 303.8L474.6 298.7ZM473.3 306L477.1 306.6L473.2 311Z"/><path fill="#003078" d="M533.3 212.9L533.8 208.5L538.1 213.3ZM490.7 318.5L489.8 322.6L486.4 318.6ZM486 323.7L482.9 320.5L486.4 318.6Z"/><path fill="#009ce4" d="M513.4 304.8L508.4 305.7L510.4 301ZM536.7 268.9L539.1 274.9L532.6 274.9ZM469.5 283.3L465.8 286.2L465.2 281.4ZM503.3 270.8L507.1 272L501.7 274.7ZM519.4 265.2L523.5 267.9L519.3 273ZM496.4 273.8L501.7 274.7L497.3 278ZM483.5 281.7L482.7 275.8L487.3 277.9ZM483.5 281.7L478.4 280.9L482.7 275.8ZM472.2 287.3L473.4 292.1L467.5 289.7ZM541.5 295.1L536 298L539.8 291.4ZM467.7 298.3L470.2 295.2L474.6 298.7Z"/><path fill="#003c78" d="M490.7 318.5L486.4 318.6L487.1 312.5ZM492.5 314.2L490.7 318.5L487.1 312.5ZM488.8 309L492.5 314.2L487.1 312.5ZM482.9 320.5L483.4 315.2L486.4 318.6ZM483.4 315.2L482.9 320.5L477.9 318.1Z"/><path fill="#005478" d="M469.5 283.3L470 278.7L474.3 282.2ZM477.4 312.5L482.1 308.1L483.4 315.2ZM482.1 308.1L488.8 309L487.1 312.5Z"/><path fill="#00003c" d="M461.9 254L465.4 255.9L463.1 258.9ZM465.4 255.9L461.9 254L467.9 252.4ZM470.6 256.9L471.7 252.8L475.1 255.4ZM470.6 256.9L465.4 255.9L467.9 252.4ZM471.7 252.8L470.6 256.9L467.9 252.4ZM476.9 260.3L470.6 256.9L475.1 255.4ZM468.4 268L471.8 263.5L475.4 266.7ZM471.8 263.5L476.9 260.3L475.4 266.7ZM476.9 260.3L471.8 263.5L470.6 256.9ZM466 264.3L471.8 263.5L468.4 268ZM464.8 269.6L466 264.3L468.4 268ZM471.8 263.5L467.2 259.4L470.6 256.9ZM466 264.3L467.2 259.4L471.8 263.5ZM467.2 259.4L466 264.3L463.1 258.9ZM465.4 255.9L467.2 259.4L463.1 258.9ZM470.6 256.9L467.2 259.4L465.4 255.9Z"/><path fill="#0048e4" d="M532.7 302L528.1 306.1L528.8 301.6ZM501.6 309.8L503.7 306.7L506.7 312.6Z"/><path fill="#0030e4" d="M496.6 311.4L501.6 309.8L501.5 313.9Z"/><path fill="#007878" d="M480.7 304L481.7 298.6L487.7 302.1ZM482.6 291.2L476.7 287.7L480.8 287.1ZM488.4 297.4L481.7 298.6L484 295.3ZM481.7 298.6L488.4 297.4L487.7 302.1ZM476.7 287.7L478.4 280.9L480.8 287.1ZM485.9 288L482.6 291.2L480.8 287.1ZM480.7 304L477.5 302L481.7 298.6ZM485.6 305.8L480.7 304L487.7 302.1ZM482.6 291.2L478.3 293.9L476.7 287.7ZM478.4 280.9L483.5 281.7L480.8 287.1ZM473.4 292.1L478.3 293.9L474.6 298.7ZM473.4 292.1L472.2 287.3L476.7 287.7ZM478.3 293.9L473.4 292.1L476.7 287.7ZM482.1 308.1L477.1 306.6L480.7 304Z"/><path fill="#006c78" d="M482.6 291.2L487.4 292.4L484 295.3ZM476.7 287.7L472.2 287.3L474.3 282.2ZM477.5 302L474.6 298.7L481.7 298.6ZM477.1 306.6L477.5 302L480.7 304ZM474.6 298.7L478.3 293.9L481.7 298.6ZM481.7 298.6L478.3 293.9L484 295.3ZM478.3 293.9L482.6 291.2L484 295.3ZM477.1 306.6L482.1 308.1L477.4 312.5ZM485.6 305.8L482.1 308.1L480.7 304Z"/><path fill="#006078" d="M472.2 287.3L469.5 283.3L474.3 282.2ZM478.4 280.9L476.7 287.7L474.3 282.2ZM488.8 309L485.6 305.8L487.7 302.1ZM482.1 308.1L485.6 305.8L488.8 309Z"/><path fill="#004878" d="M473.7 276.8L478.4 280.9L474.3 282.2ZM483.4 315.2L482.1 308.1L487.1 312.5Z"/><path fill="#0078cc" d="M468.2 318.9L472.3 318.8L473.5 322.5Z"/><path fill="#000cd8" d="M466 264.3L462.2 265.9L460.9 262Z"/></g></g>
<polygon points="710.2,72.0 712.0,68.5 716.0,65.5 722.0,62.8 730.0,60.4 738.0,58.6 744.5,57.8 752.0,58.0 760.0,59.6 765.0,61.0 768.6,62.8 769.2,68.6 766.0,68.4 757.0,67.2 747.0,67.8 738.0,69.6 730.0,72.6 724.0,76.6 720.4,81.6 719.6,86.0 711.8,84.0" fill="#000006"/><polygon points="711.6,77 717.4,78.6 718.6,88 713,86.6" fill="#1424c4"/><g fill="none" stroke="#d8d800" stroke-linecap="butt"><path d="M717 78 Q724 68.4 742 64.4 Q755 62.4 765 65.4" stroke-width="1.5" stroke-dasharray="1.2 1.8 2.2 1.4 1 2.4"/><path d="M721 80 Q727 72.6 741 68.2" stroke-width="1.3" stroke-dasharray="1 2 1.8 1.6"/><path d="M714.6 72 Q722 63.6 742 60.6 Q756 60 764 62.2" stroke-width="1" stroke-dasharray="0.9 3.2 1.4 4"/></g>
</svg>
<svg style="position:absolute;left:0;top:0" width="1220" height="467" viewBox="0 0 1220 467">
<line x1="767.4" y1="62.4" x2="322" y2="189" stroke="#2fcf2f" stroke-width="1"/>
<polygon points="304.4,193.6 325.2,180.6 326.6,193.2" fill="#33cc33"/>
<line x1="767.4" y1="62.4" x2="795.4" y2="290" stroke="#e0143c" stroke-width="1.2"/>
<polygon points="791.6,280.4 797.6,281.6 795.6,290.6" fill="#e0143c"/>
<line x1="767.4" y1="62.4" x2="731.5" y2="41.6" stroke="#2a2ad0" stroke-width="0.9"/>
</svg>
<svg style="position:absolute;left:660px;top:195px" width="70" height="60" viewBox="660 195 70 60">
<defs><linearGradient id="ga" x1="0" y1="0" x2="0" y2="1"><stop offset="0" stop-color="#00f000"/><stop offset="1" stop-color="#70e070"/></linearGradient><linearGradient id="ra" x1="0" y1="0" x2="1" y2="0"><stop offset="0" stop-color="#d81010"/><stop offset="1" stop-color="#700000"/></linearGradient></defs><line x1="708.4" y1="205.2" x2="680" y2="211.8" stroke="#00e400" stroke-width="2"/><polygon points="668,216.2 679.4,209.2 680.8,218" fill="url(#ga)"/><line x1="708.4" y1="205.4" x2="711.6" y2="236" stroke="#e00000" stroke-width="2.2"/><polygon points="707.2,235.8 716.6,234.6 712.8,248" fill="url(#ra)"/></svg>

<div class="t" id="title">Проект 1\Сценарий 1\Image 01</div>
<div class="t" id="sub">(1) Величина скорости - mm/s</div>
<div style="position:absolute;left:6px;top:64px;width:27px;height:174px;border:1px solid #000;background:linear-gradient(#ff0000 0%,#ff1a00 3%,#ff9c00 22%,#ffff00 36%,#7aff00 43%,#00f000 50%,#00ff6a 57%,#00ffff 66%,#009cff 80%,#0038ff 92%,#0000ff 100%)"></div>
<svg style="position:absolute;left:0;top:0" width="60" height="260" fill="#000" shape-rendering="crispEdges"><rect x="33" y="236.50" width="5" height="1"/><rect x="33" y="229.14" width="5" height="1"/><rect x="33" y="221.79" width="5" height="1"/><rect x="33" y="214.43" width="5" height="1"/><rect x="33" y="207.07" width="5" height="1"/><rect x="33" y="199.72" width="5" height="1"/><rect x="33" y="192.36" width="5" height="1"/><rect x="33" y="185.00" width="5" height="1"/><rect x="33" y="177.65" width="5" height="1"/><rect x="33" y="170.29" width="5" height="1"/><rect x="33" y="162.93" width="5" height="1"/><rect x="33" y="155.58" width="5" height="1"/><rect x="33" y="148.22" width="5" height="1"/><rect x="33" y="140.86" width="5" height="1"/><rect x="33" y="133.51" width="5" height="1"/><rect x="33" y="126.15" width="5" height="1"/><rect x="33" y="118.79" width="5" height="1"/><rect x="33" y="111.44" width="5" height="1"/><rect x="33" y="104.08" width="5" height="1"/><rect x="33" y="96.72" width="5" height="1"/><rect x="33" y="89.37" width="5" height="1"/><rect x="33" y="82.01" width="5" height="1"/><rect x="33" y="74.65" width="5" height="1"/><rect x="33" y="67.30" width="5" height="1"/><rect x="33" y="64" width="5" height="1"/></svg>
<div class="t lg" style="top:229.9px">0</div>
<div class="t lg" style="top:209.0px">1500</div>
<div class="t lg" style="top:187.2px">3000</div>
<div class="t lg" style="top:165.0px">4500</div>
<div class="t lg" style="top:142.8px">6000</div>
<div class="t lg" style="top:121.2px">7500</div>
<div class="t lg" style="top:99.0px">9000</div>
<div class="t lg" style="top:77.0px">10500</div>
<div class="t lg" style="top:58.2px">11729.8</div>

<div style="position:absolute;left:393px;top:440px;width:451px;height:9px;border:1px solid #000;background:linear-gradient(90deg,#8e8e8e 0,#8e8e8e 149.5px,#000 149.5px,#000 150px,#fff 150px,#fff 299.5px,#000 299.5px,#000 300px,#8e8e8e 300px)"></div>
<div class="t ax" style="left:392.4px;top:422.6px">0</div>
<div class="t ax" style="left:512.2px;top:422.6px">0.0195186</div>
<div class="t ax" style="left:613.6px;top:422.6px">m</div>
<div class="t ax" style="left:662.6px;top:422.6px">0.0390373</div>
<div class="t ax" style="left:812.2px;top:422.6px">0.0585559</div>
<div class="t ax" style="left:62px;top:442.6px">Кадр: 2/2</div>
<svg style="position:absolute;left:1120px;top:395px" width="100" height="72" viewBox="1120 395 100 72">
<polygon points="1179.5,413.6 1169.5,418.6 1174,421.6" fill="#00e000"/>
<polygon points="1179.5,413.6 1174,421.6 1180.3,426.6" fill="#ff0000"/>
<line x1="1179.5" y1="413.6" x2="1169" y2="407.6" stroke="#000090" stroke-width="1.8"/>
<polygon points="1165.6,408.2 1168.6,404.6 1171.4,406 1170.2,411.2 1167.2,411.2" fill="#0000e0"/>
<line x1="1179.5" y1="413.6" x2="1153" y2="421.4" stroke="#00cc00" stroke-width="1.6"/>
<polygon points="1148.8,422.6 1154.4,416.8 1157.2,424.2" fill="#00c400"/>
<line x1="1180" y1="413.6" x2="1182" y2="436" stroke="#f00000" stroke-width="2"/>
<polygon points="1178,436 1181.6,432.6 1185,436.4 1182.2,441" fill="#8c0000"/>
</svg>
<div class="t ax" style="left:1138.8px;top:418px;font-size:12.5px">y</div>
<div class="t ax" style="left:1179.8px;top:439px;font-size:12.5px">x</div>
<div class="t ax" style="left:1163.2px;top:399.4px;font-size:12.5px">z</div>
<svg style="position:absolute;left:1160px;top:5px" width="60" height="65" viewBox="1160 5 60 65">
<defs><linearGradient id="cg1" x1="0" y1="0" x2="1" y2="1"><stop offset="0" stop-color="#e9e9ea"/><stop offset="1" stop-color="#cbcbcd"/></linearGradient></defs>
<polygon points="1173.2,22.1 1197.7,16.0 1216.7,20.3 1185.4,28.4" fill="#e5e5e7"/>
<polygon points="1173.2,22.1 1185.4,28.4 1189.5,60.8 1177.3,50.8" fill="url(#cg1)"/>
<polygon points="1185.4,28.4 1216.7,20.3 1218.5,51.1 1189.5,60.8" fill="#d9d9db"/>
<polygon points="1186.2,28.6 1191.8,27.2 1192.2,33 1186.8,34.2" fill="#dfe2ea"/>
<g fill="none" stroke="#8e8f93" stroke-width="0.85" stroke-dasharray="4.4 3"><polyline points="1173.2,22.1 1197.7,16.0 1216.7,20.3 1185.4,28.4 1173.2,22.1"/><polyline points="1173.2,22.1 1177.3,50.8 1189.5,60.8 1185.4,28.4"/><polyline points="1216.7,20.3 1218.5,51.1 1189.5,60.8"/></g>
<text transform="translate(1206.4,48.6) rotate(-96) skewX(-10)" font-family="Liberation Sans" font-size="9.4" fill="#8a8b8d">Низ</text>
<text transform="translate(1182,45.4) rotate(-80) skewX(20)" font-family="Liberation Sans" font-size="5" fill="#8a8b8d">Верх</text>
<g stroke="#9a9b9f" stroke-width="0.8" stroke-dasharray="2 1.6"><line x1="1184" y1="22.4" x2="1203" y2="17.8"/><line x1="1188" y1="24" x2="1199" y2="21"/></g>
</svg>
<svg style="position:absolute;left:1190px;top:75px" width="30" height="250" viewBox="1190 75 30 250">
<rect x="1197.2" y="80.6" width="40" height="236.6" rx="4.5" fill="#e3e8f1" fill-opacity="0.6" stroke="#b9bec7" stroke-width="1.6"/>
<g fill="#f2f4f8" fill-opacity="0.75" stroke="#a6a9b0" stroke-width="1.3" stroke-linejoin="round"><circle cx="1214.2" cy="110.8" r="10.6"/><circle cx="1215.2" cy="110" r="6.3"/><path d="M1206.6 118.2 L1210.6 114.4 M1221 117 L1219.6 114.6" fill="none"/><path d="M1202.4 153.4 C1204.5 152.2 1206.6 154.2 1208.2 156.6 L1207.6 144.8 C1207.6 142.4 1210.6 142.4 1210.8 144.8 L1211.5 152 L1212.3 143.4 C1212.6 141.2 1215.6 141.2 1215.7 143.6 L1215.9 152 L1217 144.4 C1217.4 142.2 1220.4 142.6 1220.4 145 L1220.6 152 L1222 164 L1210.6 164 C1208 161 1205.4 157.4 1202.4 153.4 Z"/><path d="M1206.3 170.2 h2.2 v4.2 h4.2 v2.3 h-4.2 v4.2 h-2.2 v-4.2 h-4.3 v-2.3 h4.3 Z"/><rect x="1202" y="183.4" width="11" height="2.3"/><circle cx="1218" cy="184.6" r="4.6"/><ellipse cx="1214.4" cy="219.8" rx="4.6" ry="10.4" fill="none"/><path d="M1209 216.2 L1203 220.2 L1209 224" fill="none"/><path d="M1211.6 219.8 h5.4 M1214.3 217 v5.6" fill="none"/><path d="M1218.6 214.4 l-2.4 1.8 l2.8 1.2" fill="none"/><path d="M1202.4 253.6 L1209.7 246.4 L1210.4 250.4 L1218.4 248.4 L1222 253.6 Z"/><rect x="1202.4" y="253.6" width="22" height="14.6"/><rect x="1206.2" y="257.7" width="18" height="6.6" fill="#c6cad2" fill-opacity="1"/><circle cx="1213.4" cy="284.6" r="9.8"/></g>
<g fill="#a6a9b0"><polygon points="1211.8,129.6 1216.8,129.6 1214.3,132.6"/><polygon points="1211.8,199.8 1216.8,199.8 1214.3,202.8"/><polygon points="1211.9,238 1216.9,238 1214.4,241"/><polygon points="1209.6,278.4 1217.2,278.4 1213.4,283.2"/><polygon points="1209.6,290.8 1217.2,290.8 1213.4,286"/><polygon points="1206.6,280.8 1206.6,288.4 1211.8,284.6"/><polygon points="1220.2,280.8 1220.2,288.4 1215,284.6"/></g>
</svg>

</div>
<div id="panel"></div>
<div style="position:absolute;left:0;top:472px;width:1224px;height:20px;border:1px dotted #000;border-radius:3px;background:linear-gradient(#f4f4f4 0%,#ebebeb 45%,#dadada 50%,#d6d6d6 75%,#e2e2e2 100%)"></div>
<div class="ui" style="left:572px;top:477.5px;font-size:11.1px">Панель вывода</div>
<div style="position:absolute;left:2px;top:504px;width:1224px;height:49px;border:1px solid #d5dfe5;border-radius:3px;box-shadow:inset 1px 1px 0 #fff, 0 1px 0 #fff"></div>
<div class="ui" style="left:8px;top:498.5px;background:#f0f0f0;padding:0 2px;font-size:11.3px">Центр проверки проекта</div>
<div class="btn" style="left:13px"><svg style="position:absolute;left:11px;top:5px" width="14" height="10" viewBox="0 0 14 10" fill="#000"><polygon points="0,5 7,0 7,10"/><polygon points="7,5 14,0 14,10"/></svg></div>
<div class="btn" style="left:59px"><svg style="position:absolute;left:11px;top:5px" width="14" height="10" viewBox="0 0 14 10" fill="#000"><polygon points="0,5 7,0 7,10"/><rect x="9" y="0" width="3" height="10"/></svg></div>
<div class="btn" style="left:105px"><svg style="position:absolute;left:11px;top:5px" width="14" height="10" viewBox="0 0 14 10" fill="#000"><polygon points="2,0 11,5 2,10"/></svg></div>
<div class="btn" style="left:151px"><svg style="position:absolute;left:11px;top:5px" width="14" height="10" viewBox="0 0 14 10" fill="#000"><rect x="1" y="0" width="3" height="10"/><polygon points="6,0 13,5 6,10"/></svg></div>
<div class="btn" style="left:197px"><svg style="position:absolute;left:11px;top:5px" width="14" height="10" viewBox="0 0 14 10" fill="#000"><polygon points="0,0 7,5 0,10"/><polygon points="7,0 14,5 7,10"/></svg></div>
<div style="position:absolute;left:242px;top:521px;width:619px;height:22px;background:#ececec"></div>
<div style="position:absolute;left:242px;top:521px;width:17px;height:22px;background:#e6e6e6"></div>
<div style="position:absolute;left:844px;top:521px;width:17px;height:22px;background:#ececec"></div>
<svg style="position:absolute;left:246px;top:527px" width="8" height="9" viewBox="0 0 8 9"><polygon points="1.5,4.5 6,1 6,8" fill="#505050"/></svg>
<svg style="position:absolute;left:850px;top:527px" width="8" height="9" viewBox="0 0 8 9"><polygon points="6,4.5 1.5,1 1.5,8" fill="#303030"/></svg>
<div style="position:absolute;left:314px;top:521px;width:530px;height:21px;border:1px solid #8f8f8f;border-radius:2px;background:linear-gradient(#f1f1f1 0%,#e9e9e9 28%,#d4d4d6 32%,#d3d3d5 85%,#c4c4c6 100%);box-shadow:inset 0 0 0 1px rgba(255,255,255,.6)"></div>
<svg style="position:absolute;left:575px;top:529px" width="8" height="7" shape-rendering="crispEdges"><rect x="0" y="0" width="1" height="6" fill="#555"/><rect x="3" y="0" width="1" height="6" fill="#555"/><rect x="6" y="0" width="1" height="6" fill="#555"/><rect x="1" y="0" width="1" height="6" fill="#fff"/><rect x="4" y="0" width="1" height="6" fill="#fff"/><rect x="7" y="0" width="1" height="6" fill="#fff"/></svg>
<div style="position:absolute;left:868px;top:522px;width:41px;height:19px;background:#fff;border:1px solid #e3e9ef;border-top-color:#abadb3"></div>
<div class="ui" style="left:872.5px;top:527.5px;font-size:11.5px">2</div>
<div style="position:absolute;left:895px;top:523px;width:13px;height:9px;border:1px solid #c4c8cc;border-radius:2px;background:linear-gradient(#f6f6f6,#e2e2e2)"></div>
<div style="position:absolute;left:895px;top:532px;width:13px;height:9px;border:1px solid #c4c8cc;border-radius:2px;background:linear-gradient(#f6f6f6,#e2e2e2)"></div>
<svg style="position:absolute;left:898px;top:525px" width="7" height="14"><polygon points="3.5,1 6.5,4.4 0.5,4.4" fill="#505860"/><polygon points="3.5,13 6.5,9.6 0.5,9.6" fill="#505860"/></svg>
<div class="ui" style="left:930.6px;top:527px;font-size:11.3px;letter-spacing:0.33px">Кадров задержки:</div>
<div style="position:absolute;left:1033px;top:520px;width:40px;height:23px;background:#fff;border:1px solid #e3e9ef;border-top-color:#abadb3"></div>
<div class="ui" style="left:1036.6px;top:527.5px;font-size:11.3px">1000</div>
<div class="ui" style="left:1078px;top:527px;font-size:11.3px">мс</div>
<div style="position:absolute;left:1136px;top:526px;width:13px;height:13px;border:1px solid #8e8f8f;background:#f4f4f4;box-shadow:inset 0 0 0 1px #f4f4f4, inset 0 0 0 2px #b9bfc7"></div>
<svg style="position:absolute;left:1138px;top:528px" width="9" height="9" viewBox="0 0 9 9"><path d="M1.2 4.2 L3.4 7.4 L7.8 0.8" fill="none" stroke="#3a4a9a" stroke-width="1.7"/></svg>
<div class="ui" style="left:1152.4px;top:527px;font-size:11.3px;letter-spacing:0.4px">Цикл</div>
<svg style="position:absolute;left:1197px;top:524px" width="17" height="17" viewBox="0 0 17 17"><defs><radialGradient id="hg" cx="0.4" cy="0.3" r="0.8"><stop offset="0" stop-color="#7fb4f2"/><stop offset="1" stop-color="#1f52c0"/></radialGradient></defs><circle cx="8.5" cy="8.5" r="7.2" fill="url(#hg)" stroke="#c9d6ea" stroke-width="1.2"/><text x="8.5" y="12.4" text-anchor="middle" font-family="Liberation Sans" font-weight="bold" font-size="11" fill="#fff">?</text></svg>
<div style="position:absolute;left:2px;top:578px;width:1224px;height:227px;border:1px solid #898c95;background:#fff"></div>
<div style="position:absolute;left:4px;top:580px;width:1224px;height:224px;border:1px solid #828790;border-right:none;background:#fff"></div>
<div style="position:absolute;left:72px;top:559px;width:66px;height:19px;border:1px solid #898c95;border-bottom:none;background:linear-gradient(#f3f3f3 0%,#ececec 50%,#dedede 52%,#d2d2d2 100%)"></div>
<div style="position:absolute;left:2px;top:557px;width:71px;height:22px;border:1px solid #898c95;border-bottom:none;background:#fff"></div>
<div class="ui" style="left:13px;top:562.5px;font-size:11.3px">Image 01</div>
<div class="ui" style="left:82.5px;top:564px;font-size:11.3px">Image 02</div>
<div style="position:absolute;left:7px;top:581px;width:265px;height:217px;border:1px solid #d4d4d4;border-radius:3px;background:#e6e6e6"></div>
<div class="thumb" style="left:9px"><svg width="261" height="196" viewBox="0 0 261 196" style="position:absolute;left:0;top:0"><defs><clipPath id="tS"><polygon points="40.5,94.1 40.0,97.2 39.6,104.0 40.2,114.8 42.2,127.6 44.9,137.2 47.0,140.8 47.9,141.3 105.1,135.6 106.4,135.2 122.4,120.1 122.6,120.0 122.7,119.9 122.9,119.8 123.1,119.7 123.3,119.7 123.5,119.6 123.7,119.6 180.8,115.6 188.9,114.6 196.1,112.0 202.5,107.7 207.8,101.0 211.1,93.5 212.1,84.9 212.1,50.9 211.7,50.2 209.5,49.3 201.0,48.6 193.5,49.4 191.7,50.1 191.4,50.9 191.4,80.1 191.4,80.3 191.4,80.5 190.4,85.4 190.3,85.6 190.2,85.8 190.2,85.9 190.1,86.1 187.2,90.5 187.0,90.7 186.9,90.8 186.8,91.0 186.6,91.1 186.4,91.2 181.8,93.6 181.7,93.7 181.5,93.7 181.3,93.8 181.1,93.8 122.8,100.3 122.6,100.3 122.4,100.3 122.2,100.3 122.0,100.2 121.8,100.1 121.7,100.1 121.5,100.0 121.3,99.8 105.5,86.8 104.5,86.6 42.1,92.2 41.2,92.6 40.5,94.1"/></clipPath><filter id="tb" x="-5%" y="-5%" width="110%" height="110%"><feGaussianBlur stdDeviation="1.3"/></filter><filter id="tn1" x="0" y="0" width="1" height="1" color-interpolation-filters="sRGB"><feTurbulence type="fractalNoise" baseFrequency="0.8" numOctaves="2" seed="21"/><feColorMatrix values="0 0 0 0 0  0 0 0 0 0.02  0 0 0 0 0.07  7 0 0 0 -2.95"/></filter><filter id="tn2" x="0" y="0" width="1" height="1" color-interpolation-filters="sRGB"><feTurbulence type="fractalNoise" baseFrequency="0.5" numOctaves="2" seed="4"/><feColorMatrix values="0 0 0 0 0  0 0 0 0 0.02  0 0 0 0 0.07  7 0 0 0 -3.1"/></filter><filter id="tn3" x="0" y="0" width="1" height="1" color-interpolation-filters="sRGB"><feTurbulence type="fractalNoise" baseFrequency="0.62" numOctaves="2" seed="9"/><feColorMatrix values="0 0 0 0 0  0 0 0 0 0.02  0 0 0 0 0.07  7 0 0 0 -2.75"/></filter><filter id="tn4" x="0" y="0" width="1" height="1" color-interpolation-filters="sRGB"><feTurbulence type="fractalNoise" baseFrequency="0.8" numOctaves="2" seed="15"/><feColorMatrix values="0 0 0 0 0  0 0 0 0 0.02  0 0 0 0 0.07  7 0 0 0 -2.45"/></filter></defs><polygon points="38.6,93.5 39.6,91.2 41.5,90.2 104.6,84.6 106.4,84.9 122.6,98.3 180.9,91.8 185.5,89.4 188.4,85.0 189.4,80.1 189.4,50.5 190.2,48.6 193.0,47.4 201.0,46.6 210.0,47.3 213.2,48.6 214.1,50.4 214.1,85.0 213.0,94.0 209.5,102.0 203.9,109.2 197.0,113.8 189.4,116.6 181.0,117.6 123.8,121.6 107.4,137.0 105.5,137.6 47.6,143.3 45.6,142.4 43.0,138.0 40.2,128.0 38.2,115.0 37.6,104.0 38.0,97.0" fill="#00030c" stroke="#00030c" stroke-width="0.6"/><g clip-path="url(#tS)"><g filter="url(#tb)"><g stroke-width="0.8" stroke-linejoin="round"><path fill="#009020" stroke="#009020" d="M211.8 56L206.3 49.3L211.6 50.5ZM211.8 56L206.6 58.2L206.3 49.3ZM191 107.8L196.7 111.2L191.6 113.3ZM202.6 54.5L197.7 56.4L200.8 48.9ZM206.3 49.3L202.6 54.5L200.8 48.9ZM206.6 58.2L202.6 54.5L206.3 49.3ZM197.7 56.4L195.3 49.5L200.8 48.9ZM191.7 52.3L195.3 49.5L197.7 56.4ZM201.3 108.2L196.5 105.4L205 104.1ZM202.6 54.5L201 61.7L197.7 56.4ZM191.7 57.9L191.7 52.3L197.7 56.4ZM203 96.2L208.1 99.6L205 104.1ZM205 80.4L211.8 78.1L211.8 83.6ZM211.8 72.6L205.1 70.1L211.8 67ZM120.8 121.2L116.8 125L115.4 118.2ZM146.1 103.7L144.8 109.5L137.9 104.2ZM146.1 103.7L151.8 107.4L144.8 109.5ZM129.1 105.4L132.5 112.1L125.6 112.9ZM144.8 109.5L138.9 111.3L137.9 104.2ZM138.9 111.3L132.5 112.1L137.9 104.2Z"/><path fill="#009030" stroke="#009030" d="M211.8 56L211.8 61.5L206.6 58.2ZM196.7 111.2L196.5 105.4L201.3 108.2ZM206.6 64.9L211.8 61.5L211.8 67ZM208.1 99.6L203 96.2L210.3 94.5ZM211.3 89.1L206.1 85.8L211.8 83.6ZM120.3 112.6L123.8 107L125.6 112.9ZM116.8 125L111.7 122.9L115.4 118.2ZM132.5 112.1L129.1 105.4L137.9 104.2Z"/><path fill="#009000" stroke="#009000" d="M191 107.8L191.6 113.3L186.3 114.7ZM202.6 90.4L211.3 89.1L210.3 94.5ZM201 61.7L206.6 64.9L198.3 66.2ZM191.7 63.4L201 61.7L198.3 66.2ZM211.8 78.1L205 80.4L207.3 75.2ZM205.1 70.1L211.8 72.6L207.3 75.2ZM206.6 64.9L205.1 70.1L198.3 66.2ZM173.7 109.8L166.8 103.5L172.9 103.8ZM166.8 111.7L161.3 105.4L166.8 103.5ZM144.8 109.5L151.8 107.4L147.7 117.6ZM132.5 112.1L131.2 118.8L125.6 112.9ZM142.2 118L138.9 111.3L144.8 109.5ZM132.5 112.1L138.9 111.3L136.7 118.4ZM125.7 119.2L120.3 112.6L125.6 112.9ZM125.7 119.2L120.8 121.2L120.3 112.6Z"/><path fill="#001050" stroke="#001050" d="M45.3 92.2L40.2 99.6L40.8 94.2ZM91.8 110.3L87.6 115.5L86.4 109.9ZM87.6 115.5L80.3 116.9L86.4 109.9ZM66.8 118.5L66.2 126.6L62 121.4ZM54.8 140.3L52.2 133.9L60.3 139.7ZM52.2 133.9L45.5 137.7L43.8 132.4ZM52.2 133.9L54.8 140.3L49.3 140.8ZM45.5 137.7L52.2 133.9L49.3 140.8ZM40.2 99.6L46.3 103.1L40 105.2ZM98.9 97.4L98.1 104L91.3 96.7ZM91.8 110.3L98.1 104L98.4 109.7ZM94.8 87.8L91.3 96.7L89.3 88.3ZM98.9 97.4L94.8 87.8L100.3 87.3ZM94.8 87.8L98.9 97.4L91.3 96.7ZM81.9 101.3L82.3 106.6L75.1 106.2ZM74.1 118L80.3 116.9L75.6 123.7ZM48.3 122.7L42.4 127.1L41.5 121.6ZM52.2 133.9L59.4 130.7L60.3 139.7ZM66.2 126.6L59.4 130.7L62 121.4ZM50.2 98.5L45.3 92.2L50.8 91.7ZM50.2 98.5L40.2 99.6L45.3 92.2ZM50.2 98.5L46.3 103.1L40.2 99.6ZM98.1 104L90.8 103.3L91.3 96.7ZM90.8 103.3L98.1 104L91.8 110.3ZM90.8 103.3L91.8 110.3L86.4 109.9ZM82.3 106.6L90.8 103.3L86.4 109.9ZM90.8 103.3L82.3 106.6L81.9 101.3ZM80.3 116.9L84.3 120.8L75.6 123.7ZM84.3 120.8L80.3 116.9L87.6 115.5ZM70.4 122.3L74.1 118L75.6 123.7ZM74.1 118L70.4 122.3L66.8 118.5ZM71.8 127.5L70.4 122.3L75.6 123.7ZM66.8 118.5L70.4 122.3L66.2 126.6ZM70.4 122.3L71.8 127.5L66.2 126.6ZM74.1 118L77.9 111.3L80.3 116.9ZM82.3 106.6L77.9 111.3L75.1 106.2ZM80.3 116.9L77.9 111.3L86.4 109.9ZM77.9 111.3L82.3 106.6L86.4 109.9ZM57.7 114.7L52 115.9L53.9 109.9ZM52 115.9L48.9 108L53.9 109.9ZM48.9 108L52 115.9L46 113.7ZM48.9 108L46 113.7L40.3 110.7ZM48.9 108L40.3 110.7L40 105.2ZM46.3 103.1L48.9 108L40 105.2ZM59.4 130.7L65.8 139.2L60.3 139.7ZM54.2 124.5L59.4 130.7L52.2 133.9ZM59.4 130.7L54.2 124.5L62 121.4ZM52 115.9L54.2 124.5L48.3 122.7ZM54.2 124.5L57.7 114.7L62 121.4ZM48.9 108L52.5 103.6L53.9 109.9ZM50.2 98.5L52.5 103.6L46.3 103.1ZM52.5 103.6L48.9 108L46.3 103.1ZM56.3 91.2L61.8 90.7L60.8 99.2ZM55.5 97.5L56.3 91.2L60.8 99.2ZM52.5 103.6L55.5 97.5L60.8 99.2ZM55.5 97.5L52.5 103.6L50.2 98.5ZM55.5 97.5L50.2 98.5L50.8 91.7ZM56.3 91.2L55.5 97.5L50.8 91.7ZM63.2 113.4L66.8 118.5L62 121.4ZM57.7 114.7L63.2 113.4L62 121.4ZM71.8 127.5L68.8 134L66.2 126.6ZM65.8 139.2L68.8 134L71.2 138.7ZM68.8 134L59.4 130.7L66.2 126.6ZM68.8 134L65.8 139.2L59.4 130.7ZM78.9 133.1L68.8 134L71.8 127.5ZM95 115.6L91.8 110.3L98.4 109.7ZM91.8 110.3L95 115.6L87.6 115.5ZM84.3 120.8L91 120.3L88 129.2ZM91 120.3L95 115.6L98 124.2ZM91 120.3L84.3 120.8L87.6 115.5ZM95 115.6L91 120.3L87.6 115.5ZM95.4 131.4L98.7 136L93.2 136.5ZM105.6 104.6L98.1 104L98.9 97.4ZM98.1 104L105.6 104.6L98.4 109.7ZM54.2 124.5L49.6 128.6L48.3 122.7ZM49.6 128.6L54.2 124.5L52.2 133.9ZM42.4 127.1L49.6 128.6L43.8 132.4ZM49.6 128.6L42.4 127.1L48.3 122.7ZM91.3 96.7L85.2 95.2L89.3 88.3ZM85.2 95.2L83.8 88.8L89.3 88.3ZM72.8 89.7L68.6 97.1L67.3 90.2ZM61.8 90.7L68.6 97.1L60.8 99.2ZM68.6 97.1L61.8 90.7L67.3 90.2ZM68.5 112.1L74.1 118L66.8 118.5ZM63.2 113.4L68.5 112.1L66.8 118.5ZM68.5 112.1L77.9 111.3L74.1 118ZM68.5 112.1L69.1 105.2L75.1 106.2ZM77.9 111.3L68.5 112.1L75.1 106.2ZM59.9 108.1L57.7 114.7L53.9 109.9ZM59.9 108.1L63.2 113.4L57.7 114.7ZM52.5 103.6L59.9 108.1L53.9 109.9ZM59.9 108.1L52.5 103.6L60.8 99.2ZM59.9 108.1L68.5 112.1L63.2 113.4ZM84.3 120.8L79.3 127.4L75.6 123.7ZM92.9 125.3L91 120.3L98 124.2ZM78.2 95.1L72.8 89.7L78.3 89.2ZM83.8 88.8L78.2 95.1L78.3 89.2ZM85.2 95.2L78.2 95.1L83.8 88.8ZM63.2 103.9L59.9 108.1L60.8 99.2ZM68.6 97.1L63.2 103.9L60.8 99.2ZM63.2 103.9L68.6 97.1L69.1 105.2ZM68.5 112.1L63.2 103.9L69.1 105.2ZM59.9 108.1L63.2 103.9L68.5 112.1ZM82.2 137.6L76.7 138.1L78.9 133.1ZM68.8 134L76.7 138.1L71.2 138.7ZM78.9 133.1L76.7 138.1L68.8 134ZM87.7 137L82.2 137.6L88 129.2ZM95 115.6L101.9 115.7L98 124.2ZM74.4 99.4L68.6 97.1L72.8 89.7ZM78.2 95.1L74.4 99.4L72.8 89.7ZM69.1 105.2L74.4 99.4L75.1 106.2ZM68.6 97.1L74.4 99.4L69.1 105.2ZM87.7 137L104.2 135.4L49.3 140.8ZM87.7 137L54.8 140.3L60.3 139.7ZM54.8 140.3L87.7 137L49.3 140.8ZM65.8 139.2L87.7 137L60.3 139.7ZM87.7 137L98.7 136L104.2 135.4ZM87.7 137L65.8 139.2L71.2 138.7ZM98.7 136L87.7 137L93.2 136.5ZM76.7 138.1L87.7 137L71.2 138.7ZM87.7 137L76.7 138.1L82.2 137.6Z"/><path fill="#209000" stroke="#209000" d="M191 107.8L196.5 105.4L196.7 111.2ZM185.2 106L178.7 101.2L185.2 99.1ZM196.5 105.4L198.7 99.9L205 104.1ZM203 96.2L202.6 90.4L210.3 94.5ZM198.7 99.9L203 96.2L205 104.1ZM205 80.4L199 71.8L207.3 75.2ZM179.7 109L173.7 109.8L172.9 103.8ZM164.3 116.5L166.8 111.7L169.8 116.1ZM151.8 107.4L153.2 117.2L147.7 117.6ZM183.3 93.1L191 96L185.2 99.1ZM153.2 117.2L158.3 109.8L158.8 116.9ZM158.3 109.8L164.3 116.5L158.8 116.9ZM158.3 109.8L166.8 111.7L164.3 116.5Z"/><path fill="#009010" stroke="#009010" d="M211.8 61.5L206.6 64.9L206.6 58.2ZM201 61.7L202.6 54.5L206.6 58.2ZM206.6 64.9L201 61.7L206.6 58.2ZM201 61.7L191.7 63.4L197.7 56.4ZM191.7 63.4L191.7 57.9L197.7 56.4ZM205.1 70.1L206.6 64.9L211.8 67ZM120.3 112.6L120.8 121.2L115.4 118.2ZM161.3 105.4L158.3 109.8L156.1 102.2ZM158.3 109.8L151.8 107.4L156.1 102.2Z"/><path fill="#0090a0" stroke="#0090a0" d="M118.5 97.9L123.1 100.6L117 103.3ZM113.8 112.2L111.5 106.6L117 103.3ZM113.8 112.2L108.4 112.1L111.5 106.6Z"/><path fill="#000050" stroke="#000050" d="M46 113.7L48.3 122.7L41.5 121.6ZM46 113.7L52 115.9L48.3 122.7ZM40.7 116.2L46 113.7L41.5 121.6ZM46 113.7L40.7 116.2L40.3 110.7ZM54.2 124.5L52 115.9L57.7 114.7ZM101.9 115.7L95 115.6L98.4 109.7Z"/><path fill="#00a070" stroke="#00a070" d="M150.6 97.5L156.1 96.9L156.1 102.2ZM156.1 96.9L161.6 96.3L156.1 102.2ZM108.6 118.5L113.8 112.2L115.4 118.2ZM120.3 112.6L113.8 112.2L117 103.3ZM134.1 99.3L129.1 105.4L128.6 99.9ZM129.1 105.4L123.1 100.6L128.6 99.9Z"/><path fill="#00a050" stroke="#00a050" d="M172.9 103.8L166.8 103.5L167.1 95.7ZM172.5 95L178.7 101.2L172.9 103.8ZM137.9 104.2L129.1 105.4L134.1 99.3ZM146.1 103.7L137.9 104.2L139.6 98.7Z"/><path fill="#00a080" stroke="#00a080" d="M166.8 103.5L161.6 96.3L167.1 95.7Z"/><path fill="#40a000" stroke="#40a000" d="M185.2 106L191 107.8L186.3 114.7ZM179.7 109L185.2 106L186.3 114.7ZM193.2 101.3L196.5 105.4L191 107.8ZM193.2 101.3L185.2 106L185.2 99.1ZM185.2 106L193.2 101.3L191 107.8ZM193.2 101.3L198.7 99.9L196.5 105.4ZM197.2 83.2L206.1 85.8L202.6 90.4ZM197.8 92.8L203 96.2L198.7 99.9ZM203 96.2L197.8 92.8L202.6 90.4ZM197.2 83.2L196.3 77.4L205 80.4ZM183.3 93.1L187.8 90.1L191 96Z"/><path fill="#00a090" stroke="#00a090" d="M172.5 95L172.9 103.8L167.1 95.7ZM123.1 100.6L123.8 107L117 103.3Z"/><path fill="#00a060" stroke="#00a060" d="M178.7 101.2L178 94.4L185.2 99.1ZM137.9 104.2L134.1 99.3L139.6 98.7ZM145.1 98.1L146.1 103.7L139.6 98.7ZM146.1 103.7L145.1 98.1L150.6 97.5ZM129.1 105.4L123.8 107L123.1 100.6ZM123.8 107L120.3 112.6L117 103.3ZM178 94.4L183.3 93.1L185.2 99.1ZM111.7 122.9L108.6 118.5L115.4 118.2Z"/><path fill="#109000" stroke="#109000" d="M178.7 101.2L179.7 109L172.9 103.8ZM199 71.8L191.7 68.9L198.3 66.2ZM191.7 68.9L191.7 63.4L198.3 66.2ZM199 71.8L205.1 70.1L207.3 75.2ZM205.1 70.1L199 71.8L198.3 66.2ZM206.1 85.8L205 80.4L211.8 83.6ZM202.6 90.4L206.1 85.8L211.3 89.1ZM142.2 118L144.8 109.5L147.7 117.6ZM173.7 109.8L166.8 111.7L166.8 103.5ZM131.2 118.8L132.5 112.1L136.7 118.4ZM136.7 118.4L138.9 111.3L142.2 118ZM166.8 111.7L158.3 109.8L161.3 105.4ZM151.8 107.4L158.3 109.8L153.2 117.2ZM131.2 118.8L125.7 119.2L125.6 112.9Z"/><path fill="#00a0a0" stroke="#00a0a0" d="M178.7 101.2L172.5 95L178 94.4Z"/><path fill="#309000" stroke="#309000" d="M178.7 101.2L185.2 106L179.7 109ZM199 71.8L191.7 74.4L191.7 68.9ZM180.8 115.3L179.7 109L186.3 114.7ZM206.1 85.8L197.2 83.2L205 80.4ZM173.7 109.8L175.3 115.7L169.8 116.1ZM180.8 115.3L175.3 115.7L179.7 109ZM166.8 111.7L173.7 109.8L169.8 116.1ZM196.3 77.4L191.7 74.4L199 71.8ZM205 80.4L196.3 77.4L199 71.8Z"/><path fill="#0070a0" stroke="#0070a0" d="M111.5 106.6L108.3 99.5L117 103.3ZM114.2 94.4L118.5 97.9L117 103.3Z"/><path fill="#0060a0" stroke="#0060a0" d="M108.3 99.5L114.2 94.4L117 103.3Z"/><path fill="#0050a0" stroke="#0050a0" d="M110 90.9L114.2 94.4L108.3 99.5Z"/><path fill="#003070" stroke="#003070" d="M103.9 94.8L108.3 99.5L98.9 97.4ZM108.3 99.5L105.6 104.6L98.9 97.4ZM105.6 104.6L108.4 112.1L98.4 109.7ZM103.7 121L101.9 115.7L108.6 118.5ZM103.7 121L106.6 126.3L98 124.2ZM106.6 126.3L101.7 130.4L98 124.2Z"/><path fill="#005070" stroke="#005070" d="M103.9 94.8L110 90.9L108.3 99.5ZM108.4 112.1L105.6 104.6L111.5 106.6ZM108.8 132.6L101.7 130.4L106.6 126.3Z"/><path fill="#004070" stroke="#004070" d="M110 90.9L103.9 94.8L105.7 87.3ZM101.9 115.7L108.4 112.1L108.6 118.5ZM106.6 126.3L103.7 121L108.6 118.5ZM101.7 130.4L108.8 132.6L104.2 135.4Z"/><path fill="#002070" stroke="#002070" d="M103.9 94.8L100.3 87.3L105.7 87.3ZM108.4 112.1L101.9 115.7L98.4 109.7ZM98.7 136L101.7 130.4L104.2 135.4Z"/><path fill="#001070" stroke="#001070" d="M103.9 94.8L98.9 97.4L100.3 87.3ZM101.9 115.7L103.7 121L98 124.2Z"/><path fill="#002050" stroke="#002050" d="M95.4 131.4L93.2 136.5L88 129.2ZM49.6 128.6L52.2 133.9L43.8 132.4ZM90.8 103.3L85.2 95.2L91.3 96.7ZM85.2 95.2L90.8 103.3L81.9 101.3ZM82.2 137.6L78.9 133.1L88 129.2ZM79.3 127.4L71.8 127.5L75.6 123.7ZM79.3 127.4L78.9 133.1L71.8 127.5ZM79.3 127.4L84.3 120.8L88 129.2ZM78.9 133.1L79.3 127.4L88 129.2ZM91 120.3L92.9 125.3L88 129.2ZM92.9 125.3L95.4 131.4L88 129.2ZM95.4 131.4L92.9 125.3L98 124.2ZM78.2 95.1L85.2 95.2L81.9 101.3ZM93.2 136.5L87.7 137L88 129.2ZM74.4 99.4L81.9 101.3L75.1 106.2ZM74.4 99.4L78.2 95.1L81.9 101.3ZM101.7 130.4L95.4 131.4L98 124.2ZM95.4 131.4L101.7 130.4L98.7 136Z"/><path fill="#006070" stroke="#006070" d="M111.5 106.6L105.6 104.6L108.3 99.5ZM111.7 122.9L106.6 126.3L108.6 118.5Z"/><path fill="#00a040" stroke="#00a040" d="M113.8 112.2L120.3 112.6L115.4 118.2ZM211.8 72.6L211.8 78.1L207.3 75.2ZM161.6 96.3L161.3 105.4L156.1 102.2ZM166.8 103.5L161.3 105.4L161.6 96.3ZM151.8 107.4L150.6 97.5L156.1 102.2ZM151.8 107.4L146.1 103.7L150.6 97.5ZM112.8 128.8L111.7 122.9L116.8 125Z"/><path fill="#50a000" stroke="#50a000" d="M193.2 101.3L191 96L198.7 99.9ZM191 96L193.2 101.3L185.2 99.1ZM191 96L197.8 92.8L198.7 99.9ZM197.8 92.8L197.2 83.2L202.6 90.4ZM191.7 74.4L196.3 77.4L191.7 80Z"/><path fill="#007070" stroke="#007070" d="M108.4 112.1L113.8 112.2L108.6 118.5ZM112.8 128.8L108.8 132.6L106.6 126.3ZM111.7 122.9L112.8 128.8L106.6 126.3Z"/><path fill="#00a030" stroke="#00a030" d="M123.8 107L129.1 105.4L125.6 112.9Z"/><path fill="#80a000" stroke="#80a000" d="M197.2 83.2L190.7 85.4L191.7 80ZM190.7 85.4L197.2 83.2L193.2 90.2ZM191 96L187.8 90.1L193.2 90.2Z"/><path fill="#70a000" stroke="#70a000" d="M197.8 92.8L191 96L193.2 90.2ZM197.2 83.2L197.8 92.8L193.2 90.2Z"/><path fill="#90a000" stroke="#90a000" d="M187.8 90.1L190.7 85.4L193.2 90.2Z"/><path fill="#30a000" stroke="#30a000" d="M175.3 115.7L173.7 109.8L179.7 109Z"/><path fill="#60a000" stroke="#60a000" d="M196.3 77.4L197.2 83.2L191.7 80Z"/></g></g><rect x="30" y="40" width="195" height="110" filter="url(#tn1)"/></g><rect x="0" y="0" width="261" height="196" fill="#3399ff" fill-opacity="0.33"/></svg></div>
<div class="thumb" style="left:276px"><svg width="261" height="196" viewBox="0 0 261 196" style="position:absolute;left:0;top:0"><polygon points="38.6,93.5 39.6,91.2 41.5,90.2 104.6,84.6 106.4,84.9 122.6,98.3 180.9,91.8 185.5,89.4 188.4,85.0 189.4,80.1 189.4,50.5 190.2,48.6 193.0,47.4 201.0,46.6 210.0,47.3 213.2,48.6 214.1,50.4 214.1,85.0 213.0,94.0 209.5,102.0 203.9,109.2 197.0,113.8 189.4,116.6 181.0,117.6 123.8,121.6 107.4,137.0 105.5,137.6 47.6,143.3 45.6,142.4 43.0,138.0 40.2,128.0 38.2,115.0 37.6,104.0 38.0,97.0" fill="#00030c" stroke="#00030c" stroke-width="0.6"/><g clip-path="url(#tS)"><g filter="url(#tb)"><g stroke-width="0.8" stroke-linejoin="round"><path fill="#60c000" stroke="#60c000" d="M206.3 49.3L203.3 54.5L200.8 48.9ZM211.8 56L211.8 61.5L205.9 59.5ZM198 55.4L195.3 49.5L200.8 48.9ZM201.7 99.4L208.1 99.6L205 104.1ZM178 94.4L178.5 103.7L173.5 101.4ZM117.5 110.1L124.1 109.5L120.2 115.5ZM146.5 104.2L139.6 105L145.1 98.1ZM146.5 104.2L150.6 97.5L155.4 103.4Z"/><path fill="#70c000" stroke="#70c000" d="M203.3 54.5L211.8 56L205.9 59.5ZM211.8 56L203.3 54.5L206.3 49.3ZM203.3 54.5L198 55.4L200.8 48.9ZM191.7 52.3L195.3 49.5L198 55.4ZM192.5 108.2L196.7 111.2L191.6 113.3ZM155.4 103.4L156.1 96.9L162.7 102.9ZM191.7 57.9L191.7 52.3L198 55.4Z"/><path fill="#50c000" stroke="#50c000" d="M211.8 56L206.3 49.3L211.6 50.5ZM206.5 67L211.8 61.5L211.8 67ZM211.8 72.6L206.5 67L211.8 67ZM132.5 104.7L134.1 99.3L139.6 105ZM132.5 104.7L124.1 109.5L128.6 99.9ZM112.9 118.5L117.5 110.1L120.2 115.5Z"/><path fill="#a0d000" stroke="#a0d000" d="M205.1 84.3L211.8 78.1L211.8 83.6ZM211.3 89.1L205.1 84.3L211.8 83.6ZM206.5 67L200.7 60L205.9 59.5ZM124.1 109.5L132.5 104.7L131.1 109.9ZM191.7 63.4L191.7 57.9L200.7 60Z"/><path fill="#003090" stroke="#003090" d="M100.5 94.5L100.3 87.3L105.7 87.3ZM100.3 120.4L99.8 114.5L104.5 117.2ZM99.8 114.5L98.4 104.5L105.4 111.7Z"/><path fill="#80c000" stroke="#80c000" d="M200.7 60L203.3 54.5L205.9 59.5ZM200.7 60L198 55.4L203.3 54.5ZM196.7 111.2L198 103.9L201.3 108.2ZM201.3 108.2L198 103.9L205 104.1ZM200.7 60L191.7 57.9L198 55.4Z"/><path fill="#001020" stroke="#001020" d="M93 107.1L87.4 114.7L84.8 109.2ZM98.4 104.5L99.8 114.5L93 107.1Z"/><path fill="#002070" stroke="#002070" d="M86.7 104.2L93 107.1L84.8 109.2ZM53.4 110.6L50.5 115.3L45.1 112.9ZM45.8 104.6L53.4 110.6L45.1 112.9ZM53.4 110.6L45.8 104.6L53.6 104.7ZM93.2 93.5L84 94.2L89.3 88.3ZM93.2 93.5L94.8 87.8L100.5 94.5ZM78 106.9L86.7 104.2L84.8 109.2ZM78 106.9L70 105.3L73.9 101.7ZM78 95.1L73.9 101.7L72.1 96ZM78 95.1L78.3 89.2L84 94.2ZM70 105.3L71 110.8L65.1 108ZM78 106.9L71 110.8L70 105.3ZM45.8 104.6L49.1 98.2L53.6 104.7ZM93.2 93.5L88.1 98.9L84 94.2ZM84 94.2L83.8 88.8L89.3 88.3ZM78.3 89.2L83.8 88.8L84 94.2ZM67.3 90.2L72.8 89.7L72.1 96ZM72.8 89.7L78 95.1L72.1 96ZM72.8 89.7L78.3 89.2L78 95.1ZM71.2 138.7L65.8 139.2L70.1 129.3ZM75.6 132L71.2 138.7L70.1 129.3ZM65.4 113.2L59.3 109.6L65.1 108ZM59.3 109.6L53.4 110.6L53.6 104.7ZM90.7 121.9L85.3 119.8L87.4 114.7ZM85.3 119.8L82.6 125.5L79.9 121ZM49.1 98.2L55.2 99L53.6 104.7ZM56.3 91.2L55.2 99L50.8 91.7ZM55.2 99L49.1 98.2L50.8 91.7ZM95.1 100.3L93 107.1L86.7 104.2ZM95.1 100.3L98.4 104.5L93 107.1ZM98.4 104.5L95.1 100.3L101.4 100.1ZM95.1 100.3L93.2 93.5L100.5 94.5ZM101.4 100.1L95.1 100.3L100.5 94.5ZM65.8 139.2L63.1 130.9L70.1 129.3ZM76.7 138.1L75.6 132L82.2 137.6ZM75.6 132L76.7 138.1L71.2 138.7ZM73 124.3L76.4 116.3L79.9 121ZM82.6 125.5L73 124.3L79.9 121ZM92.8 115L100.3 120.4L90.7 121.9ZM61.8 90.7L60.7 96.9L56.3 91.2ZM60.7 96.9L55.2 99L56.3 91.2ZM56.7 116.7L59.3 109.6L65.4 113.2ZM59.3 109.6L56.7 116.7L53.4 110.6ZM53.4 110.6L56.7 116.7L50.5 115.3ZM67.9 122L73 124.3L70.1 129.3ZM63.1 130.9L67.9 122L70.1 129.3ZM59.3 109.6L59.3 103.7L65.1 108ZM60.7 96.9L59.3 103.7L55.2 99ZM59.3 103.7L59.3 109.6L53.6 104.7ZM55.2 99L59.3 103.7L53.6 104.7ZM65.1 102.5L70 105.3L65.1 108ZM59.3 103.7L65.1 102.5L65.1 108ZM65.1 102.5L59.3 103.7L60.7 96.9ZM73.9 101.7L65.1 102.5L72.1 96ZM70 105.3L65.1 102.5L73.9 101.7ZM65.1 102.5L66.5 95.9L72.1 96ZM66.5 95.9L65.1 102.5L60.7 96.9ZM66.5 95.9L67.3 90.2L72.1 96ZM66.5 95.9L61.8 90.7L67.3 90.2ZM66.5 95.9L60.7 96.9L61.8 90.7ZM87.7 137L104.2 135.4L49.3 140.8ZM87.7 137L98.7 136L104.2 135.4ZM87.7 137L76.7 138.1L82.2 137.6ZM87.7 137L65.8 139.2L71.2 138.7ZM98.7 136L87.7 137L93.2 136.5ZM76.7 138.1L87.7 137L71.2 138.7Z"/><path fill="#000020" stroke="#000020" d="M76.4 116.3L81.9 115.1L79.9 121ZM87.4 114.7L81.9 115.1L84.8 109.2ZM81.9 115.1L78 106.9L84.8 109.2ZM78 106.9L81.9 115.1L76.4 116.3ZM71 110.8L78 106.9L76.4 116.3ZM71 110.8L65.4 113.2L65.1 108ZM71.2 117.3L71 110.8L76.4 116.3ZM71.2 117.3L65.4 113.2L71 110.8ZM85.3 119.8L81.9 115.1L87.4 114.7ZM73 124.3L71.2 117.3L76.4 116.3ZM92.8 115L90.7 121.9L87.4 114.7ZM93 107.1L92.8 115L87.4 114.7ZM71.2 117.3L67.9 122L65.4 113.2ZM92.8 115L99.8 114.5L100.3 120.4ZM99.8 114.5L92.8 115L93 107.1Z"/><path fill="#c0d000" stroke="#c0d000" d="M208.1 99.6L203.2 90.5L210.3 94.5ZM197.4 65.7L191.7 63.4L200.7 60ZM205.3 72.3L206.5 67L211.8 72.6ZM135.9 112.8L132.5 104.7L139.6 105Z"/><path fill="#d0d000" stroke="#d0d000" d="M203.2 90.5L211.3 89.1L210.3 94.5ZM132.5 104.7L135.9 112.8L131.1 109.9ZM146.5 104.2L141.2 111.8L139.6 105Z"/><path fill="#d0b000" stroke="#d0b000" d="M211.3 89.1L203.2 90.5L205.1 84.3ZM205.1 84.3L203.9 77.8L211.8 78.1ZM198 103.9L201.7 99.4L205 104.1ZM201.7 99.4L203.2 90.5L208.1 99.6ZM173.5 101.4L178.5 103.7L174.2 107.7ZM161.9 108.5L155 108.8L155.4 103.4ZM198.1 71.9L205.3 72.3L203.9 77.8ZM190.5 94.6L184.1 101.7L183.3 93.1ZM135.9 112.8L127.5 114.2L131.1 109.9ZM146.5 104.2L148.3 112.1L141.2 111.8ZM148.3 112.1L146.5 104.2L155 108.8Z"/><path fill="#40c000" stroke="#40c000" d="M168.3 103.2L162.7 102.9L167.1 95.7ZM134.1 99.3L139.6 98.7L139.6 105Z"/><path fill="#90d000" stroke="#90d000" d="M211.8 61.5L206.5 67L205.9 59.5ZM127.5 114.2L124.1 109.5L131.1 109.9ZM205.3 72.3L211.8 72.6L211.8 78.1ZM120.8 121.2L112.9 118.5L120.2 115.5ZM112.9 118.5L120.8 121.2L116.8 125Z"/><path fill="#001070" stroke="#001070" d="M100.5 94.5L94.8 87.8L100.3 87.3ZM50.5 134.5L54.8 140.3L49.3 140.8ZM45.5 137.7L50.5 134.5L49.3 140.8ZM94.8 87.8L93.2 93.5L89.3 88.3ZM49.1 98.2L45.3 92.2L50.8 91.7ZM54.8 140.3L56.4 132.7L60.3 139.7ZM50.5 134.5L56.4 132.7L54.8 140.3ZM81.9 115.1L85.3 119.8L79.9 121ZM63.1 130.9L65.8 139.2L60.3 139.7ZM56.4 132.7L63.1 130.9L60.3 139.7ZM60.6 122.4L56.7 116.7L65.4 113.2ZM52.8 120.9L56.7 116.7L60.6 122.4ZM52.8 120.9L47 119.4L50.5 115.3ZM56.7 116.7L52.8 120.9L50.5 115.3ZM56.4 126.8L63.1 130.9L56.4 132.7ZM63.1 130.9L56.4 126.8L60.6 122.4ZM56.4 126.8L52.8 120.9L60.6 122.4ZM73 124.3L67.9 122L71.2 117.3ZM67.9 122L60.6 122.4L65.4 113.2ZM67.9 122L63.1 130.9L60.6 122.4ZM52.8 120.9L50.9 127L47 119.4ZM56.4 126.8L50.9 127L52.8 120.9ZM50.9 127L50.5 134.5L43.8 132.4ZM50.9 127L56.4 132.7L50.5 134.5ZM50.9 127L56.4 126.8L56.4 132.7ZM54.8 140.3L87.7 137L49.3 140.8ZM87.7 137L54.8 140.3L60.3 139.7ZM65.8 139.2L87.7 137L60.3 139.7Z"/><path fill="#d0a000" stroke="#d0a000" d="M186.7 107.1L191.6 113.3L186.3 114.7ZM192.5 108.2L198 103.9L196.7 111.2ZM169.4 110.3L168.3 103.2L174.2 107.7ZM169.4 110.3L161.9 108.5L168.3 103.2ZM198.5 78.1L203.9 77.8L205.1 84.3ZM198.5 78.1L198.1 71.9L203.9 77.8ZM198.1 71.9L191.7 74.4L191.7 68.9ZM135.9 112.8L131.2 118.8L127.5 114.2ZM136.7 118.4L131.2 118.8L135.9 112.8ZM136.7 118.4L135.9 112.8L141.2 111.8ZM148.3 112.1L142.2 118L141.2 111.8Z"/><path fill="#d09000" stroke="#d09000" d="M186.7 107.1L192.5 108.2L191.6 113.3ZM189.7 101.3L198 103.9L192.5 108.2ZM203.2 90.5L196 85.5L205.1 84.3ZM197.1 95.7L201.7 99.4L198 103.9ZM201.7 99.4L197.1 95.7L203.2 90.5ZM161.9 108.5L169.4 110.3L164.3 116.5ZM184.1 101.7L189.7 101.3L186.7 107.1ZM180.5 108.8L184.1 101.7L186.7 107.1ZM158.8 116.9L153.2 117.2L155 108.8ZM161.9 108.5L158.8 116.9L155 108.8ZM198.5 78.1L191.7 74.4L198.1 71.9ZM187.8 90.1L190.5 94.6L183.3 93.1ZM148.3 112.1L153.2 117.2L147.7 117.6ZM153.2 117.2L148.3 112.1L155 108.8ZM142.2 118L136.7 118.4L141.2 111.8ZM142.2 118L148.3 112.1L147.7 117.6Z"/><path fill="#001030" stroke="#001030" d="M40.7 116.2L40.3 110.7L45.1 112.9ZM45.8 104.6L40.3 110.7L40 105.2ZM40.3 110.7L45.8 104.6L45.1 112.9ZM50.5 134.5L45.5 137.7L43.8 132.4ZM40.2 99.6L45.8 104.6L40 105.2ZM40.2 99.6L49.1 98.2L45.8 104.6ZM45.3 92.2L49.1 98.2L40.8 94.2ZM49.1 98.2L40.2 99.6L40.8 94.2ZM47 119.4L42.4 127.1L41.5 121.6ZM50.5 115.3L47 119.4L45.1 112.9ZM47 119.4L40.7 116.2L45.1 112.9ZM47 119.4L41.5 121.6L40.7 116.2ZM47 119.4L50.9 127L42.4 127.1ZM42.4 127.1L50.9 127L43.8 132.4Z"/><path fill="#006090" stroke="#006090" d="M110 90.9L100.5 94.5L105.7 87.3ZM110 90.9L106 97.4L100.5 94.5ZM101.4 100.1L106 97.4L107.2 105ZM100.2 127.7L108.8 132.6L104.2 135.4Z"/><path fill="#009090" stroke="#009090" d="M106 97.4L111.7 99.1L107.2 105Z"/><path fill="#0060d0" stroke="#0060d0" d="M118.5 97.9L111.7 99.1L114.2 94.4ZM111.7 99.1L115.1 105.3L107.2 105Z"/><path fill="#0040d0" stroke="#0040d0" d="M111.7 99.1L110 90.9L114.2 94.4Z"/><path fill="#009080" stroke="#009080" d="M110 90.9L111.7 99.1L106 97.4ZM110.8 109L112.9 118.5L105.4 111.7Z"/><path fill="#005090" stroke="#005090" d="M106 97.4L101.4 100.1L100.5 94.5ZM105.4 111.7L98.4 104.5L107.2 105ZM107.8 123.4L100.3 120.4L104.5 117.2ZM100.2 127.7L100.3 120.4L107.8 123.4Z"/><path fill="#00c020" stroke="#00c020" d="M162.7 102.9L161.6 96.3L167.1 95.7ZM124.1 109.5L117.5 110.1L115.1 105.3ZM184.1 101.7L178 94.4L183.3 93.1Z"/><path fill="#00c000" stroke="#00c000" d="M156.1 96.9L161.6 96.3L162.7 102.9Z"/><path fill="#20c000" stroke="#20c000" d="M173.5 101.4L168.3 103.2L167.1 95.7ZM155.4 103.4L150.6 97.5L156.1 96.9ZM112.9 118.5L116.8 125L107.8 123.4ZM116.8 125L112.8 128.8L107.8 123.4Z"/><path fill="#d0c000" stroke="#d0c000" d="M168.3 103.2L173.5 101.4L174.2 107.7ZM198.1 71.9L197.4 65.7L206.5 67ZM197.4 65.7L198.1 71.9L191.7 68.9ZM191.7 63.4L197.4 65.7L191.7 68.9ZM161.9 108.5L155.4 103.4L162.7 102.9ZM168.3 103.2L161.9 108.5L162.7 102.9ZM205.3 72.3L198.1 71.9L206.5 67ZM203.9 77.8L205.3 72.3L211.8 78.1ZM127.5 114.2L125.7 119.2L120.2 115.5ZM141.2 111.8L135.9 112.8L139.6 105ZM155 108.8L146.5 104.2L155.4 103.4ZM125.7 119.2L120.8 121.2L120.2 115.5ZM131.2 118.8L125.7 119.2L127.5 114.2Z"/><path fill="#b0d000" stroke="#b0d000" d="M206.5 67L197.4 65.7L200.7 60ZM124.1 109.5L127.5 114.2L120.2 115.5ZM184.1 101.7L178.5 103.7L178 94.4Z"/><path fill="#d08000" stroke="#d08000" d="M186.7 107.1L189.7 101.3L192.5 108.2ZM189.7 101.3L197.1 95.7L198 103.9ZM169.4 110.3L169.8 116.1L164.3 116.5ZM178.5 103.7L180.5 108.8L174.2 107.7ZM180.5 108.8L186.7 107.1L186.3 114.7ZM184.1 101.7L180.5 108.8L178.5 103.7ZM184.1 101.7L190.5 94.6L189.7 101.3ZM180.8 115.3L180.5 108.8L186.3 114.7ZM158.8 116.9L161.9 108.5L164.3 116.5ZM196 85.5L198.5 78.1L205.1 84.3ZM191.7 74.4L198.5 78.1L191.7 80ZM175.3 115.7L169.4 110.3L174.2 107.7ZM175.3 115.7L169.8 116.1L169.4 110.3ZM180.5 108.8L175.3 115.7L174.2 107.7ZM180.8 115.3L175.3 115.7L180.5 108.8Z"/><path fill="#00c0d0" stroke="#00c0d0" d="M115.1 105.3L118.5 97.9L123.1 100.6Z"/><path fill="#0070d0" stroke="#0070d0" d="M115.1 105.3L111.7 99.1L118.5 97.9ZM115.1 105.3L110.8 109L107.2 105Z"/><path fill="#008090" stroke="#008090" d="M110.8 109L105.4 111.7L107.2 105ZM112.9 118.5L107.8 123.4L104.5 117.2Z"/><path fill="#003070" stroke="#003070" d="M80 100.3L78 106.9L73.9 101.7ZM78 95.1L80 100.3L73.9 101.7ZM78 106.9L80 100.3L86.7 104.2ZM80 100.3L78 95.1L84 94.2ZM80 100.3L88.1 98.9L86.7 104.2ZM88.1 98.9L80 100.3L84 94.2ZM75.6 132L81.1 130.5L82.2 137.6ZM82.6 125.5L85.3 119.8L90.7 121.9ZM98.7 136L93.2 136.5L93.7 130.1ZM88.1 98.9L95.1 100.3L86.7 104.2ZM95.1 100.3L88.1 98.9L93.2 93.5ZM73 124.3L75.6 132L70.1 129.3ZM75.6 132L73 124.3L81.1 130.5ZM73 124.3L82.6 125.5L81.1 130.5ZM100.3 120.4L95.3 125L90.7 121.9ZM86.8 130.8L87.7 137L82.2 137.6ZM87.7 137L86.8 130.8L93.2 136.5ZM100.2 127.7L95.3 125L100.3 120.4ZM100.2 127.7L98.7 136L93.7 130.1Z"/><path fill="#004090" stroke="#004090" d="M98.4 104.5L101.4 100.1L107.2 105ZM98.7 136L100.2 127.7L104.2 135.4ZM99.8 114.5L105.4 111.7L104.5 117.2Z"/><path fill="#00c060" stroke="#00c060" d="M172.5 95L173.5 101.4L167.1 95.7ZM172.5 95L178 94.4L173.5 101.4ZM124.1 109.5L115.1 105.3L123.1 100.6Z"/><path fill="#004070" stroke="#004070" d="M81.1 130.5L86.8 130.8L82.2 137.6ZM93.2 136.5L86.8 130.8L93.7 130.1ZM82.6 125.5L86.8 130.8L81.1 130.5ZM86.8 130.8L90.7 121.9L93.7 130.1ZM86.8 130.8L82.6 125.5L90.7 121.9ZM90.7 121.9L95.3 125L93.7 130.1ZM95.3 125L100.2 127.7L93.7 130.1Z"/><path fill="#10c000" stroke="#10c000" d="M134.1 99.3L132.5 104.7L128.6 99.9Z"/><path fill="#007090" stroke="#007090" d="M105.4 111.7L112.9 118.5L104.5 117.2ZM108.8 132.6L100.2 127.7L107.8 123.4Z"/><path fill="#00c040" stroke="#00c040" d="M124.1 109.5L123.1 100.6L128.6 99.9Z"/><path fill="#00d0c0" stroke="#00d0c0" d="M117.5 110.1L110.8 109L115.1 105.3Z"/><path fill="#00c050" stroke="#00c050" d="M117.5 110.1L112.9 118.5L110.8 109Z"/><path fill="#30c000" stroke="#30c000" d="M139.6 105L139.6 98.7L145.1 98.1ZM150.6 97.5L146.5 104.2L145.1 98.1Z"/><path fill="#d06000" stroke="#d06000" d="M191.7 80L196 85.5L190.7 85.4ZM196 85.5L195.7 90.7L190.7 85.4ZM195.7 90.7L187.8 90.1L190.7 85.4ZM187.8 90.1L195.7 90.7L190.5 94.6Z"/><path fill="#d07000" stroke="#d07000" d="M190.5 94.6L197.1 95.7L189.7 101.3ZM191.7 80L198.5 78.1L196 85.5ZM190.5 94.6L195.7 90.7L197.1 95.7ZM195.7 90.7L196 85.5L203.2 90.5ZM197.1 95.7L195.7 90.7L203.2 90.5Z"/><path fill="#009060" stroke="#009060" d="M112.8 128.8L108.8 132.6L107.8 123.4Z"/></g></g><rect x="30" y="40" width="195" height="110" filter="url(#tn2)"/></g></svg></div>
<div class="thumb" style="left:543px"><svg width="261" height="196" viewBox="0 0 261 196" style="position:absolute;left:0;top:0"><polygon points="38.6,93.5 39.6,91.2 41.5,90.2 104.6,84.6 106.4,84.9 122.6,98.3 180.9,91.8 185.5,89.4 188.4,85.0 189.4,80.1 189.4,50.5 190.2,48.6 193.0,47.4 201.0,46.6 210.0,47.3 213.2,48.6 214.1,50.4 214.1,85.0 213.0,94.0 209.5,102.0 203.9,109.2 197.0,113.8 189.4,116.6 181.0,117.6 123.8,121.6 107.4,137.0 105.5,137.6 47.6,143.3 45.6,142.4 43.0,138.0 40.2,128.0 38.2,115.0 37.6,104.0 38.0,97.0" fill="#00030c" stroke="#00030c" stroke-width="0.6"/><g clip-path="url(#tS)"><g filter="url(#tb)"><g stroke-width="0.8" stroke-linejoin="round"><path fill="#80a000" stroke="#80a000" d="M206.2 55.4L206.3 49.3L211.6 50.5ZM206.3 49.3L206.2 55.4L200.8 48.9ZM206.2 55.4L211.8 56L206.4 61.3ZM126.3 107.8L131 112.7L125 113.7ZM195.3 49.5L198.7 57L191.7 52.3ZM206.2 55.4L198.7 57L200.8 48.9ZM198.7 57L195.3 49.5L200.8 48.9ZM169.3 100.6L174.9 99.7L176.2 108.3ZM169.3 100.6L167.8 106.5L160.9 105.5ZM114.7 117.7L120.8 121.2L116.8 125ZM145.1 104.1L147.9 109.5L141.5 109.2ZM153.6 109.1L154.1 102.8L160.9 105.5Z"/><path fill="#000030" stroke="#000030" d="M51.4 130.8L45.5 137.7L43.8 132.4ZM48.5 106.7L40.3 110.7L40 105.2ZM42.4 127.1L51.4 130.8L43.8 132.4ZM48.7 97.9L40.2 99.6L40.8 94.2ZM40.2 99.6L45.2 101.9L40 105.2ZM45.3 92.2L48.7 97.9L40.8 94.2ZM40.7 116.2L48.5 115L41.5 121.6ZM48.5 115L40.7 116.2L40.3 110.7ZM48.5 115L47.3 122.9L41.5 121.6ZM47.3 122.9L42.4 127.1L41.5 121.6ZM42.4 127.1L47.3 122.9L51.4 130.8Z"/><path fill="#001050" stroke="#001050" d="M45.5 137.7L51.4 130.8L49.3 140.8ZM51.4 130.8L54.8 140.3L49.3 140.8ZM57 98.5L48.7 97.9L50.8 91.7ZM51.4 130.8L58.9 134.2L54.8 140.3ZM55.8 126.5L58.9 134.2L51.4 130.8ZM48.7 97.9L45.3 92.2L50.8 91.7ZM53 110.2L48.5 115L48.5 106.7ZM48.5 115L53 110.2L54.9 115ZM47.3 122.9L55.8 126.5L51.4 130.8ZM65.1 133.7L74.1 133L71.2 138.7ZM60.9 129.1L58.9 134.2L55.8 126.5ZM60.9 129.1L65.1 133.7L58.9 134.2ZM56.3 91.2L57 98.5L50.8 91.7ZM62.7 115.7L57.6 121.4L54.9 115ZM57.6 121.4L62.7 115.7L64.1 124.7ZM60.9 129.1L57.6 121.4L64.1 124.7ZM57.6 121.4L60.9 129.1L55.8 126.5ZM52.1 120.4L48.5 115L54.9 115ZM52.1 120.4L47.3 122.9L48.5 115ZM57.6 121.4L52.1 120.4L54.9 115ZM47.3 122.9L52.1 120.4L55.8 126.5ZM52.1 120.4L57.6 121.4L55.8 126.5ZM65.8 139.2L65.1 133.7L71.2 138.7ZM74.1 133L76.7 138.1L71.2 138.7ZM69.2 126.8L60.9 129.1L64.1 124.7ZM60.9 129.1L69.2 126.8L65.1 133.7ZM83.1 95.4L83.8 88.8L89.3 88.3ZM78.3 89.2L83.8 88.8L83.1 95.4ZM67.3 90.2L72.8 89.7L71.3 95.5ZM72.8 89.7L76.7 95.9L71.3 95.5ZM72.8 89.7L78.3 89.2L76.7 95.9ZM94.8 87.8L94.4 93.3L89.3 88.3ZM94.4 93.3L89.2 97L89.3 88.3ZM94.4 93.3L94.8 87.8L100.3 87.3ZM102.9 93.8L94.4 93.3L100.3 87.3ZM58.9 134.2L60.3 139.7L54.8 140.3ZM65.1 133.7L60.3 139.7L58.9 134.2ZM65.8 139.2L60.3 139.7L65.1 133.7ZM56 104.2L53 110.2L48.5 106.7ZM48.7 97.9L56 104.2L48.5 106.7ZM63.5 96.3L61.8 90.7L67.3 90.2ZM63.5 96.3L67.3 90.2L71.3 95.5ZM56.3 91.2L63.5 96.3L57 98.5ZM61.8 90.7L63.5 96.3L56.3 91.2ZM94.2 122.5L96.8 113.4L99.5 121.4ZM96.8 113.4L94.2 122.5L89.7 119.7ZM74.2 124.3L69.2 119.5L78 119.4ZM62.7 115.7L69.2 119.5L64.1 124.7ZM69.2 119.5L69.2 126.8L64.1 124.7ZM69.2 126.8L69.2 119.5L74.2 124.3ZM56 104.2L63.1 108.9L53 110.2ZM53 110.2L63.1 108.9L54.9 115ZM63.1 108.9L62.7 115.7L54.9 115ZM72.4 109.7L67.9 106.8L72.2 101.3ZM67.9 106.8L63.1 108.9L65.7 101.4ZM63.1 108.9L67.5 112.6L62.7 115.7Z"/><path fill="#60a000" stroke="#60a000" d="M211.8 61.5L211.8 67L206.4 61.3ZM204.9 93.1L211.3 89.1L210.3 94.5ZM211.8 72.6L206.2 71.4L211.8 67ZM119.4 111.5L126.3 107.8L125 113.7ZM139.8 103.9L145.1 104.1L141.5 109.2ZM199.3 103.2L201.3 108.2L196.7 111.2Z"/><path fill="#70a000" stroke="#70a000" d="M211.8 56L211.8 61.5L206.4 61.3ZM211.8 56L206.2 55.4L211.6 50.5ZM131 112.7L126.3 107.8L135.4 108.2ZM139.8 103.9L141.5 109.2L135.4 108.2ZM119.4 111.5L120.8 121.2L114.7 117.7ZM145.1 104.1L154.1 102.8L147.9 109.5Z"/><path fill="#001030" stroke="#001030" d="M48.5 115L40.3 110.7L48.5 106.7ZM45.2 101.9L48.7 97.9L48.5 106.7ZM48.7 97.9L45.2 101.9L40.2 99.6ZM45.2 101.9L48.5 106.7L40 105.2Z"/><path fill="#000020" stroke="#000020" d="M92.1 110.8L89.7 119.7L87.6 113.4ZM89.7 119.7L84.6 121.1L87.6 113.4ZM93.2 102.3L97.6 107.4L92.1 110.8ZM86.8 105.1L92.1 110.8L87.6 113.4ZM81.5 107.4L86.8 105.1L87.6 113.4ZM78.4 112.5L76.6 104.7L81.5 107.4ZM78.4 112.5L81.5 107.4L87.6 113.4ZM84.6 121.1L78.4 112.5L87.6 113.4ZM78.4 112.5L84.6 121.1L78 119.4ZM97.6 107.4L96.8 113.4L92.1 110.8ZM96.8 113.4L89.7 119.7L92.1 110.8ZM78.4 112.5L72.4 109.7L76.6 104.7ZM101.9 115.1L96.8 113.4L97.6 107.4ZM96.8 113.4L101.9 115.1L99.5 121.4ZM73.6 115.2L72.4 109.7L78.4 112.5ZM73.6 115.2L78.4 112.5L78 119.4ZM69.2 119.5L73.6 115.2L78 119.4ZM73.6 115.2L67.5 112.6L72.4 109.7ZM67.5 112.6L67.9 106.8L72.4 109.7ZM67.9 106.8L67.5 112.6L63.1 108.9ZM67.5 112.6L69.2 119.5L62.7 115.7ZM67.5 112.6L73.6 115.2L69.2 119.5Z"/><path fill="#40a000" stroke="#40a000" d="M208.1 99.6L204.9 93.1L210.3 94.5ZM111.5 123.2L114.7 117.7L116.8 125Z"/><path fill="#002050" stroke="#002050" d="M76.7 95.9L83.1 95.4L81.3 101.7ZM94.2 122.5L92.9 128.3L89.7 119.7ZM99.6 129.3L94.2 122.5L99.5 121.4ZM76.7 95.9L72.2 101.3L71.3 95.5ZM76.7 95.9L78.3 89.2L83.1 95.4ZM97.6 107.4L93.2 102.3L102.2 103.7ZM78.5 128.4L74.2 124.3L78 119.4ZM84.6 121.1L78.5 128.4L78 119.4ZM78.5 128.4L74.1 133L74.2 124.3ZM85.7 128L84.6 121.1L89.7 119.7ZM83.1 95.4L89.2 97L81.3 101.7ZM89.2 97L83.1 95.4L89.3 88.3ZM86.8 105.1L93.2 102.3L92.1 110.8ZM86.8 105.1L81.5 107.4L81.3 101.7ZM89.2 97L86.8 105.1L81.3 101.7ZM86.8 105.1L89.2 97L93.2 102.3ZM93.2 102.3L98.9 98.4L102.2 103.7ZM82.2 137.6L76.7 138.1L82.3 132.1ZM76.7 138.1L74.1 133L82.3 132.1ZM74.1 133L69.2 126.8L74.2 124.3ZM69.2 126.8L74.1 133L65.1 133.7ZM81.5 107.4L76.6 104.7L81.3 101.7ZM76.6 104.7L76.7 95.9L81.3 101.7ZM76.6 104.7L72.2 101.3L76.7 95.9ZM72.2 101.3L65.7 101.4L71.3 95.5ZM98.7 136L93.2 136.5L92.9 128.3ZM93.2 136.5L87.7 137L92.9 128.3ZM87.7 137L82.2 137.6L82.3 132.1ZM89.2 97L94.4 93.3L93.2 102.3ZM94.4 93.3L98.9 98.4L93.2 102.3ZM98.9 98.4L94.4 93.3L102.9 93.8ZM65.7 101.4L56 104.2L57 98.5ZM57 98.5L56 104.2L48.7 97.9ZM65.7 101.4L63.5 96.3L71.3 95.5ZM63.5 96.3L65.7 101.4L57 98.5ZM76.6 104.7L72.4 109.7L72.2 101.3ZM63.1 108.9L56 104.2L65.7 101.4ZM67.9 106.8L65.7 101.4L72.2 101.3Z"/><path fill="#004070" stroke="#004070" d="M105.3 119.8L104.9 125.7L99.5 121.4ZM104.9 125.7L99.6 129.3L99.5 121.4ZM107.6 104.2L105.1 110.7L102.2 103.7ZM101.9 115.1L105.1 110.7L105.3 119.8Z"/><path fill="#003050" stroke="#003050" d="M94.2 122.5L99.6 129.3L92.9 128.3ZM74.1 133L78.5 128.4L82.3 132.1ZM92.9 128.3L85.7 128L89.7 119.7ZM78.5 128.4L85.7 128L82.3 132.1ZM85.7 128L78.5 128.4L84.6 121.1ZM99.6 129.3L98.7 136L92.9 128.3ZM87.7 137L85.7 128L92.9 128.3ZM85.7 128L87.7 137L82.3 132.1Z"/><path fill="#20a000" stroke="#20a000" d="M135.4 108.2L126.3 107.8L128.6 99.9ZM126.3 107.8L119.4 111.5L120.4 105ZM134.1 99.3L139.8 103.9L135.4 108.2Z"/><path fill="#00a030" stroke="#00a030" d="M126.3 107.8L123.1 100.6L128.6 99.9ZM119.4 111.5L115.4 106.7L120.4 105Z"/><path fill="#00a020" stroke="#00a020" d="M123.1 100.6L126.3 107.8L120.4 105ZM160.9 105.5L156.1 96.9L161.6 96.3ZM181.8 102L174.9 99.7L178 94.4ZM156.1 96.9L154.1 102.8L150.6 97.5Z"/><path fill="#003070" stroke="#003070" d="M102.9 93.8L100.3 87.3L105.7 87.3ZM98.9 98.4L102.9 93.8L102.2 103.7ZM98.7 136L99.6 129.3L104.2 135.4ZM101.9 115.1L105.3 119.8L99.5 121.4Z"/><path fill="#005070" stroke="#005070" d="M110 90.9L102.9 93.8L105.7 87.3ZM99.6 129.3L108.8 132.6L104.2 135.4ZM108.8 132.6L99.6 129.3L104.9 125.7ZM105.3 119.8L105.1 110.7L110.8 110.8ZM102.9 93.8L109 96.1L102.2 103.7ZM109 96.1L107.6 104.2L102.2 103.7Z"/><path fill="#b0a000" stroke="#b0a000" d="M206.8 76.6L206.2 71.4L211.8 72.6ZM203.7 82.1L206.8 76.6L211.8 83.6ZM211.3 89.1L203.7 82.1L211.8 83.6ZM131 112.7L131.2 118.8L125 113.7ZM147.9 109.5L142.2 118L141.5 109.2ZM160.9 105.5L167.8 106.5L160.1 110.7ZM183.3 93.1L187.8 90.1L186.3 99.4ZM174.9 99.7L181.8 102L176.2 108.3ZM142.2 118L137.6 112.9L141.5 109.2ZM131.2 118.8L125.7 119.2L125 113.7ZM167.8 106.5L169.3 100.6L176.2 108.3ZM197.1 70.5L204.3 66.3L206.2 71.4ZM137.6 112.9L136.7 118.4L131 112.7ZM125.7 119.2L120.8 121.2L125 113.7ZM153.6 109.1L160.9 105.5L160.1 110.7ZM153.6 109.1L153.2 117.2L147.9 109.5ZM197.1 70.5L199 64.5L204.3 66.3ZM199 64.5L191.7 68.9L191.7 63.4ZM204.3 66.3L199 64.5L206.4 61.3Z"/><path fill="#50a000" stroke="#50a000" d="M206.8 76.6L211.8 78.1L211.8 83.6ZM211.8 78.1L206.8 76.6L211.8 72.6ZM201.3 108.2L199.3 103.2L205 104.1Z"/><path fill="#00a090" stroke="#00a090" d="M174.9 99.7L172.5 95L178 94.4Z"/><path fill="#30a000" stroke="#30a000" d="M202.7 99.3L208.1 99.6L205 104.1ZM112.8 128.8L111.5 123.2L116.8 125ZM160.9 105.5L154.1 102.8L156.1 96.9Z"/><path fill="#b09000" stroke="#b09000" d="M202.7 99.3L204.9 93.1L208.1 99.6ZM142.2 118L147.9 109.5L147.7 117.6ZM167.8 106.5L176.2 108.3L170.8 110.8ZM167.8 106.5L164.3 116.5L160.1 110.7ZM203.7 82.1L200.4 75.9L206.8 76.6ZM200.4 75.9L206.2 71.4L206.8 76.6ZM204.9 93.1L202.2 88.1L211.3 89.1ZM202.2 88.1L203.7 82.1L211.3 89.1ZM147.9 109.5L153.2 117.2L147.7 117.6ZM200.4 75.9L197.1 70.5L206.2 71.4ZM180.8 115.3L183.9 109.2L186.3 114.7ZM183.9 109.2L191.6 113.3L186.3 114.7ZM136.7 118.4L137.6 112.9L142.2 118ZM136.7 118.4L131.2 118.8L131 112.7ZM158.8 116.9L153.6 109.1L160.1 110.7ZM153.2 117.2L153.6 109.1L158.8 116.9ZM191.7 68.9L199 64.5L197.1 70.5ZM199.3 103.2L202.7 99.3L205 104.1Z"/><path fill="#b08000" stroke="#b08000" d="M191.6 113.3L187.8 105.2L196.7 111.2ZM169.8 116.1L164.3 116.5L170.8 110.8ZM164.3 116.5L158.8 116.9L160.1 110.7ZM164.3 116.5L167.8 106.5L170.8 110.8ZM175.3 115.7L169.8 116.1L170.8 110.8ZM176.2 108.3L175.3 115.7L170.8 110.8ZM180.8 115.3L175.3 115.7L176.2 108.3ZM187.8 105.2L181.8 102L186.3 99.4ZM197.1 70.5L200.4 75.9L191.7 74.4ZM202.7 99.3L199.6 92.7L204.9 93.1ZM181.8 102L183.9 109.2L176.2 108.3ZM191.7 68.9L197.1 70.5L191.7 74.4ZM193.1 102L199.3 103.2L196.7 111.2Z"/><path fill="#007060" stroke="#007060" d="M114.7 117.7L105.3 119.8L110.8 110.8ZM112.8 128.8L108.8 132.6L104.9 125.7Z"/><path fill="#006070" stroke="#006070" d="M105.3 119.8L111.5 123.2L104.9 125.7ZM109 96.1L102.9 93.8L110 90.9ZM105.1 110.7L107.6 104.2L110.8 110.8Z"/><path fill="#007050" stroke="#007050" d="M114.7 117.7L111.5 123.2L105.3 119.8ZM111.5 123.2L112.8 128.8L104.9 125.7ZM107.6 104.2L109 96.1L112.1 101.6Z"/><path fill="#00a0a0" stroke="#00a0a0" d="M118.5 97.9L123.1 100.6L120.4 105Z"/><path fill="#0050b0" stroke="#0050b0" d="M118.5 97.9L112.1 101.6L114.2 94.4ZM107.6 104.2L112.1 101.6L115.4 106.7Z"/><path fill="#0090b0" stroke="#0090b0" d="M115.4 106.7L112.1 101.6L120.4 105Z"/><path fill="#0080b0" stroke="#0080b0" d="M112.1 101.6L118.5 97.9L120.4 105Z"/><path fill="#00a060" stroke="#00a060" d="M115.4 106.7L119.4 111.5L110.8 110.8ZM167.1 95.7L169.3 100.6L161.6 96.3Z"/><path fill="#10a000" stroke="#10a000" d="M119.4 111.5L114.7 117.7L110.8 110.8ZM154.1 102.8L145.1 104.1L150.6 97.5ZM145.1 104.1L139.8 103.9L139.6 98.7Z"/><path fill="#00a010" stroke="#00a010" d="M134.1 99.3L135.4 108.2L128.6 99.9ZM139.8 103.9L134.1 99.3L139.6 98.7ZM150.6 97.5L145.1 104.1L145.1 98.1ZM145.1 104.1L139.6 98.7L145.1 98.1Z"/><path fill="#a0a000" stroke="#a0a000" d="M211.8 67L204.3 66.3L206.4 61.3ZM191.7 57.9L198.7 57L191.7 63.4ZM120.8 121.2L119.4 111.5L125 113.7ZM199 64.5L198.7 57L206.4 61.3Z"/><path fill="#a0b000" stroke="#a0b000" d="M206.2 71.4L204.3 66.3L211.8 67Z"/><path fill="#b05000" stroke="#b05000" d="M187.8 90.1L190.7 85.4L196.8 87.7ZM194 94.4L187.8 90.1L196.8 87.7ZM187.8 90.1L194 94.4L186.3 99.4ZM190.7 85.4L197.2 81.6L196.8 87.7ZM191.7 80L197.2 81.6L190.7 85.4Z"/><path fill="#90a000" stroke="#90a000" d="M198.7 57L206.2 55.4L206.4 61.3ZM181.8 102L183.3 93.1L186.3 99.4ZM137.6 112.9L131 112.7L135.4 108.2ZM141.5 109.2L137.6 112.9L135.4 108.2ZM198.7 57L191.7 57.9L191.7 52.3ZM154.1 102.8L153.6 109.1L147.9 109.5Z"/><path fill="#00a040" stroke="#00a040" d="M183.3 93.1L181.8 102L178 94.4Z"/><path fill="#002070" stroke="#002070" d="M105.1 110.7L97.6 107.4L102.2 103.7ZM105.1 110.7L101.9 115.1L97.6 107.4Z"/><path fill="#0030b0" stroke="#0030b0" d="M109 96.1L110 90.9L114.2 94.4ZM112.1 101.6L109 96.1L114.2 94.4Z"/><path fill="#00a070" stroke="#00a070" d="M169.3 100.6L172.5 95L174.9 99.7Z"/><path fill="#00a080" stroke="#00a080" d="M169.3 100.6L167.1 95.7L172.5 95Z"/><path fill="#00a000" stroke="#00a000" d="M169.3 100.6L160.9 105.5L161.6 96.3Z"/><path fill="#b07000" stroke="#b07000" d="M197.2 81.6L200.4 75.9L203.7 82.1ZM202.2 88.1L197.2 81.6L203.7 82.1ZM200.4 75.9L197.2 81.6L191.7 74.4ZM193.1 102L187.8 105.2L186.3 99.4ZM187.8 105.2L193.1 102L196.7 111.2ZM199.6 92.7L202.2 88.1L204.9 93.1ZM194 94.4L199.6 92.7L202.7 99.3ZM183.9 109.2L181.8 102L187.8 105.2ZM183.9 109.2L180.8 115.3L176.2 108.3ZM183.9 109.2L187.8 105.2L191.6 113.3ZM199.3 103.2L194 94.4L202.7 99.3ZM199.3 103.2L193.1 102L194 94.4Z"/><path fill="#b06000" stroke="#b06000" d="M197.2 81.6L202.2 88.1L196.8 87.7ZM194 94.4L193.1 102L186.3 99.4ZM202.2 88.1L199.6 92.7L196.8 87.7ZM199.6 92.7L194 94.4L196.8 87.7ZM197.2 81.6L191.7 80L191.7 74.4Z"/><path fill="#0070b0" stroke="#0070b0" d="M107.6 104.2L115.4 106.7L110.8 110.8Z"/><path fill="#b0b000" stroke="#b0b000" d="M198.7 57L199 64.5L191.7 63.4Z"/></g></g><rect x="30" y="40" width="195" height="110" filter="url(#tn3)"/></g></svg></div>
<div class="thumb" style="left:810px"><svg width="261" height="196" viewBox="0 0 261 196" style="position:absolute;left:0;top:0"><polygon points="38.6,93.5 39.6,91.2 41.5,90.2 104.6,84.6 106.4,84.9 122.6,98.3 180.9,91.8 185.5,89.4 188.4,85.0 189.4,80.1 189.4,50.5 190.2,48.6 193.0,47.4 201.0,46.6 210.0,47.3 213.2,48.6 214.1,50.4 214.1,85.0 213.0,94.0 209.5,102.0 203.9,109.2 197.0,113.8 189.4,116.6 181.0,117.6 123.8,121.6 107.4,137.0 105.5,137.6 47.6,143.3 45.6,142.4 43.0,138.0 40.2,128.0 38.2,115.0 37.6,104.0 38.0,97.0" fill="#00030c" stroke="#00030c" stroke-width="0.6"/><g clip-path="url(#tS)"><g filter="url(#tb)"><g stroke-width="0.8" stroke-linejoin="round"><path fill="#309000" stroke="#309000" d="M203.9 54.8L206.3 49.3L211.6 50.5ZM206.3 49.3L203.9 54.8L200.8 48.9ZM211.8 56L203.9 54.8L211.6 50.5ZM211.8 56L211.8 61.5L205.1 60ZM136.7 104.7L142.1 104.1L142.1 110.2ZM142.1 104.1L147.3 104L142.1 110.2ZM150.5 108.6L147.3 104L153.2 103Z"/><path fill="#001050" stroke="#001050" d="M45.5 137.7L49.4 132.1L49.3 140.8ZM49.4 132.1L45.5 137.7L43.8 132.4ZM59.4 128.8L54.1 127.8L61.4 123.8ZM71.5 106L75.8 114L69.2 111.4ZM59.4 128.8L54.9 134.2L54.1 127.8ZM62 113.3L64.7 107.9L69.2 111.4ZM64.7 107.9L71.5 106L69.2 111.4ZM64.7 107.9L57.7 105.2L62.1 102.1ZM42.4 127.1L49.4 132.1L43.8 132.4ZM46.2 107.2L40.3 110.7L40 105.2ZM46.2 100.7L46.2 107.2L40 105.2ZM40.2 99.6L46.2 100.7L40 105.2ZM46.2 100.7L45.3 92.2L50.8 91.7ZM46.2 100.7L40.2 99.6L40.8 94.2ZM45.3 92.2L46.2 100.7L40.8 94.2ZM64.5 96.5L67.3 90.2L71.2 94.9ZM96.9 93.3L94.8 87.8L100.3 87.3ZM80.3 94.8L76.2 98.3L71.2 94.9ZM59.3 97.3L64.5 96.5L62.1 102.1ZM57.7 105.2L59.3 97.3L62.1 102.1ZM71.5 106L77.8 107.6L75.8 114ZM76.2 98.3L77.8 107.6L71.5 106ZM60.4 134.1L59.4 128.8L65.9 131.8ZM60.4 134.1L54.9 134.2L59.4 128.8ZM74.9 133.2L71.2 138.7L65.9 131.8ZM73.2 126.1L74.9 133.2L65.9 131.8ZM81.6 121.9L75.8 114L84.1 115.6ZM75.8 114L67.2 119.5L69.2 111.4ZM62 113.3L67.2 119.5L61.4 123.8ZM67.2 119.5L62 113.3L69.2 111.4ZM49.4 132.1L50.9 122.5L54.1 127.8ZM42.4 127.1L50.9 122.5L49.4 132.1ZM50.9 122.5L42.4 127.1L41.5 121.6ZM96.9 93.3L99.8 98.2L94.4 100.1ZM82.2 137.6L74.9 133.2L84.4 131.6ZM76.2 98.3L69.3 100.5L71.2 94.9ZM69.3 100.5L64.5 96.5L71.2 94.9ZM64.5 96.5L69.3 100.5L62.1 102.1ZM69.3 100.5L64.7 107.9L62.1 102.1ZM64.7 107.9L69.3 100.5L71.5 106ZM91.6 109.5L88 103.1L94.4 100.1ZM90.1 94L96.9 93.3L94.4 100.1ZM88 103.1L90.1 94L94.4 100.1ZM94.8 87.8L90.1 94L89.3 88.3ZM90.1 94L94.8 87.8L96.9 93.3ZM52.5 101.8L59.3 97.3L57.7 105.2ZM46.2 100.7L52.5 101.8L46.2 107.2ZM71.2 138.7L65.8 139.2L65.9 131.8ZM65.8 139.2L60.4 134.1L65.9 131.8ZM74.6 120.5L67.2 119.5L75.8 114ZM67.2 119.5L74.6 120.5L73.2 126.1ZM81.6 121.9L74.6 120.5L75.8 114ZM74.6 120.5L80.1 126.9L73.2 126.1ZM80.1 126.9L74.6 120.5L81.6 121.9ZM67.2 119.5L67.7 126.1L61.4 123.8ZM67.7 126.1L67.2 119.5L73.2 126.1ZM67.7 126.1L73.2 126.1L65.9 131.8ZM67.7 126.1L59.4 128.8L61.4 123.8ZM59.4 128.8L67.7 126.1L65.9 131.8ZM57.3 110.4L64.7 107.9L62 113.3ZM64.7 107.9L57.3 110.4L57.7 105.2ZM45.9 114.8L40.3 110.7L46.2 107.2ZM103 92.5L99.8 98.2L96.9 93.3ZM103 92.5L96.9 93.3L100.3 87.3ZM87.7 137L82.2 137.6L84.4 131.6ZM93.2 136.5L87.7 137L90 130.4ZM74.9 133.2L76.7 138.1L71.2 138.7ZM82.2 137.6L76.7 138.1L74.9 133.2ZM78.3 89.2L83.8 88.8L80.3 94.8ZM83.8 88.8L85.2 97L80.3 94.8ZM90.1 94L83.8 88.8L89.3 88.3ZM83.8 88.8L90.1 94L85.2 97ZM67.3 90.2L72.8 89.7L71.2 94.9ZM72.8 89.7L80.3 94.8L71.2 94.9ZM72.8 89.7L78.3 89.2L80.3 94.8ZM61.8 90.7L67.3 90.2L64.5 96.5ZM59.3 97.3L61.8 90.7L64.5 96.5ZM56.3 91.2L61.8 90.7L59.3 97.3ZM83.2 107.6L91.6 109.5L84.1 115.6ZM83.2 107.6L88 103.1L91.6 109.5ZM75.8 114L83.2 107.6L84.1 115.6ZM77.8 107.6L83.2 107.6L75.8 114ZM83.2 107.6L77.8 107.6L80.8 101.6ZM88 103.1L83.2 107.6L80.8 101.6ZM52.5 101.8L53.9 95.9L59.3 97.3ZM56.3 91.2L53.9 95.9L50.8 91.7ZM53.9 95.9L56.3 91.2L59.3 97.3ZM53.9 95.9L46.2 100.7L50.8 91.7ZM53.9 95.9L52.5 101.8L46.2 100.7ZM54.9 134.2L54.8 140.3L49.3 140.8ZM56.5 119.3L57.3 110.4L62 113.3ZM56.5 119.3L62 113.3L61.4 123.8ZM54.1 127.8L56.5 119.3L61.4 123.8ZM50.9 122.5L56.5 119.3L54.1 127.8ZM51.4 109.1L45.9 114.8L46.2 107.2ZM52.5 101.8L51.4 109.1L46.2 107.2ZM51.4 109.1L52.5 101.8L57.7 105.2ZM57.3 110.4L51.4 109.1L57.7 105.2ZM98.7 136L95.8 131.6L104.2 135.4ZM95.8 131.6L98.7 136L93.2 136.5ZM88.8 119.8L93 123.8L86.7 125.4ZM88.8 119.8L81.6 121.9L84.1 115.6ZM81.6 121.9L88.8 119.8L86.7 125.4ZM93 123.8L97.7 120.9L98.7 126.2ZM97.7 120.9L103 123.1L98.7 126.2ZM103 123.1L97.7 120.9L99.9 115.9ZM60.4 134.1L60.3 139.7L54.9 134.2ZM60.3 139.7L54.8 140.3L54.9 134.2ZM65.8 139.2L60.3 139.7L60.4 134.1ZM51.4 109.1L53 114.6L45.9 114.8ZM56.5 119.3L53 114.6L57.3 110.4ZM53 114.6L51.4 109.1L57.3 110.4ZM97.7 120.9L94.6 116.1L99.9 115.9ZM88.8 119.8L94.6 116.1L93 123.8ZM94.6 116.1L97.7 120.9L93 123.8ZM97.6 110.8L94.6 116.1L91.6 109.5ZM91.6 109.5L94.6 116.1L84.1 115.6ZM94.6 116.1L88.8 119.8L84.1 115.6ZM98.9 105.6L91.6 109.5L94.4 100.1ZM98.9 105.6L97.6 110.8L91.6 109.5ZM99.8 98.2L98.9 105.6L94.4 100.1ZM104.1 104.6L98.9 105.6L99.8 98.2ZM97.6 110.8L98.9 105.6L104.8 112.6Z"/><path fill="#50a000" stroke="#50a000" d="M208.1 99.6L201.6 94.9L210.3 94.5ZM211.3 89.1L203.5 89L211.8 83.6ZM203.5 89L211.3 89.1L210.3 94.5ZM114.6 116.9L122.7 114.4L120.8 121.2ZM206.2 71L206.4 65.1L211.8 67ZM191.7 57.9L197.5 58.6L191.7 63.4ZM206.4 65.1L201.3 68.3L205.1 60ZM197.1 64L197.5 58.6L205.1 60ZM197.5 58.6L197.1 64L191.7 63.4ZM158.9 111.1L150.5 108.6L153.2 103ZM158.9 111.1L159.2 104L167.1 104.6Z"/><path fill="#40a000" stroke="#40a000" d="M203.9 54.8L211.8 56L205.1 60ZM199.6 99.8L208.1 99.6L205 104.1ZM201.3 108.2L199.6 99.8L205 104.1ZM197.5 58.6L203.9 54.8L205.1 60ZM195.3 49.5L197.5 58.6L191.7 52.3ZM203.9 54.8L197.5 58.6L200.8 48.9ZM211.8 61.5L206.4 65.1L205.1 60ZM205.1 78.6L211.8 72.6L211.8 78.1ZM205.1 78.6L211.8 78.1L211.8 83.6ZM197.5 58.6L191.7 57.9L191.7 52.3ZM116.8 125L114.6 116.9L120.8 121.2ZM132.9 111L122.7 114.4L125.5 108.3ZM132.9 111L136.7 104.7L142.1 110.2ZM183.3 93.1L187.6 96.2L182.8 99ZM147.3 104L150.5 108.6L142.1 110.2ZM159.2 104L158.9 111.1L153.2 103Z"/><path fill="#002050" stroke="#002050" d="M54.9 134.2L49.4 132.1L54.1 127.8ZM49.4 132.1L54.9 134.2L49.3 140.8ZM86.7 125.4L90 130.4L84.4 131.6ZM76.2 98.3L80.3 94.8L80.8 101.6ZM80.3 94.8L85.2 97L80.8 101.6ZM77.8 107.6L76.2 98.3L80.8 101.6ZM69.3 100.5L76.2 98.3L71.5 106ZM85.2 97L88 103.1L80.8 101.6ZM90.1 94L88 103.1L85.2 97ZM74.9 133.2L80.1 126.9L84.4 131.6ZM80.1 126.9L74.9 133.2L73.2 126.1ZM80.1 126.9L86.7 125.4L84.4 131.6ZM80.1 126.9L81.6 121.9L86.7 125.4ZM95.8 131.6L98.7 126.2L104.2 135.4ZM95.8 131.6L93.2 136.5L90 130.4ZM86.7 125.4L93 123.8L90 130.4ZM93 123.8L95.8 131.6L90 130.4ZM95.8 131.6L93 123.8L98.7 126.2ZM90 130.4L87.7 137L84.4 131.6Z"/><path fill="#90a000" stroke="#90a000" d="M199.6 99.8L201.6 94.9L208.1 99.6ZM201.6 94.9L203.5 89L210.3 94.5ZM172.5 110.6L173.4 102.3L178.6 109.5ZM169.8 116.1L164.3 116.5L166.6 111.7ZM180.8 115.3L175.3 115.7L178.6 109.5ZM191.6 113.3L189.7 103.6L196.7 111.2ZM180.8 115.3L186.6 108.9L186.3 114.7ZM153.2 117.2L158.9 111.1L158.8 116.9ZM164.3 116.5L158.9 111.1L166.6 111.7ZM158.9 111.1L164.3 116.5L158.8 116.9ZM173.4 102.3L182 105.5L178.6 109.5ZM199.6 73.6L205.1 78.6L200.5 81.2Z"/><path fill="#00a0a0" stroke="#00a0a0" d="M118.5 97.9L123.1 100.6L115.7 102.3Z"/><path fill="#0080a0" stroke="#0080a0" d="M114.2 94.4L118.5 97.9L115.7 102.3ZM111.2 109.4L109.4 103.1L115.7 102.3Z"/><path fill="#0070a0" stroke="#0070a0" d="M109.4 103.1L114.2 94.4L115.7 102.3Z"/><path fill="#0060a0" stroke="#0060a0" d="M114.2 94.4L109.4 103.1L107.7 95.8ZM110 90.9L114.2 94.4L107.7 95.8Z"/><path fill="#009020" stroke="#009020" d="M142.1 104.1L139.6 98.7L145.1 98.1ZM125.5 108.3L120.8 105.7L123.1 100.6ZM136.7 104.7L134.1 99.3L139.6 98.7ZM130.3 105.1L125.5 108.3L123.1 100.6ZM150.6 97.5L147.3 104L145.1 98.1Z"/><path fill="#009010" stroke="#009010" d="M142.1 104.1L136.7 104.7L139.6 98.7ZM120.8 105.7L125.5 108.3L117.4 110.1ZM167.1 104.6L167.1 95.7L173.4 102.3ZM130.3 105.1L134.1 99.3L136.7 104.7ZM147.3 104L142.1 104.1L145.1 98.1ZM153.2 103L147.3 104L150.6 97.5Z"/><path fill="#60a000" stroke="#60a000" d="M195.5 103.1L201.3 108.2L196.7 111.2ZM172.5 110.6L167.1 104.6L173.4 102.3ZM205.1 78.6L206.2 71L211.8 72.6ZM122.7 114.4L132.9 111L131.2 118.8ZM136.7 118.4L132.9 111L142.1 110.2ZM201.3 68.3L206.4 65.1L206.2 71ZM182.8 99L182 105.5L173.4 102.3ZM201.3 68.3L197.1 64L205.1 60Z"/><path fill="#a0a000" stroke="#a0a000" d="M195.5 103.1L199.6 99.8L201.3 108.2ZM172.5 110.6L169.8 116.1L166.6 111.7ZM172.5 110.6L175.3 115.7L169.8 116.1ZM175.3 115.7L172.5 110.6L178.6 109.5ZM189.7 103.6L195.5 103.1L196.7 111.2ZM205.1 78.6L203.5 89L200.5 81.2ZM182 105.5L182.8 99L189.7 103.6ZM191.7 68.9L199.6 73.6L191.7 74.4Z"/><path fill="#a09000" stroke="#a09000" d="M199.6 99.8L195.1 93.3L201.6 94.9ZM195.5 103.1L195.1 93.3L199.6 99.8ZM200.5 81.2L203.5 89L195.8 87.1ZM195.1 93.3L203.5 89L201.6 94.9ZM186.6 108.9L189.7 103.6L191.6 113.3ZM186.6 108.9L180.8 115.3L178.6 109.5ZM187.6 96.2L195.1 93.3L195.5 103.1ZM189.7 103.6L187.6 96.2L195.5 103.1ZM182.8 99L187.6 96.2L189.7 103.6ZM186.6 108.9L182 105.5L189.7 103.6ZM182 105.5L186.6 108.9L178.6 109.5ZM191.7 80L199.6 73.6L200.5 81.2ZM199.6 73.6L191.7 80L191.7 74.4Z"/><path fill="#a08000" stroke="#a08000" d="M203.5 89L195.1 93.3L195.8 87.1ZM191.7 80L200.5 81.2L195.8 87.1ZM187.6 96.2L187.8 90.1L195.1 93.3Z"/><path fill="#00a070" stroke="#00a070" d="M173.4 102.3L172.5 95L178 94.4ZM123.1 100.6L120.8 105.7L115.7 102.3Z"/><path fill="#209000" stroke="#209000" d="M211.8 72.6L206.2 71L211.8 67ZM125.5 108.3L122.7 114.4L117.4 110.1ZM122.7 114.4L114.6 116.9L117.4 110.1ZM206.4 65.1L211.8 61.5L211.8 67ZM130.3 105.1L132.9 111L125.5 108.3ZM132.9 111L130.3 105.1L136.7 104.7Z"/><path fill="#000050" stroke="#000050" d="M45.9 114.8L40.7 116.2L40.3 110.7ZM40.7 116.2L45.9 114.8L41.5 121.6ZM45.9 114.8L50.9 122.5L41.5 121.6ZM99.9 115.9L97.6 110.8L104.8 112.6ZM45.9 114.8L53 114.6L50.9 122.5ZM53 114.6L56.5 119.3L50.9 122.5ZM94.6 116.1L97.6 110.8L99.9 115.9Z"/><path fill="#00a050" stroke="#00a050" d="M120.8 105.7L117.4 110.1L115.7 102.3ZM114.6 116.9L109.1 116.4L111.2 109.4Z"/><path fill="#00a090" stroke="#00a090" d="M117.4 110.1L111.2 109.4L115.7 102.3Z"/><path fill="#003070" stroke="#003070" d="M99.8 98.2L103 92.5L107.7 95.8ZM104.1 104.6L99.8 98.2L107.7 95.8ZM98.7 126.2L105.5 127.7L104.2 135.4ZM103 123.1L105.5 127.7L98.7 126.2ZM109.1 116.4L99.9 115.9L104.8 112.6ZM109.1 116.4L103 123.1L99.9 115.9Z"/><path fill="#002070" stroke="#002070" d="M103 92.5L100.3 87.3L105.7 87.3ZM98.9 105.6L104.1 104.6L104.8 112.6Z"/><path fill="#004070" stroke="#004070" d="M110 90.9L103 92.5L105.7 87.3ZM104.1 104.6L111.2 109.4L104.8 112.6ZM105.5 127.7L103 123.1L108.4 123.2Z"/><path fill="#005070" stroke="#005070" d="M103 92.5L110 90.9L107.7 95.8ZM111.2 109.4L104.1 104.6L109.4 103.1ZM109.4 103.1L104.1 104.6L107.7 95.8ZM105.5 127.7L108.8 132.6L104.2 135.4ZM111.2 109.4L109.1 116.4L104.8 112.6ZM103 123.1L109.1 116.4L108.4 123.2Z"/><path fill="#80a000" stroke="#80a000" d="M167.1 104.6L172.5 110.6L166.6 111.7ZM142.2 118L142.1 110.2L147.7 117.6ZM142.2 118L136.7 118.4L142.1 110.2ZM203.5 89L205.1 78.6L211.8 83.6ZM186.6 108.9L191.6 113.3L186.3 114.7ZM187.6 96.2L183.3 93.1L187.8 90.1ZM158.9 111.1L167.1 104.6L166.6 111.7ZM205.1 78.6L199.6 73.6L206.2 71ZM201.3 68.3L199.6 73.6L191.7 68.9ZM150.5 108.6L158.9 111.1L153.2 117.2ZM150.5 108.6L153.2 117.2L147.7 117.6Z"/><path fill="#007070" stroke="#007070" d="M112.8 128.8L105.5 127.7L108.4 123.2ZM108.8 132.6L105.5 127.7L112.8 128.8ZM109.1 116.4L114.6 116.9L108.4 123.2Z"/><path fill="#70a000" stroke="#70a000" d="M120.8 121.2L122.7 114.4L125.7 119.2ZM122.7 114.4L131.2 118.8L125.7 119.2ZM131.2 118.8L132.9 111L136.7 118.4ZM197.1 64L191.7 68.9L191.7 63.4ZM197.1 64L201.3 68.3L191.7 68.9ZM199.6 73.6L201.3 68.3L206.2 71ZM142.1 110.2L150.5 108.6L147.7 117.6Z"/><path fill="#009030" stroke="#009030" d="M114.6 116.9L111.2 109.4L117.4 110.1ZM156.1 96.9L153.2 103L150.6 97.5ZM134.1 99.3L130.3 105.1L128.6 99.9ZM182.8 99L173.4 102.3L178 94.4ZM159.2 104L156.1 96.9L161.6 96.3Z"/><path fill="#a07000" stroke="#a07000" d="M190.7 85.4L191.7 80L195.8 87.1ZM195.1 93.3L187.8 90.1L195.8 87.1ZM187.8 90.1L190.7 85.4L195.8 87.1Z"/><path fill="#00a040" stroke="#00a040" d="M167.1 95.7L167.1 104.6L161.6 96.3ZM130.3 105.1L123.1 100.6L128.6 99.9ZM183.3 93.1L182.8 99L178 94.4Z"/><path fill="#00a060" stroke="#00a060" d="M167.1 95.7L172.5 95L173.4 102.3Z"/><path fill="#30a000" stroke="#30a000" d="M197.5 58.6L195.3 49.5L200.8 48.9Z"/><path fill="#009000" stroke="#009000" d="M116.8 125L112.8 128.8L108.4 123.2ZM114.6 116.9L116.8 125L108.4 123.2ZM167.1 104.6L159.2 104L161.6 96.3ZM159.2 104L153.2 103L156.1 96.9Z"/></g></g><rect x="30" y="40" width="195" height="110" filter="url(#tn4)"/></g></svg></div>
<div class="cap" style="left:9px">Проект 1::Сценарий 1</div>
<div class="cap" style="left:276px">Проект 1::Сценарий 1 - Mesh 1</div>
<div class="cap" style="left:543px">Проект 1::Сценарий 1 - Mesh 2</div>
<div class="cap" style="left:810px">Проект 1::Сценарий 1 - Mesh 3</div>

</body></html>
